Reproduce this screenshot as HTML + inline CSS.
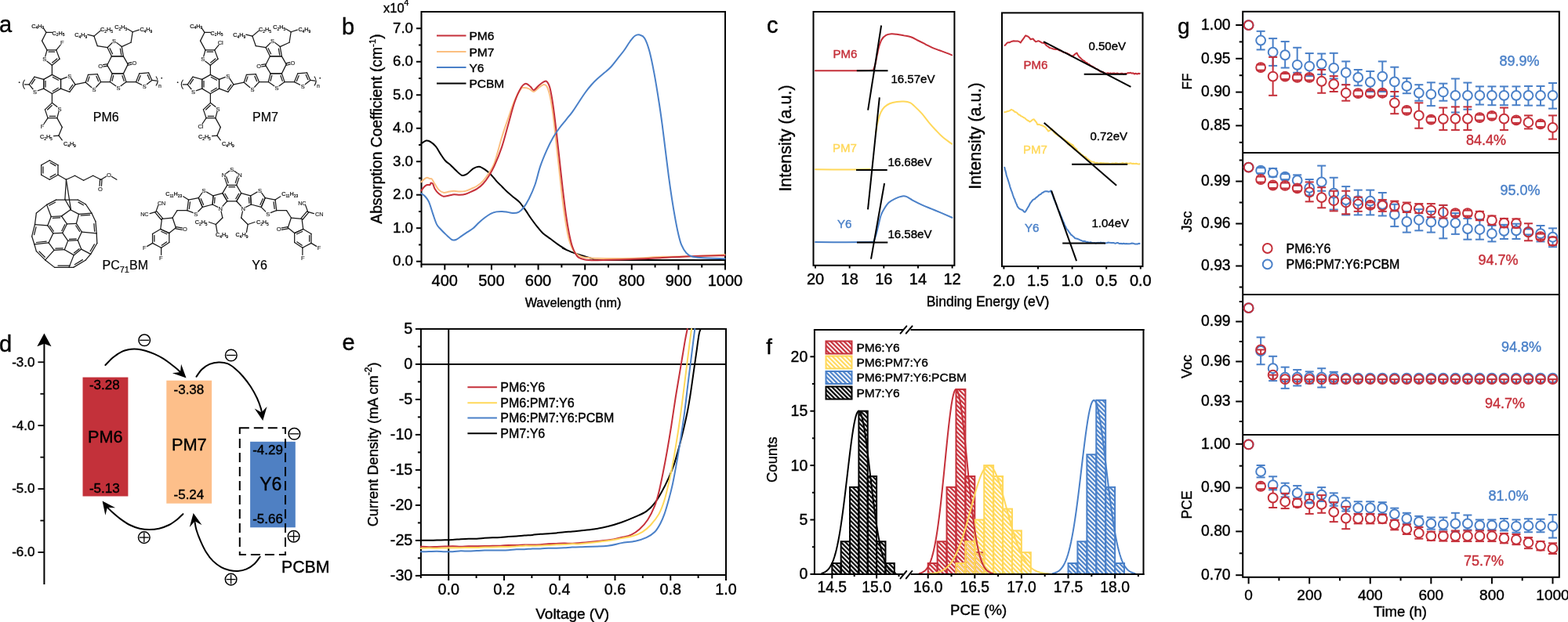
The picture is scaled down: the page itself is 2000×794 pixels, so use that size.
<!DOCTYPE html>
<html><head><meta charset="utf-8"><style>
html,body{margin:0;padding:0;background:#fff;overflow:hidden;}
svg{display:block;}
text{font-family:'Liberation Sans', Arial, sans-serif;}
</style></head><body>
<svg width="2000" height="794" viewBox="0 0 2000 794">
<rect width="2000" height="794" fill="#fff"/>
<text x="-1" y="41" font-size="29" text-anchor="start" fill="#000" stroke="#000" stroke-width="0.4" >a</text>
<text x="436" y="44" font-size="29" text-anchor="start" fill="#000" stroke="#000" stroke-width="0.4" >b</text>
<text x="978" y="42" font-size="29" text-anchor="start" fill="#000" stroke="#000" stroke-width="0.4" >c</text>
<text x="-1" y="449" font-size="29" text-anchor="start" fill="#000" stroke="#000" stroke-width="0.4" >d</text>
<text x="436.5" y="447.3" font-size="29" text-anchor="start" fill="#000" stroke="#000" stroke-width="0.4" >e</text>
<text x="977.3" y="451.7" font-size="27.5" text-anchor="start" fill="#000" stroke="#000" stroke-width="0.4" >f</text>
<text x="1502" y="42.6" font-size="28" text-anchor="start" fill="#000" stroke="#000" stroke-width="0.4" >g</text>
<rect x="537.5" y="15" width="387.5" height="322.5" stroke="#000" stroke-width="2" fill="none" />
<line x1="531" y1="333.7" x2="537.5" y2="333.7" stroke="#000" stroke-width="2" />
<text x="527" y="339.1" font-size="18.7" text-anchor="end" fill="#000" stroke="#000" stroke-width="0.4" >0.0</text>
<line x1="534" y1="312.45" x2="537.5" y2="312.45" stroke="#000" stroke-width="2" />
<line x1="531" y1="291.21" x2="537.5" y2="291.21" stroke="#000" stroke-width="2" />
<text x="527" y="296.61" font-size="18.7" text-anchor="end" fill="#000" stroke="#000" stroke-width="0.4" >1.0</text>
<line x1="534" y1="269.96" x2="537.5" y2="269.96" stroke="#000" stroke-width="2" />
<line x1="531" y1="248.72" x2="537.5" y2="248.72" stroke="#000" stroke-width="2" />
<text x="527" y="254.12" font-size="18.7" text-anchor="end" fill="#000" stroke="#000" stroke-width="0.4" >2.0</text>
<line x1="534" y1="227.47" x2="537.5" y2="227.47" stroke="#000" stroke-width="2" />
<line x1="531" y1="206.23" x2="537.5" y2="206.23" stroke="#000" stroke-width="2" />
<text x="527" y="211.63" font-size="18.7" text-anchor="end" fill="#000" stroke="#000" stroke-width="0.4" >3.0</text>
<line x1="534" y1="184.98" x2="537.5" y2="184.98" stroke="#000" stroke-width="2" />
<line x1="531" y1="163.74" x2="537.5" y2="163.74" stroke="#000" stroke-width="2" />
<text x="527" y="169.14" font-size="18.7" text-anchor="end" fill="#000" stroke="#000" stroke-width="0.4" >4.0</text>
<line x1="534" y1="142.49" x2="537.5" y2="142.49" stroke="#000" stroke-width="2" />
<line x1="531" y1="121.25" x2="537.5" y2="121.25" stroke="#000" stroke-width="2" />
<text x="527" y="126.65" font-size="18.7" text-anchor="end" fill="#000" stroke="#000" stroke-width="0.4" >5.0</text>
<line x1="534" y1="100" x2="537.5" y2="100" stroke="#000" stroke-width="2" />
<line x1="531" y1="78.76" x2="537.5" y2="78.76" stroke="#000" stroke-width="2" />
<text x="527" y="84.16" font-size="18.7" text-anchor="end" fill="#000" stroke="#000" stroke-width="0.4" >6.0</text>
<line x1="534" y1="57.51" x2="537.5" y2="57.51" stroke="#000" stroke-width="2" />
<line x1="531" y1="36.27" x2="537.5" y2="36.27" stroke="#000" stroke-width="2" />
<text x="527" y="41.67" font-size="18.7" text-anchor="end" fill="#000" stroke="#000" stroke-width="0.4" >7.0</text>
<line x1="537.5" y1="337.5" x2="537.5" y2="341.5" stroke="#000" stroke-width="2" />
<line x1="567.31" y1="337.5" x2="567.31" y2="344.5" stroke="#000" stroke-width="2" />
<text x="567.31" y="364.6" font-size="20" text-anchor="middle" fill="#000" stroke="#000" stroke-width="0.4" >400</text>
<line x1="597.12" y1="337.5" x2="597.12" y2="341.5" stroke="#000" stroke-width="2" />
<line x1="626.92" y1="337.5" x2="626.92" y2="344.5" stroke="#000" stroke-width="2" />
<text x="626.92" y="364.6" font-size="20" text-anchor="middle" fill="#000" stroke="#000" stroke-width="0.4" >500</text>
<line x1="656.73" y1="337.5" x2="656.73" y2="341.5" stroke="#000" stroke-width="2" />
<line x1="686.54" y1="337.5" x2="686.54" y2="344.5" stroke="#000" stroke-width="2" />
<text x="686.54" y="364.6" font-size="20" text-anchor="middle" fill="#000" stroke="#000" stroke-width="0.4" >600</text>
<line x1="716.35" y1="337.5" x2="716.35" y2="341.5" stroke="#000" stroke-width="2" />
<line x1="746.15" y1="337.5" x2="746.15" y2="344.5" stroke="#000" stroke-width="2" />
<text x="746.15" y="364.6" font-size="20" text-anchor="middle" fill="#000" stroke="#000" stroke-width="0.4" >700</text>
<line x1="775.96" y1="337.5" x2="775.96" y2="341.5" stroke="#000" stroke-width="2" />
<line x1="805.77" y1="337.5" x2="805.77" y2="344.5" stroke="#000" stroke-width="2" />
<text x="805.77" y="364.6" font-size="20" text-anchor="middle" fill="#000" stroke="#000" stroke-width="0.4" >800</text>
<line x1="835.58" y1="337.5" x2="835.58" y2="341.5" stroke="#000" stroke-width="2" />
<line x1="865.38" y1="337.5" x2="865.38" y2="344.5" stroke="#000" stroke-width="2" />
<text x="865.38" y="364.6" font-size="20" text-anchor="middle" fill="#000" stroke="#000" stroke-width="0.4" >900</text>
<line x1="895.19" y1="337.5" x2="895.19" y2="341.5" stroke="#000" stroke-width="2" />
<line x1="925" y1="337.5" x2="925" y2="344.5" stroke="#000" stroke-width="2" />
<text x="925" y="364.6" font-size="20" text-anchor="middle" fill="#000" stroke="#000" stroke-width="0.4" >1000</text>
<text x="731" y="392" font-size="16.2" text-anchor="middle" fill="#000" stroke="#000" stroke-width="0.4" >Wavelength (nm)</text>
<text x="486.5" y="164.5" font-size="19.3" text-anchor="middle" stroke="#000" stroke-width="0.4" transform="rotate(-90 486.5 164.5)">Absorption Coefficient (cm<tspan font-size="11.5" dy="-7.5">-1</tspan><tspan dy="7.5">)</tspan></text>
<text x="489" y="15.6" font-size="16.5" text-anchor="start" fill="#000" stroke="#000" stroke-width="0.4" >x10<tspan font-size="10.5" dy="-9">4</tspan></text>
<line x1="557" y1="45.6" x2="594.5" y2="45.6" stroke="#C5303A" stroke-width="2" />
<text x="598.5" y="51.2" font-size="15.5" text-anchor="start" fill="#000" stroke="#000" stroke-width="0.4" >PM6</text>
<line x1="557" y1="66.1" x2="594.5" y2="66.1" stroke="#FBBF80" stroke-width="2" />
<text x="598.5" y="71.7" font-size="15.5" text-anchor="start" fill="#000" stroke="#000" stroke-width="0.4" >PM7</text>
<line x1="557" y1="86.1" x2="594.5" y2="86.1" stroke="#4A80C8" stroke-width="2" />
<text x="598.5" y="91.7" font-size="15.5" text-anchor="start" fill="#000" stroke="#000" stroke-width="0.4" >Y6</text>
<line x1="557" y1="106.5" x2="594.5" y2="106.5" stroke="#000" stroke-width="2" />
<text x="598.5" y="112.1" font-size="15.5" text-anchor="start" fill="#000" stroke="#000" stroke-width="0.4" >PCBM</text>
<path d="M537.37,183.17 C538.39,182.56 541.67,179.89 543.51,179.48 C545.36,179.07 546.38,179.48 548.43,180.71 C550.48,181.94 553.55,184.19 555.8,186.86 C558.05,189.52 559.89,193.61 561.94,196.68 C563.99,199.75 566.04,203.03 568.08,205.28 C570.13,207.53 571.97,208.15 574.23,210.2 C576.48,212.24 579.14,215.32 581.6,217.57 C584.05,219.82 586.72,222.89 588.97,223.71 C591.22,224.53 592.65,223.91 595.11,222.48 C597.57,221.05 601.05,216.75 603.71,215.11 C606.37,213.47 608.62,212.45 611.08,212.65 C613.54,212.86 616,214.7 618.45,216.34 C620.91,217.98 623.37,220.02 625.82,222.48 C628.28,224.94 630.74,228.42 633.19,231.08 C635.65,233.74 638.11,236 640.57,238.45 C643.02,240.91 645.48,243.57 647.94,245.82 C650.39,248.08 652.85,249.92 655.31,251.97 C657.76,254.01 660.22,255.45 662.68,258.11 C665.14,260.77 667.59,264.46 670.05,267.94 C672.51,271.42 674.96,275.51 677.42,278.99 C679.88,282.47 682.33,285.75 684.79,288.82 C687.25,291.89 689.3,294.76 692.16,297.42 C695.03,300.08 698.71,302.33 701.99,304.79 C705.27,307.25 708.54,309.91 711.82,312.16 C715.09,314.41 720.65,317.54 721.65,318.3 C722.64,319.07 716.37,316.14 717.77,316.77 C719.17,317.4 725.96,320.52 730.05,322.09 C734.15,323.66 738.24,324.88 742.33,326.18 C746.43,327.48 750.52,328.91 754.61,329.86 C758.71,330.82 751.88,331.57 766.89,331.91 C781.9,332.25 818.4,331.91 844.67,331.91 C870.93,331.91 911.18,331.91 924.49,331.91" stroke="#000" stroke-width="2" fill="none" stroke-linejoin="round" stroke-linecap="round"/>
<path d="M537.37,232.31 C537.99,231.7 539.83,229.57 541.06,228.62 C542.29,227.68 543.51,226.74 544.74,226.66 C545.97,226.58 547.4,227.81 548.43,228.13 C549.45,228.46 549.86,227.52 550.88,228.62 C551.91,229.73 553.14,232.51 554.57,234.77 C556,237.02 557.64,240.29 559.48,242.14 C561.33,243.98 563.37,245.41 565.63,245.82 C567.88,246.23 570.75,244.92 573,244.59 C575.25,244.27 576.89,243.86 579.14,243.86 C581.39,243.86 584.05,244.59 586.51,244.59 C588.97,244.59 591.43,244.47 593.88,243.86 C596.34,243.24 598.8,242.01 601.25,240.91 C603.71,239.8 606.17,238.86 608.62,237.22 C611.08,235.59 613.54,233.74 616,231.08 C618.45,228.42 620.91,225.14 623.37,221.25 C625.82,217.36 627.96,215.36 630.74,207.74 C633.51,200.12 637.09,185.01 640,175.55 C642.91,166.09 645.46,158.83 648.19,150.99 C650.92,143.14 653.64,134.75 656.37,128.47 C659.1,122.2 662.51,116.06 664.56,113.33 C666.61,110.6 666.95,112.1 668.65,112.1 C670.36,112.1 672.75,112.51 674.79,113.33 C676.84,114.15 678.89,117.22 680.93,117.01 C682.98,116.81 685.03,113.6 687.07,112.1 C689.12,110.6 691.51,108.35 693.21,108.01 C694.92,107.67 695.94,107.67 697.31,110.05 C698.67,112.44 700.04,116.19 701.4,122.33 C702.76,128.47 704.13,136.66 705.49,146.89 C706.86,157.13 708.22,171.45 709.59,183.73 C710.95,196.01 712.32,208.29 713.68,220.57 C715.04,232.85 716.41,246.5 717.77,257.41 C719.14,268.33 720.5,277.88 721.87,286.07 C723.23,294.25 724.25,300.73 725.96,306.53 C727.67,312.33 729.71,317.45 732.1,320.86 C734.49,324.27 736.53,325.57 740.29,327 C744.04,328.43 744.04,328.98 754.61,329.46 C765.19,329.93 788.72,330.14 803.73,329.86 C818.74,329.59 831.02,328.3 844.67,327.82 C858.31,327.34 872.3,327.48 885.6,327 C898.9,326.52 918.01,325.29 924.49,324.95" stroke="#FBBF80" stroke-width="2" fill="none" stroke-linejoin="round" stroke-linecap="round"/>
<path d="M537.37,243.37 C537.99,242.55 539.83,239.68 541.06,238.45 C542.29,237.22 543.51,236.4 544.74,236 C545.97,235.59 547.61,236.4 548.43,236 C549.25,235.59 549.04,233.74 549.66,233.54 C550.27,233.33 551.29,233.54 552.11,234.77 C552.93,236 553.34,238.86 554.57,240.91 C555.8,242.96 557.64,245.41 559.48,247.05 C561.33,248.69 563.37,250.33 565.63,250.74 C567.88,251.15 570.75,249.92 573,249.51 C575.25,249.1 576.89,248.4 579.14,248.28 C581.39,248.16 584.05,248.85 586.51,248.77 C588.97,248.69 591.43,248.48 593.88,247.79 C596.34,247.09 598.8,245.74 601.25,244.59 C603.71,243.45 606.17,242.55 608.62,240.91 C611.08,239.27 613.54,237.43 616,234.77 C618.45,232.1 620.91,228.83 623.37,224.94 C625.82,221.05 627.96,217.61 630.74,211.43 C633.51,205.24 637.09,196.54 640,187.83 C642.91,179.12 645.46,168.72 648.19,159.17 C650.92,149.62 653.64,138.37 656.37,130.52 C659.1,122.67 662.17,116.06 664.56,112.1 C666.95,108.14 668.65,106.98 670.7,106.78 C672.75,106.57 675.13,109.51 676.84,110.87 C678.55,112.24 679.23,115.24 680.93,114.97 C682.64,114.69 685.03,110.94 687.07,109.23 C689.12,107.53 691.51,105.62 693.21,104.73 C694.92,103.84 695.94,102.69 697.31,103.91 C698.67,105.14 700.04,106.98 701.4,112.1 C702.76,117.22 704.13,125.4 705.49,134.61 C706.86,143.82 708.22,155.76 709.59,167.36 C710.95,178.96 712.32,191.92 713.68,204.2 C715.04,216.48 716.41,229.44 717.77,241.04 C719.14,252.64 720.5,264.24 721.87,273.79 C723.23,283.34 724.6,291.52 725.96,298.35 C727.32,305.17 728.35,309.94 730.05,314.72 C731.76,319.5 733.81,324.27 736.19,327 C738.58,329.73 740.63,330.21 744.38,331.09 C748.13,331.98 748.81,332.32 758.71,332.32 C768.6,332.32 789.41,331.64 803.73,331.09 C818.06,330.55 831.02,329.73 844.67,329.05 C858.31,328.36 872.3,327.48 885.6,327 C898.9,326.52 918.01,326.32 924.49,326.18" stroke="#C5303A" stroke-width="2" fill="none" stroke-linejoin="round" stroke-linecap="round"/>
<path d="M537.37,247.05 C538.19,247.67 540.65,248.89 542.29,250.74 C543.92,252.58 545.56,254.42 547.2,258.11 C548.84,261.79 550.48,268.14 552.11,272.85 C553.75,277.56 555.39,283.09 557.03,286.36 C558.67,289.64 559.89,290.25 561.94,292.51 C563.99,294.76 566.86,297.62 569.31,299.88 C571.77,302.13 574.64,305 576.68,306.02 C578.73,307.04 579.55,306.84 581.6,306.02 C583.64,305.2 586.51,302.74 588.97,301.11 C591.43,299.47 593.88,297.83 596.34,296.19 C598.8,294.55 601.25,293.33 603.71,291.28 C606.17,289.23 608.62,286.16 611.08,283.91 C613.54,281.65 616,279.61 618.45,277.76 C620.91,275.92 623.37,274.08 625.82,272.85 C628.28,271.62 630.74,270.88 633.19,270.39 C635.65,269.9 638.11,269.82 640.57,269.9 C643.02,269.98 645.48,270.52 647.94,270.88 C650.39,271.25 653.05,272.11 655.31,272.11 C657.56,272.11 659.4,271.99 661.45,270.88 C663.5,269.78 665.34,268.43 667.59,265.48 C669.84,262.53 672.51,258.11 674.96,253.19 C677.42,248.28 679.97,242.8 682.33,236 C684.69,229.19 686.62,219.73 689.12,212.39 C691.62,205.04 694.58,198.06 697.31,191.92 C700.04,185.78 702.76,180.32 705.49,175.55 C708.22,170.77 710.95,167.02 713.68,163.27 C716.41,159.51 719.14,156.44 721.87,153.03 C724.6,149.62 727.32,146.55 730.05,142.8 C732.78,139.05 735.51,134.61 738.24,130.52 C740.97,126.43 743.7,121.99 746.43,118.24 C749.16,114.49 751.88,111.08 754.61,108.01 C757.34,104.94 760.07,102.34 762.8,99.82 C765.53,97.3 768.26,95.25 770.99,92.86 C773.72,90.47 776.44,88.43 779.17,85.49 C781.9,82.56 784.63,78.67 787.36,75.26 C790.09,71.85 792.82,68.78 795.55,65.03 C798.28,61.27 801.35,55.95 803.73,52.75 C806.12,49.54 807.83,47.15 809.87,45.79 C811.92,44.42 813.97,44.08 816.01,44.56 C818.06,45.04 820.11,45.24 822.15,48.65 C824.2,52.06 826.25,57.52 828.29,65.03 C830.34,72.53 832.39,82.76 834.43,93.68 C836.48,104.6 838.87,119.6 840.57,130.52 C842.28,141.44 843.3,148.94 844.67,159.17 C846.03,169.41 847.4,181 848.76,191.92 C850.12,202.84 851.49,214.43 852.85,224.67 C854.22,234.9 855.58,244.45 856.95,253.32 C858.31,262.19 859.68,270.38 861.04,277.88 C862.4,285.38 863.77,292.55 865.13,298.35 C866.5,304.15 867.52,308.58 869.23,312.67 C870.93,316.77 873.32,320.52 875.37,322.91 C877.41,325.29 878.44,325.98 881.51,327 C884.58,328.02 886.62,328.5 893.79,329.05 C900.95,329.59 919.37,330.07 924.49,330.27" stroke="#4A80C8" stroke-width="2" fill="none" stroke-linejoin="round" stroke-linecap="round"/>
<rect x="1037.5" y="15" width="179.9" height="323.8" stroke="#000" stroke-width="2" fill="none" />
<rect x="1278" y="16.4" width="179.5" height="323.6" stroke="#000" stroke-width="2" fill="none" />
<line x1="1040" y1="338.8" x2="1040" y2="342.5" stroke="#000" stroke-width="2" />
<text x="1040" y="363.3" font-size="20" text-anchor="middle" fill="#000" stroke="#000" stroke-width="0.4" >20</text>
<line x1="1083.65" y1="338.8" x2="1083.65" y2="342.5" stroke="#000" stroke-width="2" />
<text x="1083.65" y="363.3" font-size="20" text-anchor="middle" fill="#000" stroke="#000" stroke-width="0.4" >18</text>
<line x1="1127.3" y1="338.8" x2="1127.3" y2="342.5" stroke="#000" stroke-width="2" />
<text x="1127.3" y="363.3" font-size="20" text-anchor="middle" fill="#000" stroke="#000" stroke-width="0.4" >16</text>
<line x1="1170.95" y1="338.8" x2="1170.95" y2="342.5" stroke="#000" stroke-width="2" />
<text x="1170.95" y="363.3" font-size="20" text-anchor="middle" fill="#000" stroke="#000" stroke-width="0.4" >14</text>
<line x1="1214.6" y1="338.8" x2="1214.6" y2="342.5" stroke="#000" stroke-width="2" />
<text x="1214.6" y="363.3" font-size="20" text-anchor="middle" fill="#000" stroke="#000" stroke-width="0.4" >12</text>
<line x1="1280.4" y1="340" x2="1280.4" y2="343.5" stroke="#000" stroke-width="2" />
<text x="1280.4" y="364.6" font-size="20" text-anchor="middle" fill="#000" stroke="#000" stroke-width="0.4" >2.0</text>
<line x1="1324" y1="340" x2="1324" y2="343.5" stroke="#000" stroke-width="2" />
<text x="1324" y="364.6" font-size="20" text-anchor="middle" fill="#000" stroke="#000" stroke-width="0.4" >1.5</text>
<line x1="1367.6" y1="340" x2="1367.6" y2="343.5" stroke="#000" stroke-width="2" />
<text x="1367.6" y="364.6" font-size="20" text-anchor="middle" fill="#000" stroke="#000" stroke-width="0.4" >1.0</text>
<line x1="1411.2" y1="340" x2="1411.2" y2="343.5" stroke="#000" stroke-width="2" />
<text x="1411.2" y="364.6" font-size="20" text-anchor="middle" fill="#000" stroke="#000" stroke-width="0.4" >0.5</text>
<line x1="1454.8" y1="340" x2="1454.8" y2="343.5" stroke="#000" stroke-width="2" />
<text x="1454.8" y="364.6" font-size="20" text-anchor="middle" fill="#000" stroke="#000" stroke-width="0.4" >0.0</text>
<text x="1260" y="391" font-size="17.5" text-anchor="middle" fill="#000" stroke="#000" stroke-width="0.4" >Binding Energy (eV)</text>
<text x="1008.9" y="176.5" font-size="21.5" text-anchor="middle" fill="#000" stroke="#000" stroke-width="0.4" transform="rotate(-90 1008.9 176.5)" >Intensity (a.u.)</text>
<text x="1251" y="173.5" font-size="21.5" text-anchor="middle" fill="#000" stroke="#000" stroke-width="0.4" transform="rotate(-90 1251 173.5)" >Intensity (a.u.)</text>
<path d="M1039.99,90.28 C1046.71,90.28 1068.33,90.35 1080.34,90.28 C1092.36,90.2 1106.41,90.2 1112.08,89.83 C1117.75,89.45 1113.59,89.45 1114.35,88.01 C1115.1,86.58 1115.86,84.23 1116.61,81.21 C1117.37,78.19 1118.13,73.46 1118.88,69.88 C1119.64,66.29 1120.2,62.89 1121.15,59.67 C1122.09,56.46 1123.04,53.06 1124.55,50.61 C1126.06,48.15 1128.14,46.15 1130.22,44.94 C1132.29,43.73 1134.75,43.54 1137.02,43.35 C1139.28,43.16 1141.17,43.46 1143.82,43.8 C1146.46,44.14 1149.86,44.82 1152.89,45.39 C1155.91,45.96 1158.93,46.15 1161.96,47.2 C1164.98,48.26 1168,50.23 1171.02,51.74 C1174.05,53.25 1177.07,54.76 1180.09,56.27 C1183.11,57.78 1186.14,59.48 1189.16,60.81 C1192.18,62.13 1195.21,63.07 1198.23,64.21 C1201.25,65.34 1204.65,66.59 1207.3,67.61 C1209.94,68.63 1212.96,69.88 1214.1,70.33" stroke="#C5303A" stroke-width="2" fill="none" stroke-linejoin="round" stroke-linecap="round"/>
<path d="M1040.04,216.28 C1045.92,216.31 1063.72,216.51 1075.31,216.48 C1086.89,216.44 1103.86,216.14 1109.57,216.07" stroke="#FFD85A" stroke-width="2" fill="none" stroke-linejoin="round" stroke-linecap="round"/>
<path d="M1117.07,169.63 C1117.18,168.87 1117.26,167.74 1117.75,165.09 C1118.24,162.45 1119.07,157.35 1120.01,153.76 C1120.96,150.17 1122.09,146.39 1123.42,143.55 C1124.74,140.72 1126.06,138.64 1127.95,136.75 C1129.84,134.86 1132.11,133.35 1134.75,132.22 C1137.4,131.09 1140.8,130.41 1143.82,129.95 C1146.84,129.5 1150.05,129.31 1152.89,129.5 C1155.72,129.69 1158.55,130.07 1160.82,131.09 C1163.09,132.11 1164.03,133.35 1166.49,135.62 C1168.95,137.89 1172.53,141.29 1175.56,144.69 C1178.58,148.09 1181.6,152.43 1184.63,156.02 C1187.65,159.61 1190.67,163.01 1193.69,166.23 C1196.72,169.44 1199.36,172.38 1202.76,175.29 C1206.16,178.2 1212.21,182.28 1214.1,183.68" stroke="#FFD85A" stroke-width="2" fill="none" stroke-linejoin="round" stroke-linecap="round"/>
<path d="M1040.04,308.98 C1045.92,309.01 1063.38,309.22 1075.31,309.18 C1087.23,309.15 1105,309.15 1111.58,308.78 C1118.17,308.41 1113.8,308.61 1114.81,306.96 C1115.81,305.32 1116.65,302.26 1117.63,298.9 C1118.6,295.54 1119.64,290.84 1120.65,286.81 C1121.66,282.78 1122.5,278.08 1123.67,274.72 C1124.85,271.36 1126.03,269.35 1127.7,266.66 C1129.38,263.97 1131.4,260.78 1133.75,258.6 C1136.1,256.41 1138.96,254.9 1141.81,253.56 C1144.67,252.22 1148.53,250.97 1150.88,250.54 C1153.23,250.1 1153.74,250.1 1155.92,250.94 C1158.1,251.78 1160.62,253.79 1163.98,255.57 C1167.34,257.35 1172.04,259.77 1176.07,261.62 C1180.1,263.47 1184.13,264.98 1188.16,266.66 C1192.19,268.34 1195.89,269.85 1200.26,271.7 C1204.62,273.54 1212.01,276.74 1214.36,277.74" stroke="#4A80C8" stroke-width="2" fill="none" stroke-linejoin="round" stroke-linecap="round"/>
<line x1="1124.1" y1="32.5" x2="1107.1" y2="140.6" stroke="#000" stroke-width="2" />
<line x1="1092.8" y1="90.3" x2="1132.5" y2="90.3" stroke="#000" stroke-width="2" />
<line x1="1121.8" y1="124.3" x2="1107" y2="267.3" stroke="#000" stroke-width="2" />
<line x1="1092" y1="216.9" x2="1131.7" y2="216.9" stroke="#000" stroke-width="2" />
<line x1="1128.1" y1="233.8" x2="1111" y2="330.7" stroke="#000" stroke-width="2" />
<line x1="1093" y1="309.6" x2="1132.3" y2="309.6" stroke="#000" stroke-width="2" />
<text x="1062.5" y="73.6" font-size="15" text-anchor="start" fill="#C5303A" stroke="#C5303A" stroke-width="0.4" >PM6</text>
<text x="1062" y="193.6" font-size="15" text-anchor="start" fill="#FFD85A" stroke="#FFD85A" stroke-width="0.4" >PM7</text>
<text x="1068" y="290.8" font-size="15" text-anchor="start" fill="#4A80C8" stroke="#4A80C8" stroke-width="0.4" >Y6</text>
<text x="1136.5" y="106.2" font-size="15" text-anchor="start" fill="#000" stroke="#000" stroke-width="0.4" >16.57eV</text>
<text x="1132.5" y="212.3" font-size="15" text-anchor="start" fill="#000" stroke="#000" stroke-width="0.4" >16.68eV</text>
<text x="1132.5" y="304" font-size="15" text-anchor="start" fill="#000" stroke="#000" stroke-width="0.4" >16.58eV</text>
<polyline points="1281,58.34 1282.57,57.26 1284.14,55.21 1285.71,54.17 1287.49,54.28 1289.28,53.46 1291.06,52.67 1292.93,52.27 1294.81,52.6 1296.68,52.6 1298.55,52.57 1300.16,53.18 1301.77,54.55 1302.84,52.72 1303.91,51.3 1304.98,49.82 1306.05,48.48 1307.12,46.75 1308.19,45.36 1309.8,46.02 1311.4,46.62 1313.01,48.22 1314.61,50.3 1316.22,49.82 1317.83,49.57 1319.43,51.84 1321.04,53.15 1322.64,52.87 1324.25,52.19 1326.39,53.03 1328.53,54.43 1330.67,54.76 1332.82,55.71 1334.24,57.67 1335.67,58.74 1337.1,59.63 1338.7,60.95 1340.31,61.38 1341.92,61.84 1343.52,62.57 1345.13,62.68 1346.73,62.97 1348.34,62.76 1349.95,63.72 1351.55,64.5 1353.16,64.42 1354.76,65.88 1356.37,66.64 1357.98,66.9 1359.58,67.51 1361.19,68 1362.79,69.01 1364.22,69.62 1365.65,71.05 1367.08,71.6 1368.68,71.11 1370.29,70.05 1371.9,68.5 1373.5,67.55 1374.57,69.72 1375.64,71.29 1376.71,72.81 1378.32,74.13 1379.93,75.85 1381.53,77.33 1383.14,77.81 1384.74,79.7 1386.35,80.07 1387.78,81.67 1389.2,81.9 1390.63,83.5 1392.06,84.12 1393.49,84.79 1394.91,85.69 1396.34,86.73 1397.77,87.56 1399.2,88.14 1400.62,88.92 1402.05,90.15 1403.48,91.51 1405.09,91.7 1406.69,91.63 1408.3,92.99 1409.9,93.42 1411.51,93.78 1413.12,93.15 1414.72,93.92 1416.33,93.33 1418.04,93.98 1419.75,93.56 1421.47,93.51 1423.18,94.22 1424.89,93.38 1426.61,93.92 1428.32,94.37 1430.03,93.79 1431.75,93.84 1433.46,94.66 1435.17,93.94 1436.88,94.05 1438.6,93.08 1440.31,93.23 1442.02,92.81 1443.63,93.63 1445.24,93.25 1446.84,94.47 1448.45,93.72 1450.45,94.49 1452.44,93.71 1454.44,94.24" stroke="#C5303A" stroke-width="2" fill="none" stroke-linejoin="round" />
<polyline points="1280.35,143.2 1282.49,143 1284.64,142.28 1286.42,141.82 1288.2,141.13 1289.99,139.8 1292.13,140.81 1294.27,142.79 1295.88,143.23 1297.48,144.27 1299.09,146.18 1300.7,146.67 1302.3,148.14 1303.91,148.82 1305.51,150.07 1307.12,150.6 1308.73,152.2 1310.33,153.53 1311.94,154.22 1313.54,155.53 1315.33,154.39 1317.11,152.65 1318.9,152.34 1319.97,153.76 1321.04,155.05 1322.11,156.36 1323.18,158.88 1324.96,158.81 1326.75,159.43 1328.53,159.97 1330.67,160.86 1332.82,162.15 1333.89,162.91 1334.96,164.7 1336.03,165.65 1337.1,167.52 1339.24,166.39 1341.38,164.46 1342.45,165.84 1343.52,167.27 1344.59,169.43 1345.66,170.19 1347.09,171.47 1348.52,172.18 1349.95,173.48 1352.09,174.41 1354.23,175.45 1355.84,176.77 1357.44,177.84 1359.05,179.27 1360.65,180.09 1362.26,181.44 1363.87,182.43 1365.47,183.65 1367.08,184.36 1368.36,185.09 1369.65,187.14 1370.93,188.54 1372.22,189.76 1373.5,190.68 1372.02,189.89 1370.54,188.39 1369.06,188.12 1367.58,186.89 1366.1,185.63 1364.62,184.44 1363.14,184.36 1361.66,183.56 1363,183.58 1364.35,185.37 1365.69,185.95 1366.95,186.67 1368.21,187.83 1369.47,189.36 1370.73,190.49 1371.99,190.58 1373.25,192.22 1374.51,192.6 1375.77,194.35 1377.11,194.93 1378.45,196.54 1379.8,197.66 1381.14,198.14 1382.48,199.69 1383.83,199.94 1385.34,200.95 1386.85,202.78 1388.36,203.42 1389.87,204.86 1391.38,205.75 1392.9,206.62 1394.41,206.78 1395.92,207.31 1397.53,208.3 1399.14,207.77 1400.76,208.56 1402.37,208.57 1403.98,208.08 1405.71,208.23 1407.44,208.35 1409.16,208.55 1410.89,208.55 1412.62,208.57 1414.34,208.69 1416.07,209.1 1417.8,208.63 1419.53,208.54 1421.25,208.86 1422.98,208.33 1424.71,208.4 1426.44,209.14 1428.16,208.64 1429.89,208.67 1431.62,208.08 1433.35,208.52 1435.07,208.71 1436.8,208.09 1438.53,208.74 1440.26,208.76 1442.02,208.21 1443.78,208.91 1445.55,208.81 1447.31,209.12 1449.07,208.83 1450.84,209.3 1452.6,209.41 1454.36,209.22" stroke="#FFD85A" stroke-width="2" fill="none" stroke-linejoin="round" />
<polyline points="1281.05,212.96 1281.48,214.4 1281.91,216.31 1282.34,217.62 1282.77,219.11 1283.21,221.06 1283.64,223.21 1284.07,224.67 1284.57,226.31 1285.08,227.39 1285.58,229.42 1286.08,230.81 1286.59,232.37 1287.09,233.98 1287.67,235.83 1288.24,238.34 1288.82,239.96 1289.4,241.66 1289.97,243.38 1290.55,244.44 1291.12,246.3 1291.73,248.26 1292.33,249.99 1292.94,251.73 1293.54,253.37 1294.15,254.11 1294.82,256.36 1295.49,258.11 1296.16,259.61 1296.83,260.93 1297.5,262.93 1298.18,264.19 1299.86,266.13 1301.53,267.06 1303.21,267.72 1304.56,268.45 1305.9,270.13 1307.25,270.77 1308.25,269.6 1309.26,268.05 1310.27,266.16 1311.28,264.55 1312.08,263.34 1312.89,261.75 1313.69,260.04 1314.5,258.79 1315.31,257.93 1316.82,255.83 1318.33,254.57 1319.84,253.95 1321.35,252.31 1322.86,251.33 1324.38,250 1325.89,248.6 1327.4,248.06 1328.91,246.32 1330.42,245.7 1331.93,244.62 1333.44,244.23 1335.46,244.24 1337.47,244.73 1338.99,244.46 1340.5,243.29 1341.07,245.13 1341.65,247.09 1342.23,247.79 1342.8,249.33 1343.38,251.1 1343.95,253.27 1344.53,254.69 1345.16,255.79 1345.79,257.4 1346.42,258.75 1347.05,260.57 1347.68,261.62 1348.31,263.85 1348.94,265.58 1349.57,267.16 1350.2,268.43 1350.83,270.19 1351.46,270.66 1352.09,272.47 1352.72,274.73 1353.35,276.03 1353.98,277.14 1354.6,279.24 1355.28,280.56 1355.95,282.46 1356.62,283.56 1357.29,285.13 1357.96,287.09 1358.64,288.43 1359.64,290.31 1360.65,292.56 1361.66,293.48 1362.67,294.74 1363.67,296.39 1364.88,297.73 1366.09,299.62 1367.3,300.36 1368.51,301.49 1369.72,302.49 1371.33,304.27 1372.94,304.46 1374.56,305.03 1376.17,305.67 1377.78,306.48 1379.39,307 1381.01,307.97 1382.62,307.79 1384.23,308.07 1385.84,308.97 1387.52,308.87 1389.2,309.86 1390.88,309.07 1392.56,309.68 1394.24,310.12 1395.92,309.89 1397.53,310.52 1399.14,309.96 1400.76,309.7 1402.37,309.89 1403.98,309.48 1405.59,309.9 1407.2,309.71 1408.82,310.42 1410.43,310.35 1412.04,309.99 1413.8,309.55 1415.57,309.87 1417.33,309.93 1419.1,309.97 1420.86,310.07 1422.62,310.85 1424.39,310.12 1426.15,310.1 1427.91,311.11 1429.68,310.77 1431.44,311.28 1433.2,310.69 1434.97,311.29 1436.73,311.06 1438.49,311.27 1440.26,311.26 1442.02,310.99 1443.78,310.55 1445.55,310.68 1447.31,311.41 1449.07,311.44 1450.84,311.46 1452.6,310.82 1454.36,311" stroke="#4A80C8" stroke-width="2" fill="none" stroke-linejoin="round" />
<line x1="1331.1" y1="53.1" x2="1442.4" y2="110.9" stroke="#000" stroke-width="2" />
<line x1="1382.7" y1="94.7" x2="1437.1" y2="94.7" stroke="#000" stroke-width="2" />
<line x1="1331.7" y1="156.8" x2="1424.1" y2="236.8" stroke="#000" stroke-width="2" />
<line x1="1367.1" y1="209.8" x2="1438.2" y2="209.8" stroke="#000" stroke-width="2" />
<line x1="1341.1" y1="243.5" x2="1373.1" y2="333.2" stroke="#000" stroke-width="2" />
<line x1="1355.2" y1="310.6" x2="1410" y2="310.6" stroke="#000" stroke-width="2" />
<text x="1305.5" y="88.2" font-size="15" text-anchor="start" fill="#C5303A" stroke="#C5303A" stroke-width="0.4" >PM6</text>
<text x="1305" y="196" font-size="15" text-anchor="start" fill="#FFD85A" stroke="#FFD85A" stroke-width="0.4" >PM7</text>
<text x="1307" y="295.9" font-size="15" text-anchor="start" fill="#4A80C8" stroke="#4A80C8" stroke-width="0.4" >Y6</text>
<text x="1388.5" y="63.6" font-size="15" text-anchor="start" fill="#000" stroke="#000" stroke-width="0.4" >0.50eV</text>
<text x="1390.5" y="179.3" font-size="15" text-anchor="start" fill="#000" stroke="#000" stroke-width="0.4" >0.72eV</text>
<text x="1392.5" y="289.8" font-size="15" text-anchor="start" fill="#000" stroke="#000" stroke-width="0.4" >1.04eV</text>
<line x1="56.4" y1="436" x2="56.4" y2="746" stroke="#000" stroke-width="2" />
<path d="M56.4,425.4 L47.3,442.3 L56.4,438.8 L65.5,442.3 Z" fill="#000"/>
<line x1="48.4" y1="462.3" x2="56.4" y2="462.3" stroke="#000" stroke-width="1.8" />
<text x="44.5" y="467.6" font-size="17" text-anchor="end" fill="#000" stroke="#000" stroke-width="0.4" >-3.0</text>
<line x1="51.4" y1="502.75" x2="56.4" y2="502.75" stroke="#000" stroke-width="1.8" />
<line x1="48.4" y1="543.2" x2="56.4" y2="543.2" stroke="#000" stroke-width="1.8" />
<text x="44.5" y="548.5" font-size="17" text-anchor="end" fill="#000" stroke="#000" stroke-width="0.4" >-4.0</text>
<line x1="51.4" y1="583.65" x2="56.4" y2="583.65" stroke="#000" stroke-width="1.8" />
<line x1="48.4" y1="624.1" x2="56.4" y2="624.1" stroke="#000" stroke-width="1.8" />
<text x="44.5" y="629.4" font-size="17" text-anchor="end" fill="#000" stroke="#000" stroke-width="0.4" >-5.0</text>
<line x1="51.4" y1="664.55" x2="56.4" y2="664.55" stroke="#000" stroke-width="1.8" />
<line x1="48.4" y1="705" x2="56.4" y2="705" stroke="#000" stroke-width="1.8" />
<text x="44.5" y="710.3" font-size="17" text-anchor="end" fill="#000" stroke="#000" stroke-width="0.4" >-6.0</text>
<text x="44" y="743.5" font-size="14" text-anchor="start" fill="#000" stroke="#000" stroke-width="0.4" ></text>
<rect x="105.5" y="481.6" width="57.9" height="151.9" stroke="none" stroke-width="0" fill="#C3313A" />
<rect x="212.3" y="485.7" width="57.8" height="157" stroke="none" stroke-width="0" fill="#FDBF8A" />
<rect x="319.1" y="563.8" width="57.7" height="109.5" stroke="none" stroke-width="0" fill="#4F80C3" />
<rect x="305.8" y="546.3" width="58.2" height="161.7" stroke="#000" stroke-width="2" fill="none" stroke-dasharray="12,6"/>
<text x="133.3" y="497.1" font-size="17" text-anchor="middle" fill="#000" stroke="#000" stroke-width="0.4" >-3.28</text>
<text x="133.3" y="628.5" font-size="17" text-anchor="middle" fill="#000" stroke="#000" stroke-width="0.4" >-5.13</text>
<text x="240.9" y="502.6" font-size="17" text-anchor="middle" fill="#000" stroke="#000" stroke-width="0.4" >-3.38</text>
<text x="240.9" y="637.1" font-size="17" text-anchor="middle" fill="#000" stroke="#000" stroke-width="0.4" >-5.24</text>
<text x="341.5" y="579.6" font-size="17" text-anchor="middle" fill="#000" stroke="#000" stroke-width="0.4" >-4.29</text>
<text x="341.5" y="668.3" font-size="17" text-anchor="middle" fill="#000" stroke="#000" stroke-width="0.4" >-5.66</text>
<text x="134.2" y="565" font-size="21.6" text-anchor="middle" fill="#000" stroke="#000" stroke-width="0.4" >PM6</text>
<text x="241.3" y="574.6" font-size="21.8" text-anchor="middle" fill="#000" stroke="#000" stroke-width="0.4" >PM7</text>
<text x="345.2" y="625.9" font-size="23" text-anchor="middle" fill="#000" stroke="#000" stroke-width="0.4" >Y6</text>
<text x="359" y="730.7" font-size="21.3" text-anchor="start" fill="#000" stroke="#000" stroke-width="0.4" >PCBM</text>
<path d="M134.4,466.07 C136.1,464.38 140.95,458.84 144.55,455.92 C148.16,453 152.19,450.25 156.01,448.56 C159.83,446.87 164.2,446.24 167.47,445.77 C170.74,445.31 172.65,445.45 175.66,445.77 C178.66,446.1 181.93,446.73 185.48,447.74 C189.02,448.75 193.12,450.14 196.94,451.83 C200.76,453.52 204.85,455.7 208.39,457.89 C211.94,460.07 215.21,462.66 218.22,464.93 C221.22,467.19 223.94,469.29 226.4,471.47 C228.86,473.66 232.28,477.36 232.95,478.02 C233.62,478.68 230.83,475.86 230.41,475.42" stroke="#000" stroke-width="2" fill="none" stroke-linejoin="round" stroke-linecap="round"/>
<path d="M237.53,482.44 L219.81,476.21 L230.02,475.04 L231.04,464.81 Z" fill="#000"/>
<path d="M250.46,480.8 C251.64,479.25 254.69,474.12 257.5,471.47 C260.31,468.83 263.78,466.43 267.32,464.93 C270.87,463.43 274.96,462.61 278.78,462.47 C282.6,462.33 286.69,462.74 290.24,464.11 C293.79,465.47 296.79,467.93 300.06,470.66 C303.34,473.38 306.61,476.66 309.88,480.48 C313.16,484.3 316.7,488.93 319.71,493.57 C322.71,498.21 325.71,503.67 327.89,508.3 C330.07,512.94 331.71,517.85 332.8,521.4 C333.89,524.95 334.29,528.64 334.44,529.59 C334.59,530.53 333.82,527.49 333.7,527.07" stroke="#000" stroke-width="2" fill="none" stroke-linejoin="round" stroke-linecap="round"/>
<path d="M335.26,536.95 L324.7,521.41 L333.61,526.54 L340.51,518.91 Z" fill="#000"/>
<path d="M233.4,656.16 C232.14,657.33 228.85,660.86 225.82,663.21 C222.79,665.56 219.06,668.35 215.24,670.26 C211.42,672.18 207.01,673.7 202.89,674.67 C198.78,675.64 194.66,676.08 190.55,676.08 C186.43,676.08 182.32,675.64 178.2,674.67 C174.09,673.7 169.97,672.32 165.86,670.26 C161.74,668.21 157.33,665.12 153.51,662.33 C149.69,659.54 145.87,656.16 142.93,653.51 C139.99,650.86 137.58,648.28 135.87,646.46 C134.17,644.63 132.58,642.42 132.7,642.57 C132.82,642.73 135.93,646.6 136.58,647.4" stroke="#000" stroke-width="2" fill="none" stroke-linejoin="round" stroke-linecap="round"/>
<path d="M130.58,639.4 L147.18,648.2 L136.91,647.83 L134.38,657.8 Z" fill="#000"/>
<path d="M331.64,710.83 C330.46,712.3 327.52,717 324.59,719.65 C321.65,722.29 317.53,725.14 314,726.7 C310.48,728.26 306.95,728.79 303.42,728.99 C299.89,729.2 296.37,728.76 292.84,727.94 C289.31,727.11 285.78,726.03 282.26,724.06 C278.73,722.09 274.91,719.35 271.68,716.12 C268.44,712.89 265.5,708.92 262.86,704.66 C260.21,700.39 257.86,695.25 255.8,690.55 C253.74,685.84 251.75,680.55 250.51,676.44 C249.28,672.32 248.75,667.8 248.4,665.86 C248.04,663.91 248.4,664.94 248.41,664.76" stroke="#000" stroke-width="2" fill="none" stroke-linejoin="round" stroke-linecap="round"/>
<path d="M246.63,654.92 L257.52,670.23 L248.5,665.29 L241.78,673.07 Z" fill="#000"/>
<circle cx="184.2" cy="434.3" r="7.3" stroke="#000" stroke-width="1.5" fill="none"/>
<line x1="178.2" y1="434.3" x2="190.2" y2="434.3" stroke="#000" stroke-width="1.3" />
<circle cx="294.8" cy="453.5" r="7.3" stroke="#000" stroke-width="1.5" fill="none"/>
<line x1="288.8" y1="453.5" x2="300.8" y2="453.5" stroke="#000" stroke-width="1.3" />
<circle cx="375.4" cy="553.8" r="7.3" stroke="#000" stroke-width="1.5" fill="none"/>
<line x1="369.4" y1="553.8" x2="381.4" y2="553.8" stroke="#000" stroke-width="1.3" />
<circle cx="183.8" cy="686.1" r="7.3" stroke="#000" stroke-width="1.5" fill="none"/>
<line x1="177.8" y1="686.1" x2="189.8" y2="686.1" stroke="#000" stroke-width="1.3" />
<line x1="183.8" y1="680.1" x2="183.8" y2="692.1" stroke="#000" stroke-width="1.3" />
<circle cx="294.6" cy="739.6" r="7.3" stroke="#000" stroke-width="1.5" fill="none"/>
<line x1="288.6" y1="739.6" x2="300.6" y2="739.6" stroke="#000" stroke-width="1.3" />
<line x1="294.6" y1="733.6" x2="294.6" y2="745.6" stroke="#000" stroke-width="1.3" />
<circle cx="374.6" cy="684.7" r="7.3" stroke="#000" stroke-width="1.5" fill="none"/>
<line x1="368.6" y1="684.7" x2="380.6" y2="684.7" stroke="#000" stroke-width="1.3" />
<line x1="374.6" y1="678.7" x2="374.6" y2="690.7" stroke="#000" stroke-width="1.3" />
<rect x="536.9" y="419.9" width="389.1" height="314.1" stroke="#000" stroke-width="2" fill="none" />
<line x1="536.9" y1="464.9" x2="926" y2="464.9" stroke="#000" stroke-width="2" />
<line x1="572.2" y1="419.9" x2="572.2" y2="734" stroke="#000" stroke-width="2" />
<line x1="529.9" y1="734.9" x2="536.9" y2="734.9" stroke="#000" stroke-width="2" />
<text x="526.3" y="741.1" font-size="19.7" text-anchor="end" fill="#000" stroke="#000" stroke-width="0.4" >-30</text>
<line x1="532.9" y1="712.4" x2="536.9" y2="712.4" stroke="#000" stroke-width="2" />
<line x1="529.9" y1="689.9" x2="536.9" y2="689.9" stroke="#000" stroke-width="2" />
<text x="526.3" y="696.1" font-size="19.7" text-anchor="end" fill="#000" stroke="#000" stroke-width="0.4" >-25</text>
<line x1="532.9" y1="667.4" x2="536.9" y2="667.4" stroke="#000" stroke-width="2" />
<line x1="529.9" y1="644.9" x2="536.9" y2="644.9" stroke="#000" stroke-width="2" />
<text x="526.3" y="651.1" font-size="19.7" text-anchor="end" fill="#000" stroke="#000" stroke-width="0.4" >-20</text>
<line x1="532.9" y1="622.4" x2="536.9" y2="622.4" stroke="#000" stroke-width="2" />
<line x1="529.9" y1="599.9" x2="536.9" y2="599.9" stroke="#000" stroke-width="2" />
<text x="526.3" y="606.1" font-size="19.7" text-anchor="end" fill="#000" stroke="#000" stroke-width="0.4" >-15</text>
<line x1="532.9" y1="577.4" x2="536.9" y2="577.4" stroke="#000" stroke-width="2" />
<line x1="529.9" y1="554.9" x2="536.9" y2="554.9" stroke="#000" stroke-width="2" />
<text x="526.3" y="561.1" font-size="19.7" text-anchor="end" fill="#000" stroke="#000" stroke-width="0.4" >-10</text>
<line x1="532.9" y1="532.4" x2="536.9" y2="532.4" stroke="#000" stroke-width="2" />
<line x1="529.9" y1="509.9" x2="536.9" y2="509.9" stroke="#000" stroke-width="2" />
<text x="526.3" y="516.1" font-size="19.7" text-anchor="end" fill="#000" stroke="#000" stroke-width="0.4" >-5</text>
<line x1="532.9" y1="487.4" x2="536.9" y2="487.4" stroke="#000" stroke-width="2" />
<line x1="529.9" y1="464.9" x2="536.9" y2="464.9" stroke="#000" stroke-width="2" />
<text x="526.3" y="471.1" font-size="19.7" text-anchor="end" fill="#000" stroke="#000" stroke-width="0.4" >0</text>
<line x1="532.9" y1="442.4" x2="536.9" y2="442.4" stroke="#000" stroke-width="2" />
<line x1="529.9" y1="419.9" x2="536.9" y2="419.9" stroke="#000" stroke-width="2" />
<text x="526.3" y="426.1" font-size="19.7" text-anchor="end" fill="#000" stroke="#000" stroke-width="0.4" >5</text>
<line x1="536.82" y1="734" x2="536.82" y2="738" stroke="#000" stroke-width="2" />
<line x1="572.2" y1="734" x2="572.2" y2="741" stroke="#000" stroke-width="2" />
<text x="572.2" y="759.4" font-size="19.7" text-anchor="middle" fill="#000" stroke="#000" stroke-width="0.4" >0.0</text>
<line x1="607.58" y1="734" x2="607.58" y2="738" stroke="#000" stroke-width="2" />
<line x1="642.96" y1="734" x2="642.96" y2="741" stroke="#000" stroke-width="2" />
<text x="642.96" y="759.4" font-size="19.7" text-anchor="middle" fill="#000" stroke="#000" stroke-width="0.4" >0.2</text>
<line x1="678.34" y1="734" x2="678.34" y2="738" stroke="#000" stroke-width="2" />
<line x1="713.72" y1="734" x2="713.72" y2="741" stroke="#000" stroke-width="2" />
<text x="713.72" y="759.4" font-size="19.7" text-anchor="middle" fill="#000" stroke="#000" stroke-width="0.4" >0.4</text>
<line x1="749.1" y1="734" x2="749.1" y2="738" stroke="#000" stroke-width="2" />
<line x1="784.48" y1="734" x2="784.48" y2="741" stroke="#000" stroke-width="2" />
<text x="784.48" y="759.4" font-size="19.7" text-anchor="middle" fill="#000" stroke="#000" stroke-width="0.4" >0.6</text>
<line x1="819.86" y1="734" x2="819.86" y2="738" stroke="#000" stroke-width="2" />
<line x1="855.24" y1="734" x2="855.24" y2="741" stroke="#000" stroke-width="2" />
<text x="855.24" y="759.4" font-size="19.7" text-anchor="middle" fill="#000" stroke="#000" stroke-width="0.4" >0.8</text>
<line x1="890.62" y1="734" x2="890.62" y2="738" stroke="#000" stroke-width="2" />
<line x1="926" y1="734" x2="926" y2="741" stroke="#000" stroke-width="2" />
<text x="926" y="759.4" font-size="19.7" text-anchor="middle" fill="#000" stroke="#000" stroke-width="0.4" >1.0</text>
<text x="683.2" y="789.7" font-size="19" text-anchor="start" fill="#000" stroke="#000" stroke-width="0.4" >Voltage (V)</text>
<text x="482" y="567.4" font-size="18.2" text-anchor="middle" stroke="#000" stroke-width="0.4" transform="rotate(-90 482 567.4)">Current Density (mA cm<tspan font-size="12" dy="-8">-2</tspan><tspan dy="8">)</tspan></text>
<line x1="596.4" y1="494.2" x2="633.9" y2="494.2" stroke="#C5303A" stroke-width="2" />
<text x="638.3" y="499.9" font-size="16" text-anchor="start" fill="#000" stroke="#000" stroke-width="0.4" >PM6:Y6</text>
<line x1="596.4" y1="514.3" x2="633.9" y2="514.3" stroke="#FFD85A" stroke-width="2" />
<text x="638.3" y="520" font-size="16" text-anchor="start" fill="#000" stroke="#000" stroke-width="0.4" >PM6:PM7:Y6</text>
<line x1="596.4" y1="533.5" x2="633.9" y2="533.5" stroke="#4A80C8" stroke-width="2" />
<text x="638.3" y="539.2" font-size="16" text-anchor="start" fill="#000" stroke="#000" stroke-width="0.4" >PM6:PM7:Y6:PCBM</text>
<line x1="596.4" y1="553.3" x2="633.9" y2="553.3" stroke="#000" stroke-width="2" />
<text x="638.3" y="559" font-size="16" text-anchor="start" fill="#000" stroke="#000" stroke-width="0.4" >PM7:Y6</text>
<path d="M536.9,689.72 C538.59,689.73 543.67,689.86 547.05,689.83 C550.44,689.79 553.83,689.57 557.21,689.49 C560.6,689.42 563.98,689.44 567.37,689.37 C570.75,689.29 574.13,689.22 577.52,689.03 C580.9,688.84 584.29,688.44 587.67,688.22 C591.06,688.01 594.44,687.8 597.83,687.72 C601.21,687.65 604.6,687.94 607.99,687.79 C611.37,687.64 614.75,687.09 618.14,686.82 C621.52,686.56 624.91,686.32 628.29,686.2 C631.68,686.08 635.07,686.28 638.45,686.09 C641.84,685.9 645.22,685.29 648.61,685.04 C651.99,684.78 655.38,684.82 658.76,684.57 C662.14,684.32 665.53,683.84 668.91,683.56 C672.3,683.28 675.68,683.19 679.07,682.88 C682.45,682.57 685.84,681.99 689.23,681.7 C692.61,681.42 696,681.39 699.38,681.18 C702.76,680.97 706.15,680.76 709.53,680.44 C712.92,680.12 716.31,679.6 719.69,679.27 C723.08,678.94 726.46,678.77 729.85,678.46 C733.23,678.15 735.37,677.91 740,677.42 C744.63,676.93 751.75,676.41 757.62,675.51 C763.49,674.6 769.37,673.45 775.24,671.98 C781.12,670.51 786.99,668.75 792.86,666.7 C798.74,664.64 805.2,662 810.48,659.65 C815.77,657.3 820.47,655.54 824.58,652.6 C828.69,649.66 831.92,646.14 835.15,642.03 C838.38,637.91 841.03,633.22 843.96,627.93 C846.9,622.64 850.13,616.18 852.78,610.31 C855.42,604.43 857.47,599.74 859.82,592.69 C862.17,585.64 864.82,575.65 866.87,568.02 C868.93,560.38 870.4,554.51 872.16,546.87 C873.92,539.24 875.98,529.84 877.44,522.2 C878.91,514.57 879.79,508.69 880.97,501.06 C882.14,493.42 883.32,484.61 884.49,476.39 C885.67,468.16 886.84,459.94 888.02,451.72 C889.19,443.49 890.6,432.33 891.54,427.05 C892.48,421.76 893.3,421.17 893.66,420" stroke="#000" stroke-width="2" fill="none" stroke-linejoin="round" stroke-linecap="round"/>
<path d="M536.9,697.69 C538.59,697.77 543.67,698.1 547.05,698.14 C550.44,698.18 553.83,698.03 557.21,697.94 C560.6,697.85 563.98,697.73 567.37,697.62 C570.75,697.52 574.13,697.28 577.52,697.29 C580.9,697.31 584.29,697.72 587.67,697.72 C591.06,697.71 594.44,697.34 597.83,697.26 C601.21,697.18 604.6,697.25 607.99,697.23 C611.37,697.21 614.75,697.2 618.14,697.12 C621.52,697.05 624.91,696.85 628.29,696.77 C631.68,696.69 635.07,696.79 638.45,696.66 C641.84,696.54 645.22,696.13 648.61,696.02 C651.99,695.92 655.38,696.12 658.76,696.02 C662.14,695.93 665.53,695.56 668.91,695.48 C672.3,695.39 675.68,695.56 679.07,695.51 C682.45,695.45 685.84,695.35 689.23,695.14 C692.61,694.93 696,694.46 699.38,694.25 C702.76,694.05 706.15,694.03 709.53,693.93 C712.92,693.82 716.31,693.65 719.69,693.62 C723.08,693.59 726.46,693.87 729.85,693.77 C733.23,693.66 732.43,693.7 740,693.01 C747.57,692.31 766.43,690.76 775.24,689.6 C784.05,688.45 787.87,687.25 792.86,686.08 C797.86,684.9 801.38,684.32 805.2,682.56 C809.02,680.79 812.25,678.74 815.77,675.51 C819.3,672.28 823.11,668.16 826.34,663.17 C829.57,658.18 832.8,651.42 835.15,645.55 C837.5,639.68 838.68,634.98 840.44,627.93 C842.2,620.88 843.96,612.07 845.73,603.26 C847.49,594.45 849.25,585.05 851.01,575.07 C852.78,565.08 854.54,554.51 856.3,543.35 C858.06,532.19 859.82,519.27 861.59,508.11 C863.35,496.95 865.4,485.2 866.87,476.39 C868.34,467.58 869.22,462.29 870.4,455.24 C871.57,448.19 872.86,439.97 873.92,434.1 C874.98,428.22 876.27,422.35 876.74,420" stroke="#C5303A" stroke-width="2" fill="none" stroke-linejoin="round" stroke-linecap="round"/>
<path d="M536.9,699.89 C538.59,699.84 543.67,699.65 547.05,699.61 C550.44,699.57 553.83,699.69 557.21,699.66 C560.6,699.63 563.98,699.51 567.37,699.44 C570.75,699.37 574.13,699.29 577.52,699.25 C580.9,699.21 584.29,699.26 587.67,699.22 C591.06,699.18 594.44,699.05 597.83,699.01 C601.21,698.97 604.6,699.06 607.99,698.99 C611.37,698.92 614.75,698.66 618.14,698.58 C621.52,698.49 624.91,698.55 628.29,698.47 C631.68,698.39 635.07,698.22 638.45,698.12 C641.84,698.02 645.22,698.03 648.61,697.9 C651.99,697.77 655.38,697.55 658.76,697.34 C662.14,697.13 665.53,696.73 668.91,696.63 C672.3,696.53 675.68,696.78 679.07,696.75 C682.45,696.71 685.84,696.56 689.23,696.43 C692.61,696.31 696,696.17 699.38,695.99 C702.76,695.81 706.15,695.5 709.53,695.34 C712.92,695.17 716.31,695.2 719.69,695.01 C723.08,694.82 726.46,694.35 729.85,694.21 C733.23,694.07 732.43,694.83 740,694.18 C747.57,693.53 766.43,691.48 775.24,690.31 C784.05,689.13 787.58,688.14 792.86,687.14 C798.15,686.14 802.56,685.67 806.96,684.32 C811.37,682.97 815.48,681.38 819.3,679.03 C823.11,676.68 826.34,674.04 829.87,670.22 C833.39,666.4 837.5,661.41 840.44,656.12 C843.38,650.84 845.43,644.96 847.49,638.5 C849.54,632.04 851.01,624.99 852.78,617.36 C854.54,609.72 856.3,602.09 858.06,592.69 C859.82,583.29 861.76,570.95 863.35,560.97 C864.93,550.98 866.11,543.35 867.58,532.78 C869.05,522.2 870.81,508.11 872.16,497.53 C873.51,486.96 874.51,478.74 875.68,469.34 C876.86,459.94 878.15,449.37 879.21,441.15 C880.26,432.92 881.56,423.52 882.03,420" stroke="#FFD85A" stroke-width="2" fill="none" stroke-linejoin="round" stroke-linecap="round"/>
<path d="M536.9,704.35 C538.59,704.31 543.67,704.18 547.05,704.1 C550.44,704.01 553.83,703.81 557.21,703.84 C560.6,703.86 563.98,704.19 567.37,704.25 C570.75,704.3 574.13,704.32 577.52,704.16 C580.9,704.01 584.29,703.42 587.67,703.33 C591.06,703.23 594.44,703.64 597.83,703.59 C601.21,703.55 604.6,703.23 607.99,703.06 C611.37,702.9 614.75,702.71 618.14,702.6 C621.52,702.49 624.91,702.43 628.29,702.4 C631.68,702.37 635.07,702.45 638.45,702.41 C641.84,702.37 645.22,702.34 648.61,702.14 C651.99,701.94 655.38,701.35 658.76,701.2 C662.14,701.05 665.53,701.35 668.91,701.22 C672.3,701.09 675.68,700.54 679.07,700.42 C682.45,700.3 685.84,700.58 689.23,700.48 C692.61,700.37 696,699.9 699.38,699.77 C702.76,699.65 706.15,699.79 709.53,699.71 C712.92,699.63 716.31,699.52 719.69,699.31 C723.08,699.11 726.46,698.66 729.85,698.5 C733.23,698.34 732.43,698.66 740,698.35 C747.57,698.04 766.43,697.52 775.24,696.65 C784.05,695.78 786.99,694.13 792.86,693.13 C798.74,692.13 805.2,691.84 810.48,690.66 C815.77,689.49 820.47,688.02 824.58,686.08 C828.69,684.14 832.22,681.97 835.15,679.03 C838.09,676.09 840.15,672.28 842.2,668.46 C844.26,664.64 845.73,661.12 847.49,656.12 C849.25,651.13 851.01,644.96 852.78,638.5 C854.54,632.04 856.3,625.58 858.06,617.36 C859.82,609.13 861.59,599.15 863.35,589.16 C865.11,579.18 866.99,568.02 868.63,557.44 C870.28,546.87 871.75,536.89 873.22,525.73 C874.68,514.57 876.15,501.06 877.44,490.48 C878.74,479.91 879.79,471.69 880.97,462.29 C882.14,452.89 883.61,441.15 884.49,434.1 C885.37,427.05 885.96,422.35 886.26,420" stroke="#4A80C8" stroke-width="2" fill="none" stroke-linejoin="round" stroke-linecap="round"/>
<defs>
<pattern id="hK" patternUnits="userSpaceOnUse" width="4" height="4" patternTransform="rotate(-45)"><rect x="0" y="0" width="2.2" height="4" fill="#000"/></pattern>
<pattern id="hR" patternUnits="userSpaceOnUse" width="4" height="4" patternTransform="rotate(-45)"><rect x="0" y="0" width="2.2" height="4" fill="#C5303A"/></pattern>
<pattern id="hY" patternUnits="userSpaceOnUse" width="4" height="4" patternTransform="rotate(-45)"><rect x="0" y="0" width="2.2" height="4" fill="#FFD85A"/></pattern>
<pattern id="hB" patternUnits="userSpaceOnUse" width="4" height="4" patternTransform="rotate(-45)"><rect x="0" y="0" width="2.2" height="4" fill="#4A80C8"/></pattern>
</defs>
<rect x="1061.3" y="719.02" width="11.36" height="13.88" fill="url(#hK)" stroke="#000" stroke-width="2"/>
<rect x="1072.66" y="691.26" width="11.36" height="41.64" fill="url(#hK)" stroke="#000" stroke-width="2"/>
<rect x="1084.02" y="621.86" width="11.36" height="111.04" fill="url(#hK)" stroke="#000" stroke-width="2"/>
<rect x="1095.38" y="524.7" width="11.36" height="208.2" fill="url(#hK)" stroke="#000" stroke-width="2"/>
<rect x="1106.74" y="607.98" width="11.36" height="124.92" fill="url(#hK)" stroke="#000" stroke-width="2"/>
<rect x="1118.1" y="691.26" width="11.36" height="41.64" fill="url(#hK)" stroke="#000" stroke-width="2"/>
<rect x="1129.46" y="719.02" width="11.36" height="13.88" fill="url(#hK)" stroke="#000" stroke-width="2"/>
<rect x="1183.7" y="719.02" width="11.92" height="13.88" fill="url(#hR)" stroke="#C5303A" stroke-width="2"/>
<rect x="1195.62" y="691.26" width="11.92" height="41.64" fill="url(#hR)" stroke="#C5303A" stroke-width="2"/>
<rect x="1207.54" y="621.86" width="11.92" height="111.04" fill="url(#hR)" stroke="#C5303A" stroke-width="2"/>
<rect x="1219.46" y="496.94" width="11.92" height="235.96" fill="url(#hR)" stroke="#C5303A" stroke-width="2"/>
<rect x="1231.38" y="607.98" width="11.92" height="124.92" fill="url(#hR)" stroke="#C5303A" stroke-width="2"/>
<rect x="1243.3" y="705.14" width="11.92" height="27.76" fill="url(#hR)" stroke="#C5303A" stroke-width="2"/>
<rect x="1219.46" y="719.02" width="11.92" height="13.88" fill="url(#hY)" stroke="#FFD85A" stroke-width="2"/>
<rect x="1231.38" y="691.26" width="11.92" height="41.64" fill="url(#hY)" stroke="#FFD85A" stroke-width="2"/>
<rect x="1243.3" y="663.5" width="11.92" height="69.4" fill="url(#hY)" stroke="#FFD85A" stroke-width="2"/>
<rect x="1255.22" y="594.1" width="11.92" height="138.8" fill="url(#hY)" stroke="#FFD85A" stroke-width="2"/>
<rect x="1267.14" y="607.98" width="11.92" height="124.92" fill="url(#hY)" stroke="#FFD85A" stroke-width="2"/>
<rect x="1279.06" y="649.62" width="11.92" height="83.28" fill="url(#hY)" stroke="#FFD85A" stroke-width="2"/>
<rect x="1290.98" y="677.38" width="11.92" height="55.52" fill="url(#hY)" stroke="#FFD85A" stroke-width="2"/>
<rect x="1302.9" y="705.14" width="11.92" height="27.76" fill="url(#hY)" stroke="#FFD85A" stroke-width="2"/>
<rect x="1362.5" y="719.02" width="11.92" height="13.88" fill="url(#hB)" stroke="#4A80C8" stroke-width="2"/>
<rect x="1374.42" y="691.26" width="11.92" height="41.64" fill="url(#hB)" stroke="#4A80C8" stroke-width="2"/>
<rect x="1386.34" y="580.22" width="11.92" height="152.68" fill="url(#hB)" stroke="#4A80C8" stroke-width="2"/>
<rect x="1398.26" y="510.82" width="11.92" height="222.08" fill="url(#hB)" stroke="#4A80C8" stroke-width="2"/>
<rect x="1410.18" y="621.86" width="11.92" height="111.04" fill="url(#hB)" stroke="#4A80C8" stroke-width="2"/>
<rect x="1422.1" y="719.02" width="11.92" height="13.88" fill="url(#hB)" stroke="#4A80C8" stroke-width="2"/>
<polyline points="1047.67,731.86 1048.86,731.55 1050.05,731.16 1051.25,730.67 1052.44,730.06 1053.63,729.3 1054.82,728.38 1056.02,727.25 1057.21,725.9 1058.4,724.27 1059.6,722.34 1060.79,720.06 1061.98,717.39 1063.17,714.29 1064.37,710.72 1065.56,706.64 1066.75,702.01 1067.95,696.81 1069.14,691 1070.33,684.59 1071.52,677.56 1072.72,669.93 1073.91,661.72 1075.1,652.97 1076.3,643.74 1077.49,634.09 1078.68,624.13 1079.87,613.95 1081.07,603.68 1082.26,593.45 1083.45,583.41 1084.64,573.7 1085.84,564.47 1087.03,555.89 1088.22,548.11 1089.42,541.25 1090.61,535.45 1091.8,530.82 1092.99,527.44 1094.19,525.39 1095.38,524.7 1096.57,525.39 1097.77,527.44 1098.96,530.82 1100.15,535.45 1101.34,541.25 1102.54,548.11 1103.73,555.89 1104.92,564.47 1106.12,573.7 1107.31,583.41 1108.5,593.45 1109.69,603.68 1110.89,613.95 1112.08,624.13 1113.27,634.09 1114.46,643.74 1115.66,652.97 1116.85,661.72 1118.04,669.93 1119.24,677.56 1120.43,684.59 1121.62,691 1122.81,696.81 1124.01,702.01 1125.2,706.64 1126.39,710.72 1127.59,714.29 1128.78,717.39 1129.97,720.06 1131.16,722.34 1132.36,724.27 1133.55,725.9 1134.74,727.25 1135.94,728.38 1137.13,729.3 1138.32,730.06 1139.51,730.67 1140.71,731.16 1141.9,731.55 1143.09,731.86" stroke="#000" stroke-width="2" fill="none" stroke-linejoin="round" />
<polyline points="1171.78,732.15 1172.97,731.9 1174.16,731.58 1175.36,731.17 1176.55,730.65 1177.74,730 1178.93,729.18 1180.12,728.17 1181.32,726.93 1182.51,725.42 1183.7,723.58 1184.89,721.38 1186.08,718.77 1187.28,715.68 1188.47,712.07 1189.66,707.89 1190.85,703.08 1192.04,697.59 1193.24,691.4 1194.43,684.47 1195.62,676.79 1196.81,668.36 1198,659.19 1199.2,649.31 1200.39,638.8 1201.58,627.72 1202.77,616.17 1203.96,604.29 1205.16,592.21 1206.35,580.1 1207.54,568.13 1208.73,556.49 1209.92,545.39 1211.12,535.01 1212.31,525.55 1213.5,517.2 1214.69,510.11 1215.88,504.44 1217.08,500.31 1218.27,497.79 1219.46,496.94 1220.65,497.79 1221.84,500.31 1223.04,504.44 1224.23,510.11 1225.42,517.2 1226.61,525.55 1227.8,535.01 1229,545.39 1230.19,556.49 1231.38,568.13 1232.57,580.1 1233.76,592.21 1234.96,604.29 1236.15,616.17 1237.34,627.72 1238.53,638.8 1239.72,649.31 1240.92,659.19 1242.11,668.36 1243.3,676.79 1244.49,684.47 1245.68,691.4 1246.88,697.59 1248.07,703.08 1249.26,707.89 1250.45,712.07 1251.64,715.68 1252.84,718.77 1254.03,721.38 1255.22,723.58 1256.41,725.42 1257.6,726.93 1258.8,728.17 1259.99,729.18 1261.18,730 1262.37,730.65 1263.56,731.17 1264.76,731.58 1265.95,731.9 1267.14,732.15" stroke="#C5303A" stroke-width="2" fill="none" stroke-linejoin="round" />
<polyline points="1183.7,732.5 1185.64,732.37 1187.57,732.19 1189.51,731.97 1191.45,731.69 1193.39,731.33 1195.32,730.88 1197.26,730.31 1199.2,729.62 1201.13,728.77 1203.07,727.74 1205.01,726.49 1206.94,725.01 1208.88,723.25 1210.82,721.19 1212.75,718.79 1214.69,716.02 1216.63,712.85 1218.57,709.26 1220.5,705.24 1222.44,700.76 1224.38,695.83 1226.31,690.46 1228.25,684.67 1230.19,678.48 1232.12,671.95 1234.06,665.13 1236,658.09 1237.94,650.93 1239.87,643.73 1241.81,636.62 1243.75,629.69 1245.68,623.07 1247.62,616.87 1249.56,611.22 1251.5,606.23 1253.43,601.99 1255.37,598.59 1257.31,596.12 1259.24,594.61 1261.18,594.1 1263.12,594.61 1265.05,596.12 1266.99,598.59 1268.93,601.99 1270.87,606.23 1272.8,611.22 1274.74,616.87 1276.68,623.07 1278.61,629.69 1280.55,636.62 1282.49,643.73 1284.42,650.93 1286.36,658.09 1288.3,665.13 1290.24,671.95 1292.17,678.48 1294.11,684.67 1296.05,690.46 1297.98,695.83 1299.92,700.76 1301.86,705.24 1303.79,709.26 1305.73,712.85 1307.67,716.02 1309.61,718.79 1311.54,721.19 1313.48,723.25 1315.42,725.01 1317.35,726.49 1319.29,727.74 1321.23,728.77 1323.16,729.62 1325.1,730.31 1327.04,730.88 1328.98,731.33 1330.91,731.69 1332.85,731.97 1334.79,732.19 1336.72,732.37 1338.66,732.5" stroke="#FFD85A" stroke-width="2" fill="none" stroke-linejoin="round" />
<polyline points="1342.24,732.08 1343.56,731.81 1344.89,731.48 1346.21,731.05 1347.54,730.52 1348.87,729.84 1350.19,729.01 1351.52,727.98 1352.84,726.72 1354.17,725.2 1355.5,723.37 1356.82,721.18 1358.15,718.6 1359.48,715.57 1360.8,712.03 1362.13,707.96 1363.45,703.29 1364.78,698 1366.11,692.05 1367.43,685.42 1368.76,678.1 1370.08,670.09 1371.41,661.41 1372.74,652.1 1374.06,642.21 1375.39,631.82 1376.71,621.03 1378.04,609.95 1379.37,598.71 1380.69,587.46 1382.02,576.38 1383.35,565.62 1384.67,555.37 1386,545.8 1387.32,537.1 1388.65,529.42 1389.98,522.91 1391.3,517.7 1392.63,513.91 1393.95,511.6 1395.28,510.82 1396.61,511.6 1397.93,513.91 1399.26,517.7 1400.58,522.91 1401.91,529.42 1403.24,537.1 1404.56,545.8 1405.89,555.37 1407.21,565.62 1408.54,576.38 1409.87,587.46 1411.19,598.71 1412.52,609.95 1413.85,621.03 1415.17,631.82 1416.5,642.21 1417.82,652.1 1419.15,661.41 1420.48,670.09 1421.8,678.1 1423.13,685.42 1424.45,692.05 1425.78,698 1427.11,703.29 1428.43,707.96 1429.76,712.03 1431.08,715.57 1432.41,718.6 1433.74,721.18 1435.06,723.37 1436.39,725.2 1437.72,726.72 1439.04,727.98 1440.37,729.01 1441.69,729.84 1443.02,730.52 1444.35,731.05 1445.67,731.48 1447,731.81 1448.32,732.08" stroke="#4A80C8" stroke-width="2" fill="none" stroke-linejoin="round" />
<line x1="1038.9" y1="420.9" x2="1038.9" y2="732.9" stroke="#000" stroke-width="2" />
<line x1="1458.5" y1="419.9" x2="1458.5" y2="733.9" stroke="#000" stroke-width="2" />
<line x1="1037.9" y1="420.9" x2="1152" y2="420.9" stroke="#000" stroke-width="2" />
<line x1="1161.5" y1="420.9" x2="1459.5" y2="420.9" stroke="#000" stroke-width="2" />
<line x1="1037.9" y1="732.9" x2="1152" y2="732.9" stroke="#000" stroke-width="2" />
<line x1="1161.5" y1="732.9" x2="1459.5" y2="732.9" stroke="#000" stroke-width="2" />
<line x1="1148.5" y1="425.6" x2="1156.3" y2="416.3" stroke="#000" stroke-width="2" stroke-linecap="round"/>
<line x1="1155.7" y1="425.6" x2="1163.5" y2="416.3" stroke="#000" stroke-width="2" stroke-linecap="round"/>
<line x1="1148.5" y1="738.4" x2="1156.2" y2="729" stroke="#000" stroke-width="2" stroke-linecap="round"/>
<line x1="1155.8" y1="738.4" x2="1163.3" y2="729" stroke="#000" stroke-width="2" stroke-linecap="round"/>
<line x1="1033.4" y1="732.9" x2="1038.9" y2="732.9" stroke="#000" stroke-width="2" />
<text x="1030.3" y="739.4" font-size="19.5" text-anchor="end" fill="#000" stroke="#000" stroke-width="0.4" >0</text>
<line x1="1033.4" y1="663.5" x2="1038.9" y2="663.5" stroke="#000" stroke-width="2" />
<text x="1030.3" y="670" font-size="19.5" text-anchor="end" fill="#000" stroke="#000" stroke-width="0.4" >5</text>
<line x1="1033.4" y1="594.1" x2="1038.9" y2="594.1" stroke="#000" stroke-width="2" />
<text x="1030.3" y="600.6" font-size="19.5" text-anchor="end" fill="#000" stroke="#000" stroke-width="0.4" >10</text>
<line x1="1033.4" y1="524.7" x2="1038.9" y2="524.7" stroke="#000" stroke-width="2" />
<text x="1030.3" y="531.2" font-size="19.5" text-anchor="end" fill="#000" stroke="#000" stroke-width="0.4" >15</text>
<line x1="1033.4" y1="455.3" x2="1038.9" y2="455.3" stroke="#000" stroke-width="2" />
<text x="1030.3" y="461.8" font-size="19.5" text-anchor="end" fill="#000" stroke="#000" stroke-width="0.4" >20</text>
<line x1="1035.9" y1="698.2" x2="1038.9" y2="698.2" stroke="#000" stroke-width="2" />
<line x1="1035.9" y1="628.8" x2="1038.9" y2="628.8" stroke="#000" stroke-width="2" />
<line x1="1035.9" y1="559.4" x2="1038.9" y2="559.4" stroke="#000" stroke-width="2" />
<line x1="1035.9" y1="490" x2="1038.9" y2="490" stroke="#000" stroke-width="2" />
<line x1="1061.3" y1="732.9" x2="1061.3" y2="738.4" stroke="#000" stroke-width="2" />
<text x="1061.3" y="755.8" font-size="19.3" text-anchor="middle" fill="#000" stroke="#000" stroke-width="0.4" >14.5</text>
<line x1="1089.7" y1="732.9" x2="1089.7" y2="736.1" stroke="#000" stroke-width="2" />
<line x1="1118.1" y1="732.9" x2="1118.1" y2="738.4" stroke="#000" stroke-width="2" />
<text x="1118.1" y="755.8" font-size="19.3" text-anchor="middle" fill="#000" stroke="#000" stroke-width="0.4" >15.0</text>
<line x1="1146.5" y1="732.9" x2="1146.5" y2="736.1" stroke="#000" stroke-width="2" />
<line x1="1183.7" y1="732.9" x2="1183.7" y2="738.4" stroke="#000" stroke-width="2" />
<text x="1183.7" y="755.8" font-size="19.3" text-anchor="middle" fill="#000" stroke="#000" stroke-width="0.4" >16.0</text>
<line x1="1213.5" y1="732.9" x2="1213.5" y2="736.1" stroke="#000" stroke-width="2" />
<line x1="1243.3" y1="732.9" x2="1243.3" y2="738.4" stroke="#000" stroke-width="2" />
<text x="1243.3" y="755.8" font-size="19.3" text-anchor="middle" fill="#000" stroke="#000" stroke-width="0.4" >16.5</text>
<line x1="1273.1" y1="732.9" x2="1273.1" y2="736.1" stroke="#000" stroke-width="2" />
<line x1="1302.9" y1="732.9" x2="1302.9" y2="738.4" stroke="#000" stroke-width="2" />
<text x="1302.9" y="755.8" font-size="19.3" text-anchor="middle" fill="#000" stroke="#000" stroke-width="0.4" >17.0</text>
<line x1="1332.7" y1="732.9" x2="1332.7" y2="736.1" stroke="#000" stroke-width="2" />
<line x1="1362.5" y1="732.9" x2="1362.5" y2="738.4" stroke="#000" stroke-width="2" />
<text x="1362.5" y="755.8" font-size="19.3" text-anchor="middle" fill="#000" stroke="#000" stroke-width="0.4" >17.5</text>
<line x1="1392.3" y1="732.9" x2="1392.3" y2="736.1" stroke="#000" stroke-width="2" />
<line x1="1422.1" y1="732.9" x2="1422.1" y2="738.4" stroke="#000" stroke-width="2" />
<text x="1422.1" y="755.8" font-size="19.3" text-anchor="middle" fill="#000" stroke="#000" stroke-width="0.4" >18.0</text>
<line x1="1451.9" y1="732.9" x2="1451.9" y2="736.1" stroke="#000" stroke-width="2" />
<text x="1248.1" y="784.7" font-size="18.5" text-anchor="middle" fill="#000" stroke="#000" stroke-width="0.4" >PCE (%)</text>
<text x="991.5" y="586.7" font-size="18.5" text-anchor="middle" fill="#000" stroke="#000" stroke-width="0.4" transform="rotate(-90 991.5 586.7)" >Counts</text>
<rect x="1053.5" y="435.5" width="33" height="16" fill="url(#hR)" stroke="#C5303A" stroke-width="2"/>
<text x="1092.5" y="448.7" font-size="15.5" text-anchor="start" fill="#000" stroke="#000" stroke-width="0.4" >PM6:Y6</text>
<rect x="1053.5" y="454.5" width="33" height="16" fill="url(#hY)" stroke="#FFD85A" stroke-width="2"/>
<text x="1092.5" y="467.7" font-size="15.5" text-anchor="start" fill="#000" stroke="#000" stroke-width="0.4" >PM6:PM7:Y6</text>
<rect x="1053.5" y="474" width="33" height="16" fill="url(#hB)" stroke="#4A80C8" stroke-width="2"/>
<text x="1092.5" y="487.2" font-size="15.5" text-anchor="start" fill="#000" stroke="#000" stroke-width="0.4" >PM6:PM7:Y6:PCBM</text>
<rect x="1053.5" y="493.5" width="33" height="16" fill="url(#hK)" stroke="#000" stroke-width="2"/>
<text x="1092.5" y="506.7" font-size="15.5" text-anchor="start" fill="#000" stroke="#000" stroke-width="0.4" >PM7:Y6</text>
<rect x="1585.2" y="14.8" width="403.6" height="722" fill="none" stroke="#000" stroke-width="2"/>
<line x1="1585.2" y1="195" x2="1988.8" y2="195" stroke="#000" stroke-width="2" />
<line x1="1585.2" y1="376" x2="1988.8" y2="376" stroke="#000" stroke-width="2" />
<line x1="1585.2" y1="555" x2="1988.8" y2="555" stroke="#000" stroke-width="2" />
<line x1="1576.2" y1="32" x2="1585.2" y2="32" stroke="#000" stroke-width="2" />
<text x="1569.6" y="37.8" font-size="19.3" text-anchor="end" fill="#000" stroke="#000" stroke-width="0.4" >1.00</text>
<line x1="1580.7" y1="53.4" x2="1585.2" y2="53.4" stroke="#000" stroke-width="2" />
<line x1="1576.2" y1="74.8" x2="1585.2" y2="74.8" stroke="#000" stroke-width="2" />
<text x="1569.6" y="80.6" font-size="19.3" text-anchor="end" fill="#000" stroke="#000" stroke-width="0.4" >0.95</text>
<line x1="1580.7" y1="96.2" x2="1585.2" y2="96.2" stroke="#000" stroke-width="2" />
<line x1="1576.2" y1="117.6" x2="1585.2" y2="117.6" stroke="#000" stroke-width="2" />
<text x="1569.6" y="123.4" font-size="19.3" text-anchor="end" fill="#000" stroke="#000" stroke-width="0.4" >0.90</text>
<line x1="1580.7" y1="139" x2="1585.2" y2="139" stroke="#000" stroke-width="2" />
<line x1="1576.2" y1="160.4" x2="1585.2" y2="160.4" stroke="#000" stroke-width="2" />
<text x="1569.6" y="166.2" font-size="19.3" text-anchor="end" fill="#000" stroke="#000" stroke-width="0.4" >0.85</text>
<line x1="1580.7" y1="181.8" x2="1585.2" y2="181.8" stroke="#000" stroke-width="2" />
<line x1="1580.7" y1="204.5" x2="1585.2" y2="204.5" stroke="#000" stroke-width="2" />
<line x1="1576.2" y1="231.5" x2="1585.2" y2="231.5" stroke="#000" stroke-width="2" />
<text x="1569.6" y="237.3" font-size="19.3" text-anchor="end" fill="#000" stroke="#000" stroke-width="0.4" >0.99</text>
<line x1="1580.7" y1="258.5" x2="1585.2" y2="258.5" stroke="#000" stroke-width="2" />
<line x1="1576.2" y1="285.5" x2="1585.2" y2="285.5" stroke="#000" stroke-width="2" />
<text x="1569.6" y="291.3" font-size="19.3" text-anchor="end" fill="#000" stroke="#000" stroke-width="0.4" >0.96</text>
<line x1="1580.7" y1="312.5" x2="1585.2" y2="312.5" stroke="#000" stroke-width="2" />
<line x1="1576.2" y1="339.5" x2="1585.2" y2="339.5" stroke="#000" stroke-width="2" />
<text x="1569.6" y="345.3" font-size="19.3" text-anchor="end" fill="#000" stroke="#000" stroke-width="0.4" >0.93</text>
<line x1="1580.7" y1="366.5" x2="1585.2" y2="366.5" stroke="#000" stroke-width="2" />
<line x1="1580.7" y1="385" x2="1585.2" y2="385" stroke="#000" stroke-width="2" />
<line x1="1576.2" y1="410.5" x2="1585.2" y2="410.5" stroke="#000" stroke-width="2" />
<text x="1569.6" y="416.3" font-size="19.3" text-anchor="end" fill="#000" stroke="#000" stroke-width="0.4" >0.99</text>
<line x1="1580.7" y1="436" x2="1585.2" y2="436" stroke="#000" stroke-width="2" />
<line x1="1576.2" y1="461.5" x2="1585.2" y2="461.5" stroke="#000" stroke-width="2" />
<text x="1569.6" y="467.3" font-size="19.3" text-anchor="end" fill="#000" stroke="#000" stroke-width="0.4" >0.96</text>
<line x1="1580.7" y1="487" x2="1585.2" y2="487" stroke="#000" stroke-width="2" />
<line x1="1576.2" y1="512.5" x2="1585.2" y2="512.5" stroke="#000" stroke-width="2" />
<text x="1569.6" y="518.3" font-size="19.3" text-anchor="end" fill="#000" stroke="#000" stroke-width="0.4" >0.93</text>
<line x1="1580.7" y1="538" x2="1585.2" y2="538" stroke="#000" stroke-width="2" />
<line x1="1576.2" y1="566.8" x2="1585.2" y2="566.8" stroke="#000" stroke-width="2" />
<text x="1569.6" y="572.6" font-size="19.3" text-anchor="end" fill="#000" stroke="#000" stroke-width="0.4" >1.00</text>
<line x1="1580.7" y1="594.7" x2="1585.2" y2="594.7" stroke="#000" stroke-width="2" />
<line x1="1576.2" y1="622.6" x2="1585.2" y2="622.6" stroke="#000" stroke-width="2" />
<text x="1569.6" y="628.4" font-size="19.3" text-anchor="end" fill="#000" stroke="#000" stroke-width="0.4" >0.90</text>
<line x1="1580.7" y1="650.5" x2="1585.2" y2="650.5" stroke="#000" stroke-width="2" />
<line x1="1576.2" y1="678.4" x2="1585.2" y2="678.4" stroke="#000" stroke-width="2" />
<text x="1569.6" y="684.2" font-size="19.3" text-anchor="end" fill="#000" stroke="#000" stroke-width="0.4" >0.80</text>
<line x1="1580.7" y1="706.3" x2="1585.2" y2="706.3" stroke="#000" stroke-width="2" />
<line x1="1576.2" y1="734.2" x2="1585.2" y2="734.2" stroke="#000" stroke-width="2" />
<text x="1569.6" y="740" font-size="19.3" text-anchor="end" fill="#000" stroke="#000" stroke-width="0.4" >0.70</text>
<line x1="1592.6" y1="736.8" x2="1592.6" y2="745.3" stroke="#000" stroke-width="2" />
<text x="1592.6" y="766.1" font-size="19" text-anchor="middle" fill="#000" stroke="#000" stroke-width="0.4" >0</text>
<line x1="1631.39" y1="736.8" x2="1631.39" y2="741.3" stroke="#000" stroke-width="2" />
<line x1="1670.18" y1="736.8" x2="1670.18" y2="745.3" stroke="#000" stroke-width="2" />
<text x="1670.18" y="766.1" font-size="19" text-anchor="middle" fill="#000" stroke="#000" stroke-width="0.4" >200</text>
<line x1="1708.97" y1="736.8" x2="1708.97" y2="741.3" stroke="#000" stroke-width="2" />
<line x1="1747.76" y1="736.8" x2="1747.76" y2="745.3" stroke="#000" stroke-width="2" />
<text x="1747.76" y="766.1" font-size="19" text-anchor="middle" fill="#000" stroke="#000" stroke-width="0.4" >400</text>
<line x1="1786.55" y1="736.8" x2="1786.55" y2="741.3" stroke="#000" stroke-width="2" />
<line x1="1825.34" y1="736.8" x2="1825.34" y2="745.3" stroke="#000" stroke-width="2" />
<text x="1825.34" y="766.1" font-size="19" text-anchor="middle" fill="#000" stroke="#000" stroke-width="0.4" >600</text>
<line x1="1864.13" y1="736.8" x2="1864.13" y2="741.3" stroke="#000" stroke-width="2" />
<line x1="1902.92" y1="736.8" x2="1902.92" y2="745.3" stroke="#000" stroke-width="2" />
<text x="1902.92" y="766.1" font-size="19" text-anchor="middle" fill="#000" stroke="#000" stroke-width="0.4" >800</text>
<line x1="1941.71" y1="736.8" x2="1941.71" y2="741.3" stroke="#000" stroke-width="2" />
<line x1="1980.5" y1="736.8" x2="1980.5" y2="745.3" stroke="#000" stroke-width="2" />
<text x="1980.5" y="766.1" font-size="19" text-anchor="middle" fill="#000" stroke="#000" stroke-width="0.4" >1000</text>
<text x="1785.9" y="786.7" font-size="18.5" text-anchor="middle" fill="#000" stroke="#000" stroke-width="0.4" >Time (h)</text>
<text x="1519.8" y="104" font-size="17" text-anchor="middle" fill="#000" stroke="#000" stroke-width="0.4" transform="rotate(-90 1519.8 104)" >FF</text>
<text x="1519.8" y="283" font-size="18" text-anchor="middle" fill="#000" stroke="#000" stroke-width="0.4" transform="rotate(-90 1519.8 283)" >Jsc</text>
<text x="1519.8" y="468.1" font-size="18" text-anchor="middle" fill="#000" stroke="#000" stroke-width="0.4" transform="rotate(-90 1519.8 468.1)" >Voc</text>
<text x="1519.8" y="644.4" font-size="17.5" text-anchor="middle" fill="#000" stroke="#000" stroke-width="0.4" transform="rotate(-90 1519.8 644.4)" >PCE</text>
<circle cx="1592.6" cy="32.12" r="5.9" fill="none" stroke="#4A80C8" stroke-width="2"/>
<line x1="1608.12" y1="45.62" x2="1608.12" y2="39.84" stroke="#4A80C8" stroke-width="2" />
<line x1="1608.12" y1="57.42" x2="1608.12" y2="63.42" stroke="#4A80C8" stroke-width="2" />
<line x1="1602.62" y1="39.84" x2="1613.62" y2="39.84" stroke="#4A80C8" stroke-width="2" />
<line x1="1602.62" y1="63.42" x2="1613.62" y2="63.42" stroke="#4A80C8" stroke-width="2" />
<circle cx="1608.12" cy="51.52" r="5.9" fill="none" stroke="#4A80C8" stroke-width="2"/>
<line x1="1623.63" y1="60.83" x2="1623.63" y2="49.09" stroke="#4A80C8" stroke-width="2" />
<line x1="1623.63" y1="72.63" x2="1623.63" y2="83.92" stroke="#4A80C8" stroke-width="2" />
<line x1="1618.13" y1="49.09" x2="1629.13" y2="49.09" stroke="#4A80C8" stroke-width="2" />
<line x1="1618.13" y1="83.92" x2="1629.13" y2="83.92" stroke="#4A80C8" stroke-width="2" />
<circle cx="1623.63" cy="66.73" r="5.9" fill="none" stroke="#4A80C8" stroke-width="2"/>
<line x1="1639.15" y1="64.35" x2="1639.15" y2="53.06" stroke="#4A80C8" stroke-width="2" />
<line x1="1639.15" y1="76.15" x2="1639.15" y2="86.56" stroke="#4A80C8" stroke-width="2" />
<line x1="1633.65" y1="53.06" x2="1644.65" y2="53.06" stroke="#4A80C8" stroke-width="2" />
<line x1="1633.65" y1="86.56" x2="1644.65" y2="86.56" stroke="#4A80C8" stroke-width="2" />
<circle cx="1639.15" cy="70.25" r="5.9" fill="none" stroke="#4A80C8" stroke-width="2"/>
<line x1="1654.66" y1="76.92" x2="1654.66" y2="60.78" stroke="#4A80C8" stroke-width="2" />
<line x1="1654.66" y1="88.72" x2="1654.66" y2="92.74" stroke="#4A80C8" stroke-width="2" />
<line x1="1649.16" y1="60.78" x2="1660.16" y2="60.78" stroke="#4A80C8" stroke-width="2" />
<line x1="1649.16" y1="92.74" x2="1660.16" y2="92.74" stroke="#4A80C8" stroke-width="2" />
<circle cx="1654.66" cy="82.82" r="5.9" fill="none" stroke="#4A80C8" stroke-width="2"/>
<line x1="1670.18" y1="78.68" x2="1670.18" y2="68.05" stroke="#4A80C8" stroke-width="2" />
<line x1="1670.18" y1="90.48" x2="1670.18" y2="97.14" stroke="#4A80C8" stroke-width="2" />
<line x1="1664.68" y1="68.05" x2="1675.68" y2="68.05" stroke="#4A80C8" stroke-width="2" />
<line x1="1664.68" y1="97.14" x2="1675.68" y2="97.14" stroke="#4A80C8" stroke-width="2" />
<circle cx="1670.18" cy="84.58" r="5.9" fill="none" stroke="#4A80C8" stroke-width="2"/>
<line x1="1685.7" y1="75.81" x2="1685.7" y2="68.49" stroke="#4A80C8" stroke-width="2" />
<line x1="1685.7" y1="87.61" x2="1685.7" y2="94.94" stroke="#4A80C8" stroke-width="2" />
<line x1="1680.2" y1="68.49" x2="1691.2" y2="68.49" stroke="#4A80C8" stroke-width="2" />
<line x1="1680.2" y1="94.94" x2="1691.2" y2="94.94" stroke="#4A80C8" stroke-width="2" />
<circle cx="1685.7" cy="81.71" r="5.9" fill="none" stroke="#4A80C8" stroke-width="2"/>
<line x1="1701.21" y1="80.88" x2="1701.21" y2="67.83" stroke="#4A80C8" stroke-width="2" />
<line x1="1701.21" y1="92.68" x2="1701.21" y2="100.45" stroke="#4A80C8" stroke-width="2" />
<line x1="1695.71" y1="67.83" x2="1706.71" y2="67.83" stroke="#4A80C8" stroke-width="2" />
<line x1="1695.71" y1="100.45" x2="1706.71" y2="100.45" stroke="#4A80C8" stroke-width="2" />
<circle cx="1701.21" cy="86.78" r="5.9" fill="none" stroke="#4A80C8" stroke-width="2"/>
<line x1="1716.73" y1="86.84" x2="1716.73" y2="78.41" stroke="#4A80C8" stroke-width="2" />
<line x1="1716.73" y1="98.64" x2="1716.73" y2="108.16" stroke="#4A80C8" stroke-width="2" />
<line x1="1711.23" y1="78.41" x2="1722.23" y2="78.41" stroke="#4A80C8" stroke-width="2" />
<line x1="1711.23" y1="108.16" x2="1722.23" y2="108.16" stroke="#4A80C8" stroke-width="2" />
<circle cx="1716.73" cy="92.74" r="5.9" fill="none" stroke="#4A80C8" stroke-width="2"/>
<line x1="1732.24" y1="93.01" x2="1732.24" y2="88.99" stroke="#4A80C8" stroke-width="2" />
<line x1="1732.24" y1="104.81" x2="1732.24" y2="109.27" stroke="#4A80C8" stroke-width="2" />
<line x1="1726.74" y1="88.99" x2="1737.74" y2="88.99" stroke="#4A80C8" stroke-width="2" />
<line x1="1726.74" y1="109.27" x2="1737.74" y2="109.27" stroke="#4A80C8" stroke-width="2" />
<circle cx="1732.24" cy="98.91" r="5.9" fill="none" stroke="#4A80C8" stroke-width="2"/>
<line x1="1747.76" y1="98.96" x2="1747.76" y2="90.97" stroke="#4A80C8" stroke-width="2" />
<line x1="1747.76" y1="110.76" x2="1747.76" y2="116.98" stroke="#4A80C8" stroke-width="2" />
<line x1="1742.26" y1="90.97" x2="1753.26" y2="90.97" stroke="#4A80C8" stroke-width="2" />
<line x1="1742.26" y1="116.98" x2="1753.26" y2="116.98" stroke="#4A80C8" stroke-width="2" />
<circle cx="1747.76" cy="104.86" r="5.9" fill="none" stroke="#4A80C8" stroke-width="2"/>
<line x1="1763.28" y1="91.68" x2="1763.28" y2="78.41" stroke="#4A80C8" stroke-width="2" />
<line x1="1763.28" y1="103.48" x2="1763.28" y2="116.98" stroke="#4A80C8" stroke-width="2" />
<line x1="1757.78" y1="78.41" x2="1768.78" y2="78.41" stroke="#4A80C8" stroke-width="2" />
<line x1="1757.78" y1="116.98" x2="1768.78" y2="116.98" stroke="#4A80C8" stroke-width="2" />
<circle cx="1763.28" cy="97.58" r="5.9" fill="none" stroke="#4A80C8" stroke-width="2"/>
<line x1="1778.79" y1="98.52" x2="1778.79" y2="85.68" stroke="#4A80C8" stroke-width="2" />
<line x1="1778.79" y1="110.32" x2="1778.79" y2="122.93" stroke="#4A80C8" stroke-width="2" />
<line x1="1773.29" y1="85.68" x2="1784.29" y2="85.68" stroke="#4A80C8" stroke-width="2" />
<line x1="1773.29" y1="122.93" x2="1784.29" y2="122.93" stroke="#4A80C8" stroke-width="2" />
<circle cx="1778.79" cy="104.42" r="5.9" fill="none" stroke="#4A80C8" stroke-width="2"/>
<line x1="1794.31" y1="104.05" x2="1794.31" y2="99.81" stroke="#4A80C8" stroke-width="2" />
<line x1="1794.31" y1="115.85" x2="1794.31" y2="119.21" stroke="#4A80C8" stroke-width="2" />
<line x1="1788.81" y1="99.81" x2="1799.81" y2="99.81" stroke="#4A80C8" stroke-width="2" />
<line x1="1788.81" y1="119.21" x2="1799.81" y2="119.21" stroke="#4A80C8" stroke-width="2" />
<circle cx="1794.31" cy="109.95" r="5.9" fill="none" stroke="#4A80C8" stroke-width="2"/>
<line x1="1809.82" y1="112.64" x2="1809.82" y2="108.18" stroke="#4A80C8" stroke-width="2" />
<line x1="1809.82" y1="124.44" x2="1809.82" y2="128.69" stroke="#4A80C8" stroke-width="2" />
<line x1="1804.32" y1="108.18" x2="1815.32" y2="108.18" stroke="#4A80C8" stroke-width="2" />
<line x1="1804.32" y1="128.69" x2="1815.32" y2="128.69" stroke="#4A80C8" stroke-width="2" />
<circle cx="1809.82" cy="118.54" r="5.9" fill="none" stroke="#4A80C8" stroke-width="2"/>
<line x1="1825.34" y1="114.41" x2="1825.34" y2="105.32" stroke="#4A80C8" stroke-width="2" />
<line x1="1825.34" y1="126.21" x2="1825.34" y2="135.08" stroke="#4A80C8" stroke-width="2" />
<line x1="1819.84" y1="105.32" x2="1830.84" y2="105.32" stroke="#4A80C8" stroke-width="2" />
<line x1="1819.84" y1="135.08" x2="1830.84" y2="135.08" stroke="#4A80C8" stroke-width="2" />
<circle cx="1825.34" cy="120.31" r="5.9" fill="none" stroke="#4A80C8" stroke-width="2"/>
<line x1="1840.86" y1="111.54" x2="1840.86" y2="106.64" stroke="#4A80C8" stroke-width="2" />
<line x1="1840.86" y1="123.34" x2="1840.86" y2="128.69" stroke="#4A80C8" stroke-width="2" />
<line x1="1835.36" y1="106.64" x2="1846.36" y2="106.64" stroke="#4A80C8" stroke-width="2" />
<line x1="1835.36" y1="128.69" x2="1846.36" y2="128.69" stroke="#4A80C8" stroke-width="2" />
<circle cx="1840.86" cy="117.44" r="5.9" fill="none" stroke="#4A80C8" stroke-width="2"/>
<line x1="1856.37" y1="115.95" x2="1856.37" y2="100.47" stroke="#4A80C8" stroke-width="2" />
<line x1="1856.37" y1="127.75" x2="1856.37" y2="143.46" stroke="#4A80C8" stroke-width="2" />
<line x1="1850.87" y1="100.47" x2="1861.87" y2="100.47" stroke="#4A80C8" stroke-width="2" />
<line x1="1850.87" y1="143.46" x2="1861.87" y2="143.46" stroke="#4A80C8" stroke-width="2" />
<circle cx="1856.37" cy="121.85" r="5.9" fill="none" stroke="#4A80C8" stroke-width="2"/>
<line x1="1871.89" y1="115.95" x2="1871.89" y2="105.54" stroke="#4A80C8" stroke-width="2" />
<line x1="1871.89" y1="127.75" x2="1871.89" y2="139.71" stroke="#4A80C8" stroke-width="2" />
<line x1="1866.39" y1="105.54" x2="1877.39" y2="105.54" stroke="#4A80C8" stroke-width="2" />
<line x1="1866.39" y1="139.71" x2="1877.39" y2="139.71" stroke="#4A80C8" stroke-width="2" />
<circle cx="1871.89" cy="121.85" r="5.9" fill="none" stroke="#4A80C8" stroke-width="2"/>
<line x1="1887.4" y1="115.95" x2="1887.4" y2="110.39" stroke="#4A80C8" stroke-width="2" />
<line x1="1887.4" y1="127.75" x2="1887.4" y2="133.54" stroke="#4A80C8" stroke-width="2" />
<line x1="1881.9" y1="110.39" x2="1892.9" y2="110.39" stroke="#4A80C8" stroke-width="2" />
<line x1="1881.9" y1="133.54" x2="1892.9" y2="133.54" stroke="#4A80C8" stroke-width="2" />
<circle cx="1887.4" cy="121.85" r="5.9" fill="none" stroke="#4A80C8" stroke-width="2"/>
<line x1="1902.92" y1="115.95" x2="1902.92" y2="110.39" stroke="#4A80C8" stroke-width="2" />
<line x1="1902.92" y1="127.75" x2="1902.92" y2="134.2" stroke="#4A80C8" stroke-width="2" />
<line x1="1897.42" y1="110.39" x2="1908.42" y2="110.39" stroke="#4A80C8" stroke-width="2" />
<line x1="1897.42" y1="134.2" x2="1908.42" y2="134.2" stroke="#4A80C8" stroke-width="2" />
<circle cx="1902.92" cy="121.85" r="5.9" fill="none" stroke="#4A80C8" stroke-width="2"/>
<line x1="1918.44" y1="115.95" x2="1918.44" y2="110.39" stroke="#4A80C8" stroke-width="2" />
<line x1="1918.44" y1="127.75" x2="1918.44" y2="134.2" stroke="#4A80C8" stroke-width="2" />
<line x1="1912.94" y1="110.39" x2="1923.94" y2="110.39" stroke="#4A80C8" stroke-width="2" />
<line x1="1912.94" y1="134.2" x2="1923.94" y2="134.2" stroke="#4A80C8" stroke-width="2" />
<circle cx="1918.44" cy="121.85" r="5.9" fill="none" stroke="#4A80C8" stroke-width="2"/>
<line x1="1933.95" y1="115.95" x2="1933.95" y2="110.39" stroke="#4A80C8" stroke-width="2" />
<line x1="1933.95" y1="127.75" x2="1933.95" y2="134.2" stroke="#4A80C8" stroke-width="2" />
<line x1="1928.45" y1="110.39" x2="1939.45" y2="110.39" stroke="#4A80C8" stroke-width="2" />
<line x1="1928.45" y1="134.2" x2="1939.45" y2="134.2" stroke="#4A80C8" stroke-width="2" />
<circle cx="1933.95" cy="121.85" r="5.9" fill="none" stroke="#4A80C8" stroke-width="2"/>
<line x1="1949.47" y1="115.95" x2="1949.47" y2="109.95" stroke="#4A80C8" stroke-width="2" />
<line x1="1949.47" y1="127.75" x2="1949.47" y2="134.64" stroke="#4A80C8" stroke-width="2" />
<line x1="1943.97" y1="109.95" x2="1954.97" y2="109.95" stroke="#4A80C8" stroke-width="2" />
<line x1="1943.97" y1="134.64" x2="1954.97" y2="134.64" stroke="#4A80C8" stroke-width="2" />
<circle cx="1949.47" cy="121.85" r="5.9" fill="none" stroke="#4A80C8" stroke-width="2"/>
<line x1="1964.98" y1="115.95" x2="1964.98" y2="109.95" stroke="#4A80C8" stroke-width="2" />
<line x1="1964.98" y1="127.75" x2="1964.98" y2="134.64" stroke="#4A80C8" stroke-width="2" />
<line x1="1959.48" y1="109.95" x2="1970.48" y2="109.95" stroke="#4A80C8" stroke-width="2" />
<line x1="1959.48" y1="134.64" x2="1970.48" y2="134.64" stroke="#4A80C8" stroke-width="2" />
<circle cx="1964.98" cy="121.85" r="5.9" fill="none" stroke="#4A80C8" stroke-width="2"/>
<line x1="1980.5" y1="115.95" x2="1980.5" y2="105.98" stroke="#4A80C8" stroke-width="2" />
<line x1="1980.5" y1="127.75" x2="1980.5" y2="138.61" stroke="#4A80C8" stroke-width="2" />
<line x1="1975" y1="105.98" x2="1986" y2="105.98" stroke="#4A80C8" stroke-width="2" />
<line x1="1975" y1="138.61" x2="1986" y2="138.61" stroke="#4A80C8" stroke-width="2" />
<circle cx="1980.5" cy="121.85" r="5.9" fill="none" stroke="#4A80C8" stroke-width="2"/>
<circle cx="1592.6" cy="32.12" r="5.9" fill="none" stroke="#C5303A" stroke-width="2"/>
<line x1="1608.12" y1="80.22" x2="1608.12" y2="82.62" stroke="#C5303A" stroke-width="2" />
<line x1="1608.12" y1="92.02" x2="1608.12" y2="89.62" stroke="#C5303A" stroke-width="2" />
<line x1="1602.62" y1="82.62" x2="1613.62" y2="82.62" stroke="#C5303A" stroke-width="2" />
<line x1="1602.62" y1="89.62" x2="1613.62" y2="89.62" stroke="#C5303A" stroke-width="2" />
<circle cx="1608.12" cy="86.12" r="5.9" fill="none" stroke="#C5303A" stroke-width="2"/>
<line x1="1623.63" y1="91.68" x2="1623.63" y2="72.9" stroke="#C5303A" stroke-width="2" />
<line x1="1623.63" y1="103.48" x2="1623.63" y2="121.83" stroke="#C5303A" stroke-width="2" />
<line x1="1618.13" y1="72.9" x2="1629.13" y2="72.9" stroke="#C5303A" stroke-width="2" />
<line x1="1618.13" y1="121.83" x2="1629.13" y2="121.83" stroke="#C5303A" stroke-width="2" />
<circle cx="1623.63" cy="97.58" r="5.9" fill="none" stroke="#C5303A" stroke-width="2"/>
<line x1="1639.15" y1="91.68" x2="1639.15" y2="94.08" stroke="#C5303A" stroke-width="2" />
<line x1="1639.15" y1="103.48" x2="1639.15" y2="101.08" stroke="#C5303A" stroke-width="2" />
<line x1="1633.65" y1="94.08" x2="1644.65" y2="94.08" stroke="#C5303A" stroke-width="2" />
<line x1="1633.65" y1="101.08" x2="1644.65" y2="101.08" stroke="#C5303A" stroke-width="2" />
<circle cx="1639.15" cy="97.58" r="5.9" fill="none" stroke="#C5303A" stroke-width="2"/>
<line x1="1654.66" y1="93.01" x2="1654.66" y2="95.41" stroke="#C5303A" stroke-width="2" />
<line x1="1654.66" y1="104.81" x2="1654.66" y2="102.41" stroke="#C5303A" stroke-width="2" />
<line x1="1649.16" y1="95.41" x2="1660.16" y2="95.41" stroke="#C5303A" stroke-width="2" />
<line x1="1649.16" y1="102.41" x2="1660.16" y2="102.41" stroke="#C5303A" stroke-width="2" />
<circle cx="1654.66" cy="98.91" r="5.9" fill="none" stroke="#C5303A" stroke-width="2"/>
<line x1="1670.18" y1="93.01" x2="1670.18" y2="95.41" stroke="#C5303A" stroke-width="2" />
<line x1="1670.18" y1="104.81" x2="1670.18" y2="102.41" stroke="#C5303A" stroke-width="2" />
<line x1="1664.68" y1="95.41" x2="1675.68" y2="95.41" stroke="#C5303A" stroke-width="2" />
<line x1="1664.68" y1="102.41" x2="1675.68" y2="102.41" stroke="#C5303A" stroke-width="2" />
<circle cx="1670.18" cy="98.91" r="5.9" fill="none" stroke="#C5303A" stroke-width="2"/>
<line x1="1685.7" y1="97.86" x2="1685.7" y2="88.99" stroke="#C5303A" stroke-width="2" />
<line x1="1685.7" y1="109.66" x2="1685.7" y2="118.74" stroke="#C5303A" stroke-width="2" />
<line x1="1680.2" y1="88.99" x2="1691.2" y2="88.99" stroke="#C5303A" stroke-width="2" />
<line x1="1680.2" y1="118.74" x2="1691.2" y2="118.74" stroke="#C5303A" stroke-width="2" />
<circle cx="1685.7" cy="103.76" r="5.9" fill="none" stroke="#C5303A" stroke-width="2"/>
<line x1="1701.21" y1="101.6" x2="1701.21" y2="97.14" stroke="#C5303A" stroke-width="2" />
<line x1="1701.21" y1="113.4" x2="1701.21" y2="116.98" stroke="#C5303A" stroke-width="2" />
<line x1="1695.71" y1="97.14" x2="1706.71" y2="97.14" stroke="#C5303A" stroke-width="2" />
<line x1="1695.71" y1="116.98" x2="1706.71" y2="116.98" stroke="#C5303A" stroke-width="2" />
<circle cx="1701.21" cy="107.5" r="5.9" fill="none" stroke="#C5303A" stroke-width="2"/>
<line x1="1716.73" y1="112.84" x2="1716.73" y2="108.16" stroke="#C5303A" stroke-width="2" />
<line x1="1716.73" y1="124.64" x2="1716.73" y2="128.66" stroke="#C5303A" stroke-width="2" />
<line x1="1711.23" y1="108.16" x2="1722.23" y2="108.16" stroke="#C5303A" stroke-width="2" />
<line x1="1711.23" y1="128.66" x2="1722.23" y2="128.66" stroke="#C5303A" stroke-width="2" />
<circle cx="1716.73" cy="118.74" r="5.9" fill="none" stroke="#C5303A" stroke-width="2"/>
<line x1="1732.24" y1="113.28" x2="1732.24" y2="115.68" stroke="#C5303A" stroke-width="2" />
<line x1="1732.24" y1="125.08" x2="1732.24" y2="122.68" stroke="#C5303A" stroke-width="2" />
<line x1="1726.74" y1="115.68" x2="1737.74" y2="115.68" stroke="#C5303A" stroke-width="2" />
<line x1="1726.74" y1="122.68" x2="1737.74" y2="122.68" stroke="#C5303A" stroke-width="2" />
<circle cx="1732.24" cy="119.18" r="5.9" fill="none" stroke="#C5303A" stroke-width="2"/>
<line x1="1747.76" y1="113.28" x2="1747.76" y2="115.68" stroke="#C5303A" stroke-width="2" />
<line x1="1747.76" y1="125.08" x2="1747.76" y2="122.68" stroke="#C5303A" stroke-width="2" />
<line x1="1742.26" y1="115.68" x2="1753.26" y2="115.68" stroke="#C5303A" stroke-width="2" />
<line x1="1742.26" y1="122.68" x2="1753.26" y2="122.68" stroke="#C5303A" stroke-width="2" />
<circle cx="1747.76" cy="119.18" r="5.9" fill="none" stroke="#C5303A" stroke-width="2"/>
<line x1="1763.28" y1="112.84" x2="1763.28" y2="115.24" stroke="#C5303A" stroke-width="2" />
<line x1="1763.28" y1="124.64" x2="1763.28" y2="122.24" stroke="#C5303A" stroke-width="2" />
<line x1="1757.78" y1="115.24" x2="1768.78" y2="115.24" stroke="#C5303A" stroke-width="2" />
<line x1="1757.78" y1="122.24" x2="1768.78" y2="122.24" stroke="#C5303A" stroke-width="2" />
<circle cx="1763.28" cy="118.74" r="5.9" fill="none" stroke="#C5303A" stroke-width="2"/>
<line x1="1778.79" y1="125.41" x2="1778.79" y2="116.98" stroke="#C5303A" stroke-width="2" />
<line x1="1778.79" y1="137.21" x2="1778.79" y2="145.19" stroke="#C5303A" stroke-width="2" />
<line x1="1773.29" y1="116.98" x2="1784.29" y2="116.98" stroke="#C5303A" stroke-width="2" />
<line x1="1773.29" y1="145.19" x2="1784.29" y2="145.19" stroke="#C5303A" stroke-width="2" />
<circle cx="1778.79" cy="131.31" r="5.9" fill="none" stroke="#C5303A" stroke-width="2"/>
<line x1="1794.31" y1="134.91" x2="1794.31" y2="137.31" stroke="#C5303A" stroke-width="2" />
<line x1="1794.31" y1="146.71" x2="1794.31" y2="144.31" stroke="#C5303A" stroke-width="2" />
<line x1="1788.81" y1="137.31" x2="1799.81" y2="137.31" stroke="#C5303A" stroke-width="2" />
<line x1="1788.81" y1="144.31" x2="1799.81" y2="144.31" stroke="#C5303A" stroke-width="2" />
<circle cx="1794.31" cy="140.81" r="5.9" fill="none" stroke="#C5303A" stroke-width="2"/>
<line x1="1809.82" y1="141.53" x2="1809.82" y2="131.33" stroke="#C5303A" stroke-width="2" />
<line x1="1809.82" y1="153.33" x2="1809.82" y2="163.74" stroke="#C5303A" stroke-width="2" />
<line x1="1804.32" y1="131.33" x2="1815.32" y2="131.33" stroke="#C5303A" stroke-width="2" />
<line x1="1804.32" y1="163.74" x2="1815.32" y2="163.74" stroke="#C5303A" stroke-width="2" />
<circle cx="1809.82" cy="147.43" r="5.9" fill="none" stroke="#C5303A" stroke-width="2"/>
<line x1="1825.34" y1="146.82" x2="1825.34" y2="149.22" stroke="#C5303A" stroke-width="2" />
<line x1="1825.34" y1="158.62" x2="1825.34" y2="156.22" stroke="#C5303A" stroke-width="2" />
<line x1="1819.84" y1="149.22" x2="1830.84" y2="149.22" stroke="#C5303A" stroke-width="2" />
<line x1="1819.84" y1="156.22" x2="1830.84" y2="156.22" stroke="#C5303A" stroke-width="2" />
<circle cx="1825.34" cy="152.72" r="5.9" fill="none" stroke="#C5303A" stroke-width="2"/>
<line x1="1840.86" y1="145.93" x2="1840.86" y2="137.5" stroke="#C5303A" stroke-width="2" />
<line x1="1840.86" y1="157.73" x2="1840.86" y2="165.94" stroke="#C5303A" stroke-width="2" />
<line x1="1835.36" y1="137.5" x2="1846.36" y2="137.5" stroke="#C5303A" stroke-width="2" />
<line x1="1835.36" y1="165.94" x2="1846.36" y2="165.94" stroke="#C5303A" stroke-width="2" />
<circle cx="1840.86" cy="151.83" r="5.9" fill="none" stroke="#C5303A" stroke-width="2"/>
<line x1="1856.37" y1="145.71" x2="1856.37" y2="136.4" stroke="#C5303A" stroke-width="2" />
<line x1="1856.37" y1="157.51" x2="1856.37" y2="165.94" stroke="#C5303A" stroke-width="2" />
<line x1="1850.87" y1="136.4" x2="1861.87" y2="136.4" stroke="#C5303A" stroke-width="2" />
<line x1="1850.87" y1="165.94" x2="1861.87" y2="165.94" stroke="#C5303A" stroke-width="2" />
<circle cx="1856.37" cy="151.61" r="5.9" fill="none" stroke="#C5303A" stroke-width="2"/>
<line x1="1871.89" y1="145.71" x2="1871.89" y2="136.4" stroke="#C5303A" stroke-width="2" />
<line x1="1871.89" y1="157.51" x2="1871.89" y2="165.94" stroke="#C5303A" stroke-width="2" />
<line x1="1866.39" y1="136.4" x2="1877.39" y2="136.4" stroke="#C5303A" stroke-width="2" />
<line x1="1866.39" y1="165.94" x2="1877.39" y2="165.94" stroke="#C5303A" stroke-width="2" />
<circle cx="1871.89" cy="151.61" r="5.9" fill="none" stroke="#C5303A" stroke-width="2"/>
<line x1="1887.4" y1="144.17" x2="1887.4" y2="146.57" stroke="#C5303A" stroke-width="2" />
<line x1="1887.4" y1="155.97" x2="1887.4" y2="153.57" stroke="#C5303A" stroke-width="2" />
<line x1="1881.9" y1="146.57" x2="1892.9" y2="146.57" stroke="#C5303A" stroke-width="2" />
<line x1="1881.9" y1="153.57" x2="1892.9" y2="153.57" stroke="#C5303A" stroke-width="2" />
<circle cx="1887.4" cy="150.07" r="5.9" fill="none" stroke="#C5303A" stroke-width="2"/>
<line x1="1902.92" y1="141.97" x2="1902.92" y2="144.37" stroke="#C5303A" stroke-width="2" />
<line x1="1902.92" y1="153.77" x2="1902.92" y2="151.37" stroke="#C5303A" stroke-width="2" />
<line x1="1897.42" y1="144.37" x2="1908.42" y2="144.37" stroke="#C5303A" stroke-width="2" />
<line x1="1897.42" y1="151.37" x2="1908.42" y2="151.37" stroke="#C5303A" stroke-width="2" />
<circle cx="1902.92" cy="147.87" r="5.9" fill="none" stroke="#C5303A" stroke-width="2"/>
<line x1="1918.44" y1="145.71" x2="1918.44" y2="137.5" stroke="#C5303A" stroke-width="2" />
<line x1="1918.44" y1="157.51" x2="1918.44" y2="165.94" stroke="#C5303A" stroke-width="2" />
<line x1="1912.94" y1="137.5" x2="1923.94" y2="137.5" stroke="#C5303A" stroke-width="2" />
<line x1="1912.94" y1="165.94" x2="1923.94" y2="165.94" stroke="#C5303A" stroke-width="2" />
<circle cx="1918.44" cy="151.61" r="5.9" fill="none" stroke="#C5303A" stroke-width="2"/>
<line x1="1933.95" y1="147.48" x2="1933.95" y2="149.88" stroke="#C5303A" stroke-width="2" />
<line x1="1933.95" y1="159.28" x2="1933.95" y2="156.88" stroke="#C5303A" stroke-width="2" />
<line x1="1928.45" y1="149.88" x2="1939.45" y2="149.88" stroke="#C5303A" stroke-width="2" />
<line x1="1928.45" y1="156.88" x2="1939.45" y2="156.88" stroke="#C5303A" stroke-width="2" />
<circle cx="1933.95" cy="153.38" r="5.9" fill="none" stroke="#C5303A" stroke-width="2"/>
<line x1="1949.47" y1="150.34" x2="1949.47" y2="147.43" stroke="#C5303A" stroke-width="2" />
<line x1="1949.47" y1="162.14" x2="1949.47" y2="164.4" stroke="#C5303A" stroke-width="2" />
<line x1="1943.97" y1="147.43" x2="1954.97" y2="147.43" stroke="#C5303A" stroke-width="2" />
<line x1="1943.97" y1="164.4" x2="1954.97" y2="164.4" stroke="#C5303A" stroke-width="2" />
<circle cx="1949.47" cy="156.24" r="5.9" fill="none" stroke="#C5303A" stroke-width="2"/>
<line x1="1964.98" y1="152.55" x2="1964.98" y2="154.95" stroke="#C5303A" stroke-width="2" />
<line x1="1964.98" y1="164.35" x2="1964.98" y2="161.95" stroke="#C5303A" stroke-width="2" />
<line x1="1959.48" y1="154.95" x2="1970.48" y2="154.95" stroke="#C5303A" stroke-width="2" />
<line x1="1959.48" y1="161.95" x2="1970.48" y2="161.95" stroke="#C5303A" stroke-width="2" />
<circle cx="1964.98" cy="158.45" r="5.9" fill="none" stroke="#C5303A" stroke-width="2"/>
<line x1="1980.5" y1="156.96" x2="1980.5" y2="147.43" stroke="#C5303A" stroke-width="2" />
<line x1="1980.5" y1="168.76" x2="1980.5" y2="177.63" stroke="#C5303A" stroke-width="2" />
<line x1="1975" y1="147.43" x2="1986" y2="147.43" stroke="#C5303A" stroke-width="2" />
<line x1="1975" y1="177.63" x2="1986" y2="177.63" stroke="#C5303A" stroke-width="2" />
<circle cx="1980.5" cy="162.86" r="5.9" fill="none" stroke="#C5303A" stroke-width="2"/>
<circle cx="1592.6" cy="213.59" r="5.9" fill="none" stroke="#4A80C8" stroke-width="2"/>
<line x1="1608.12" y1="211.78" x2="1608.12" y2="214.18" stroke="#4A80C8" stroke-width="2" />
<line x1="1608.12" y1="223.58" x2="1608.12" y2="221.18" stroke="#4A80C8" stroke-width="2" />
<line x1="1602.62" y1="214.18" x2="1613.62" y2="214.18" stroke="#4A80C8" stroke-width="2" />
<line x1="1602.62" y1="221.18" x2="1613.62" y2="221.18" stroke="#4A80C8" stroke-width="2" />
<circle cx="1608.12" cy="217.68" r="5.9" fill="none" stroke="#4A80C8" stroke-width="2"/>
<line x1="1623.63" y1="214.72" x2="1623.63" y2="214.95" stroke="#4A80C8" stroke-width="2" />
<line x1="1623.63" y1="226.52" x2="1623.63" y2="225.61" stroke="#4A80C8" stroke-width="2" />
<line x1="1618.13" y1="214.95" x2="1629.13" y2="214.95" stroke="#4A80C8" stroke-width="2" />
<line x1="1618.13" y1="225.61" x2="1629.13" y2="225.61" stroke="#4A80C8" stroke-width="2" />
<circle cx="1623.63" cy="220.62" r="5.9" fill="none" stroke="#4A80C8" stroke-width="2"/>
<line x1="1639.15" y1="219.71" x2="1639.15" y2="222.11" stroke="#4A80C8" stroke-width="2" />
<line x1="1639.15" y1="231.51" x2="1639.15" y2="229.11" stroke="#4A80C8" stroke-width="2" />
<line x1="1633.65" y1="222.11" x2="1644.65" y2="222.11" stroke="#4A80C8" stroke-width="2" />
<line x1="1633.65" y1="229.11" x2="1644.65" y2="229.11" stroke="#4A80C8" stroke-width="2" />
<circle cx="1639.15" cy="225.61" r="5.9" fill="none" stroke="#4A80C8" stroke-width="2"/>
<line x1="1654.66" y1="224.25" x2="1654.66" y2="223.34" stroke="#4A80C8" stroke-width="2" />
<line x1="1654.66" y1="236.05" x2="1654.66" y2="236.95" stroke="#4A80C8" stroke-width="2" />
<line x1="1649.16" y1="223.34" x2="1660.16" y2="223.34" stroke="#4A80C8" stroke-width="2" />
<line x1="1649.16" y1="236.95" x2="1660.16" y2="236.95" stroke="#4A80C8" stroke-width="2" />
<circle cx="1654.66" cy="230.15" r="5.9" fill="none" stroke="#4A80C8" stroke-width="2"/>
<line x1="1670.18" y1="234" x2="1670.18" y2="229.01" stroke="#4A80C8" stroke-width="2" />
<line x1="1670.18" y1="245.8" x2="1670.18" y2="249.42" stroke="#4A80C8" stroke-width="2" />
<line x1="1664.68" y1="229.01" x2="1675.68" y2="229.01" stroke="#4A80C8" stroke-width="2" />
<line x1="1664.68" y1="249.42" x2="1675.68" y2="249.42" stroke="#4A80C8" stroke-width="2" />
<circle cx="1670.18" cy="239.9" r="5.9" fill="none" stroke="#4A80C8" stroke-width="2"/>
<line x1="1685.7" y1="226.51" x2="1685.7" y2="211.55" stroke="#4A80C8" stroke-width="2" />
<line x1="1685.7" y1="238.31" x2="1685.7" y2="243.75" stroke="#4A80C8" stroke-width="2" />
<line x1="1680.2" y1="211.55" x2="1691.2" y2="211.55" stroke="#4A80C8" stroke-width="2" />
<line x1="1680.2" y1="243.75" x2="1691.2" y2="243.75" stroke="#4A80C8" stroke-width="2" />
<circle cx="1685.7" cy="232.41" r="5.9" fill="none" stroke="#4A80C8" stroke-width="2"/>
<line x1="1701.21" y1="240.8" x2="1701.21" y2="226.75" stroke="#4A80C8" stroke-width="2" />
<line x1="1701.21" y1="252.6" x2="1701.21" y2="267.56" stroke="#4A80C8" stroke-width="2" />
<line x1="1695.71" y1="226.75" x2="1706.71" y2="226.75" stroke="#4A80C8" stroke-width="2" />
<line x1="1695.71" y1="267.56" x2="1706.71" y2="267.56" stroke="#4A80C8" stroke-width="2" />
<circle cx="1701.21" cy="246.7" r="5.9" fill="none" stroke="#4A80C8" stroke-width="2"/>
<line x1="1716.73" y1="249.19" x2="1716.73" y2="238.08" stroke="#4A80C8" stroke-width="2" />
<line x1="1716.73" y1="260.99" x2="1716.73" y2="274.37" stroke="#4A80C8" stroke-width="2" />
<line x1="1711.23" y1="238.08" x2="1722.23" y2="238.08" stroke="#4A80C8" stroke-width="2" />
<line x1="1711.23" y1="274.37" x2="1722.23" y2="274.37" stroke="#4A80C8" stroke-width="2" />
<circle cx="1716.73" cy="255.09" r="5.9" fill="none" stroke="#4A80C8" stroke-width="2"/>
<line x1="1732.24" y1="250.32" x2="1732.24" y2="242.62" stroke="#4A80C8" stroke-width="2" />
<line x1="1732.24" y1="262.12" x2="1732.24" y2="274.37" stroke="#4A80C8" stroke-width="2" />
<line x1="1726.74" y1="242.62" x2="1737.74" y2="242.62" stroke="#4A80C8" stroke-width="2" />
<line x1="1726.74" y1="274.37" x2="1737.74" y2="274.37" stroke="#4A80C8" stroke-width="2" />
<circle cx="1732.24" cy="256.22" r="5.9" fill="none" stroke="#4A80C8" stroke-width="2"/>
<line x1="1747.76" y1="250.78" x2="1747.76" y2="242.62" stroke="#4A80C8" stroke-width="2" />
<line x1="1747.76" y1="262.58" x2="1747.76" y2="274.37" stroke="#4A80C8" stroke-width="2" />
<line x1="1742.26" y1="242.62" x2="1753.26" y2="242.62" stroke="#4A80C8" stroke-width="2" />
<line x1="1742.26" y1="274.37" x2="1753.26" y2="274.37" stroke="#4A80C8" stroke-width="2" />
<circle cx="1747.76" cy="256.68" r="5.9" fill="none" stroke="#4A80C8" stroke-width="2"/>
<line x1="1763.28" y1="254.86" x2="1763.28" y2="246.02" stroke="#4A80C8" stroke-width="2" />
<line x1="1763.28" y1="266.66" x2="1763.28" y2="275.5" stroke="#4A80C8" stroke-width="2" />
<line x1="1757.78" y1="246.02" x2="1768.78" y2="246.02" stroke="#4A80C8" stroke-width="2" />
<line x1="1757.78" y1="275.5" x2="1768.78" y2="275.5" stroke="#4A80C8" stroke-width="2" />
<circle cx="1763.28" cy="260.76" r="5.9" fill="none" stroke="#4A80C8" stroke-width="2"/>
<line x1="1778.79" y1="268.01" x2="1778.79" y2="260.76" stroke="#4A80C8" stroke-width="2" />
<line x1="1778.79" y1="279.81" x2="1778.79" y2="289.1" stroke="#4A80C8" stroke-width="2" />
<line x1="1773.29" y1="260.76" x2="1784.29" y2="260.76" stroke="#4A80C8" stroke-width="2" />
<line x1="1773.29" y1="289.1" x2="1784.29" y2="289.1" stroke="#4A80C8" stroke-width="2" />
<circle cx="1778.79" cy="273.91" r="5.9" fill="none" stroke="#4A80C8" stroke-width="2"/>
<line x1="1794.31" y1="277.1" x2="1794.31" y2="269.85" stroke="#4A80C8" stroke-width="2" />
<line x1="1794.31" y1="288.9" x2="1794.31" y2="296.61" stroke="#4A80C8" stroke-width="2" />
<line x1="1788.81" y1="269.85" x2="1799.81" y2="269.85" stroke="#4A80C8" stroke-width="2" />
<line x1="1788.81" y1="296.61" x2="1799.81" y2="296.61" stroke="#4A80C8" stroke-width="2" />
<circle cx="1794.31" cy="283" r="5.9" fill="none" stroke="#4A80C8" stroke-width="2"/>
<line x1="1809.82" y1="274.83" x2="1809.82" y2="267.13" stroke="#4A80C8" stroke-width="2" />
<line x1="1809.82" y1="286.63" x2="1809.82" y2="294.34" stroke="#4A80C8" stroke-width="2" />
<line x1="1804.32" y1="267.13" x2="1815.32" y2="267.13" stroke="#4A80C8" stroke-width="2" />
<line x1="1804.32" y1="294.34" x2="1815.32" y2="294.34" stroke="#4A80C8" stroke-width="2" />
<circle cx="1809.82" cy="280.73" r="5.9" fill="none" stroke="#4A80C8" stroke-width="2"/>
<line x1="1825.34" y1="277.56" x2="1825.34" y2="269.85" stroke="#4A80C8" stroke-width="2" />
<line x1="1825.34" y1="289.36" x2="1825.34" y2="296.61" stroke="#4A80C8" stroke-width="2" />
<line x1="1819.84" y1="269.85" x2="1830.84" y2="269.85" stroke="#4A80C8" stroke-width="2" />
<line x1="1819.84" y1="296.61" x2="1830.84" y2="296.61" stroke="#4A80C8" stroke-width="2" />
<circle cx="1825.34" cy="283.46" r="5.9" fill="none" stroke="#4A80C8" stroke-width="2"/>
<line x1="1840.86" y1="278.24" x2="1840.86" y2="261.91" stroke="#4A80C8" stroke-width="2" />
<line x1="1840.86" y1="290.04" x2="1840.86" y2="304.32" stroke="#4A80C8" stroke-width="2" />
<line x1="1835.36" y1="261.91" x2="1846.36" y2="261.91" stroke="#4A80C8" stroke-width="2" />
<line x1="1835.36" y1="304.32" x2="1846.36" y2="304.32" stroke="#4A80C8" stroke-width="2" />
<circle cx="1840.86" cy="284.14" r="5.9" fill="none" stroke="#4A80C8" stroke-width="2"/>
<line x1="1856.37" y1="278.69" x2="1856.37" y2="272.11" stroke="#4A80C8" stroke-width="2" />
<line x1="1856.37" y1="290.49" x2="1856.37" y2="298.88" stroke="#4A80C8" stroke-width="2" />
<line x1="1850.87" y1="272.11" x2="1861.87" y2="272.11" stroke="#4A80C8" stroke-width="2" />
<line x1="1850.87" y1="298.88" x2="1861.87" y2="298.88" stroke="#4A80C8" stroke-width="2" />
<circle cx="1856.37" cy="284.59" r="5.9" fill="none" stroke="#4A80C8" stroke-width="2"/>
<line x1="1871.89" y1="286.17" x2="1871.89" y2="278.92" stroke="#4A80C8" stroke-width="2" />
<line x1="1871.89" y1="297.97" x2="1871.89" y2="305.68" stroke="#4A80C8" stroke-width="2" />
<line x1="1866.39" y1="278.92" x2="1877.39" y2="278.92" stroke="#4A80C8" stroke-width="2" />
<line x1="1866.39" y1="305.68" x2="1877.39" y2="305.68" stroke="#4A80C8" stroke-width="2" />
<circle cx="1871.89" cy="292.07" r="5.9" fill="none" stroke="#4A80C8" stroke-width="2"/>
<line x1="1887.4" y1="287.08" x2="1887.4" y2="280.05" stroke="#4A80C8" stroke-width="2" />
<line x1="1887.4" y1="298.88" x2="1887.4" y2="305.68" stroke="#4A80C8" stroke-width="2" />
<line x1="1881.9" y1="280.05" x2="1892.9" y2="280.05" stroke="#4A80C8" stroke-width="2" />
<line x1="1881.9" y1="305.68" x2="1892.9" y2="305.68" stroke="#4A80C8" stroke-width="2" />
<circle cx="1887.4" cy="292.98" r="5.9" fill="none" stroke="#4A80C8" stroke-width="2"/>
<line x1="1902.92" y1="292.3" x2="1902.92" y2="287.99" stroke="#4A80C8" stroke-width="2" />
<line x1="1902.92" y1="304.1" x2="1902.92" y2="308.4" stroke="#4A80C8" stroke-width="2" />
<line x1="1897.42" y1="287.99" x2="1908.42" y2="287.99" stroke="#4A80C8" stroke-width="2" />
<line x1="1897.42" y1="308.4" x2="1908.42" y2="308.4" stroke="#4A80C8" stroke-width="2" />
<circle cx="1902.92" cy="298.2" r="5.9" fill="none" stroke="#4A80C8" stroke-width="2"/>
<line x1="1918.44" y1="288.9" x2="1918.44" y2="286.86" stroke="#4A80C8" stroke-width="2" />
<line x1="1918.44" y1="300.7" x2="1918.44" y2="305" stroke="#4A80C8" stroke-width="2" />
<line x1="1912.94" y1="286.86" x2="1923.94" y2="286.86" stroke="#4A80C8" stroke-width="2" />
<line x1="1912.94" y1="305" x2="1923.94" y2="305" stroke="#4A80C8" stroke-width="2" />
<circle cx="1918.44" cy="294.8" r="5.9" fill="none" stroke="#4A80C8" stroke-width="2"/>
<line x1="1933.95" y1="288.44" x2="1933.95" y2="285.72" stroke="#4A80C8" stroke-width="2" />
<line x1="1933.95" y1="300.24" x2="1933.95" y2="305" stroke="#4A80C8" stroke-width="2" />
<line x1="1928.45" y1="285.72" x2="1939.45" y2="285.72" stroke="#4A80C8" stroke-width="2" />
<line x1="1928.45" y1="305" x2="1939.45" y2="305" stroke="#4A80C8" stroke-width="2" />
<circle cx="1933.95" cy="294.34" r="5.9" fill="none" stroke="#4A80C8" stroke-width="2"/>
<line x1="1949.47" y1="290.03" x2="1949.47" y2="292.43" stroke="#4A80C8" stroke-width="2" />
<line x1="1949.47" y1="301.83" x2="1949.47" y2="299.43" stroke="#4A80C8" stroke-width="2" />
<line x1="1943.97" y1="292.43" x2="1954.97" y2="292.43" stroke="#4A80C8" stroke-width="2" />
<line x1="1943.97" y1="299.43" x2="1954.97" y2="299.43" stroke="#4A80C8" stroke-width="2" />
<circle cx="1949.47" cy="295.93" r="5.9" fill="none" stroke="#4A80C8" stroke-width="2"/>
<line x1="1964.98" y1="292.3" x2="1964.98" y2="287.99" stroke="#4A80C8" stroke-width="2" />
<line x1="1964.98" y1="304.1" x2="1964.98" y2="308.4" stroke="#4A80C8" stroke-width="2" />
<line x1="1959.48" y1="287.99" x2="1970.48" y2="287.99" stroke="#4A80C8" stroke-width="2" />
<line x1="1959.48" y1="308.4" x2="1970.48" y2="308.4" stroke="#4A80C8" stroke-width="2" />
<circle cx="1964.98" cy="298.2" r="5.9" fill="none" stroke="#4A80C8" stroke-width="2"/>
<line x1="1980.5" y1="296.83" x2="1980.5" y2="291.39" stroke="#4A80C8" stroke-width="2" />
<line x1="1980.5" y1="308.63" x2="1980.5" y2="315.21" stroke="#4A80C8" stroke-width="2" />
<line x1="1975" y1="291.39" x2="1986" y2="291.39" stroke="#4A80C8" stroke-width="2" />
<line x1="1975" y1="315.21" x2="1986" y2="315.21" stroke="#4A80C8" stroke-width="2" />
<circle cx="1980.5" cy="302.73" r="5.9" fill="none" stroke="#4A80C8" stroke-width="2"/>
<circle cx="1592.6" cy="213.59" r="5.9" fill="none" stroke="#C5303A" stroke-width="2"/>
<line x1="1608.12" y1="223.11" x2="1608.12" y2="225.51" stroke="#C5303A" stroke-width="2" />
<line x1="1608.12" y1="234.91" x2="1608.12" y2="232.51" stroke="#C5303A" stroke-width="2" />
<line x1="1602.62" y1="225.51" x2="1613.62" y2="225.51" stroke="#C5303A" stroke-width="2" />
<line x1="1602.62" y1="232.51" x2="1613.62" y2="232.51" stroke="#C5303A" stroke-width="2" />
<circle cx="1608.12" cy="229.01" r="5.9" fill="none" stroke="#C5303A" stroke-width="2"/>
<line x1="1623.63" y1="230.6" x2="1623.63" y2="233" stroke="#C5303A" stroke-width="2" />
<line x1="1623.63" y1="242.4" x2="1623.63" y2="240" stroke="#C5303A" stroke-width="2" />
<line x1="1618.13" y1="233" x2="1629.13" y2="233" stroke="#C5303A" stroke-width="2" />
<line x1="1618.13" y1="240" x2="1629.13" y2="240" stroke="#C5303A" stroke-width="2" />
<circle cx="1623.63" cy="236.5" r="5.9" fill="none" stroke="#C5303A" stroke-width="2"/>
<line x1="1639.15" y1="231.05" x2="1639.15" y2="233.45" stroke="#C5303A" stroke-width="2" />
<line x1="1639.15" y1="242.85" x2="1639.15" y2="240.45" stroke="#C5303A" stroke-width="2" />
<line x1="1633.65" y1="233.45" x2="1644.65" y2="233.45" stroke="#C5303A" stroke-width="2" />
<line x1="1633.65" y1="240.45" x2="1644.65" y2="240.45" stroke="#C5303A" stroke-width="2" />
<circle cx="1639.15" cy="236.95" r="5.9" fill="none" stroke="#C5303A" stroke-width="2"/>
<line x1="1654.66" y1="234.45" x2="1654.66" y2="236.85" stroke="#C5303A" stroke-width="2" />
<line x1="1654.66" y1="246.25" x2="1654.66" y2="243.85" stroke="#C5303A" stroke-width="2" />
<line x1="1649.16" y1="236.85" x2="1660.16" y2="236.85" stroke="#C5303A" stroke-width="2" />
<line x1="1649.16" y1="243.85" x2="1660.16" y2="243.85" stroke="#C5303A" stroke-width="2" />
<circle cx="1654.66" cy="240.35" r="5.9" fill="none" stroke="#C5303A" stroke-width="2"/>
<line x1="1670.18" y1="239.44" x2="1670.18" y2="232.41" stroke="#C5303A" stroke-width="2" />
<line x1="1670.18" y1="251.24" x2="1670.18" y2="257.36" stroke="#C5303A" stroke-width="2" />
<line x1="1664.68" y1="232.41" x2="1675.68" y2="232.41" stroke="#C5303A" stroke-width="2" />
<line x1="1664.68" y1="257.36" x2="1675.68" y2="257.36" stroke="#C5303A" stroke-width="2" />
<circle cx="1670.18" cy="245.34" r="5.9" fill="none" stroke="#C5303A" stroke-width="2"/>
<line x1="1685.7" y1="246.24" x2="1685.7" y2="239.22" stroke="#C5303A" stroke-width="2" />
<line x1="1685.7" y1="258.04" x2="1685.7" y2="265.29" stroke="#C5303A" stroke-width="2" />
<line x1="1680.2" y1="239.22" x2="1691.2" y2="239.22" stroke="#C5303A" stroke-width="2" />
<line x1="1680.2" y1="265.29" x2="1691.2" y2="265.29" stroke="#C5303A" stroke-width="2" />
<circle cx="1685.7" cy="252.14" r="5.9" fill="none" stroke="#C5303A" stroke-width="2"/>
<line x1="1701.21" y1="250.32" x2="1701.21" y2="243.75" stroke="#C5303A" stroke-width="2" />
<line x1="1701.21" y1="262.12" x2="1701.21" y2="269.38" stroke="#C5303A" stroke-width="2" />
<line x1="1695.71" y1="243.75" x2="1706.71" y2="243.75" stroke="#C5303A" stroke-width="2" />
<line x1="1695.71" y1="269.38" x2="1706.71" y2="269.38" stroke="#C5303A" stroke-width="2" />
<circle cx="1701.21" cy="256.22" r="5.9" fill="none" stroke="#C5303A" stroke-width="2"/>
<line x1="1716.73" y1="252.59" x2="1716.73" y2="243.75" stroke="#C5303A" stroke-width="2" />
<line x1="1716.73" y1="264.39" x2="1716.73" y2="273.23" stroke="#C5303A" stroke-width="2" />
<line x1="1711.23" y1="243.75" x2="1722.23" y2="243.75" stroke="#C5303A" stroke-width="2" />
<line x1="1711.23" y1="273.23" x2="1722.23" y2="273.23" stroke="#C5303A" stroke-width="2" />
<circle cx="1716.73" cy="258.49" r="5.9" fill="none" stroke="#C5303A" stroke-width="2"/>
<line x1="1732.24" y1="254.86" x2="1732.24" y2="251.69" stroke="#C5303A" stroke-width="2" />
<line x1="1732.24" y1="266.66" x2="1732.24" y2="269.83" stroke="#C5303A" stroke-width="2" />
<line x1="1726.74" y1="251.69" x2="1737.74" y2="251.69" stroke="#C5303A" stroke-width="2" />
<line x1="1726.74" y1="269.83" x2="1737.74" y2="269.83" stroke="#C5303A" stroke-width="2" />
<circle cx="1732.24" cy="260.76" r="5.9" fill="none" stroke="#C5303A" stroke-width="2"/>
<line x1="1747.76" y1="255.99" x2="1747.76" y2="258.39" stroke="#C5303A" stroke-width="2" />
<line x1="1747.76" y1="267.79" x2="1747.76" y2="265.39" stroke="#C5303A" stroke-width="2" />
<line x1="1742.26" y1="258.39" x2="1753.26" y2="258.39" stroke="#C5303A" stroke-width="2" />
<line x1="1742.26" y1="265.39" x2="1753.26" y2="265.39" stroke="#C5303A" stroke-width="2" />
<circle cx="1747.76" cy="261.89" r="5.9" fill="none" stroke="#C5303A" stroke-width="2"/>
<line x1="1763.28" y1="256.45" x2="1763.28" y2="255.09" stroke="#C5303A" stroke-width="2" />
<line x1="1763.28" y1="268.25" x2="1763.28" y2="269.83" stroke="#C5303A" stroke-width="2" />
<line x1="1757.78" y1="255.09" x2="1768.78" y2="255.09" stroke="#C5303A" stroke-width="2" />
<line x1="1757.78" y1="269.83" x2="1768.78" y2="269.83" stroke="#C5303A" stroke-width="2" />
<circle cx="1763.28" cy="262.35" r="5.9" fill="none" stroke="#C5303A" stroke-width="2"/>
<line x1="1778.79" y1="257.13" x2="1778.79" y2="256.68" stroke="#C5303A" stroke-width="2" />
<line x1="1778.79" y1="268.93" x2="1778.79" y2="269.38" stroke="#C5303A" stroke-width="2" />
<line x1="1773.29" y1="256.68" x2="1784.29" y2="256.68" stroke="#C5303A" stroke-width="2" />
<line x1="1773.29" y1="269.38" x2="1784.29" y2="269.38" stroke="#C5303A" stroke-width="2" />
<circle cx="1778.79" cy="263.03" r="5.9" fill="none" stroke="#C5303A" stroke-width="2"/>
<line x1="1794.31" y1="259.41" x2="1794.31" y2="258.51" stroke="#C5303A" stroke-width="2" />
<line x1="1794.31" y1="271.21" x2="1794.31" y2="270.98" stroke="#C5303A" stroke-width="2" />
<line x1="1788.81" y1="258.51" x2="1799.81" y2="258.51" stroke="#C5303A" stroke-width="2" />
<line x1="1788.81" y1="270.98" x2="1799.81" y2="270.98" stroke="#C5303A" stroke-width="2" />
<circle cx="1794.31" cy="265.31" r="5.9" fill="none" stroke="#C5303A" stroke-width="2"/>
<line x1="1809.82" y1="260.54" x2="1809.82" y2="260.09" stroke="#C5303A" stroke-width="2" />
<line x1="1809.82" y1="272.34" x2="1809.82" y2="272.11" stroke="#C5303A" stroke-width="2" />
<line x1="1804.32" y1="260.09" x2="1815.32" y2="260.09" stroke="#C5303A" stroke-width="2" />
<line x1="1804.32" y1="272.11" x2="1815.32" y2="272.11" stroke="#C5303A" stroke-width="2" />
<circle cx="1809.82" cy="266.44" r="5.9" fill="none" stroke="#C5303A" stroke-width="2"/>
<line x1="1825.34" y1="262.81" x2="1825.34" y2="260.09" stroke="#C5303A" stroke-width="2" />
<line x1="1825.34" y1="274.61" x2="1825.34" y2="277.1" stroke="#C5303A" stroke-width="2" />
<line x1="1819.84" y1="260.09" x2="1830.84" y2="260.09" stroke="#C5303A" stroke-width="2" />
<line x1="1819.84" y1="277.1" x2="1830.84" y2="277.1" stroke="#C5303A" stroke-width="2" />
<circle cx="1825.34" cy="268.71" r="5.9" fill="none" stroke="#C5303A" stroke-width="2"/>
<line x1="1840.86" y1="265.08" x2="1840.86" y2="261.91" stroke="#C5303A" stroke-width="2" />
<line x1="1840.86" y1="276.88" x2="1840.86" y2="278.47" stroke="#C5303A" stroke-width="2" />
<line x1="1835.36" y1="261.91" x2="1846.36" y2="261.91" stroke="#C5303A" stroke-width="2" />
<line x1="1835.36" y1="278.47" x2="1846.36" y2="278.47" stroke="#C5303A" stroke-width="2" />
<circle cx="1840.86" cy="270.98" r="5.9" fill="none" stroke="#C5303A" stroke-width="2"/>
<line x1="1856.37" y1="266.21" x2="1856.37" y2="268.61" stroke="#C5303A" stroke-width="2" />
<line x1="1856.37" y1="278.01" x2="1856.37" y2="275.61" stroke="#C5303A" stroke-width="2" />
<line x1="1850.87" y1="268.61" x2="1861.87" y2="268.61" stroke="#C5303A" stroke-width="2" />
<line x1="1850.87" y1="275.61" x2="1861.87" y2="275.61" stroke="#C5303A" stroke-width="2" />
<circle cx="1856.37" cy="272.11" r="5.9" fill="none" stroke="#C5303A" stroke-width="2"/>
<line x1="1871.89" y1="266.21" x2="1871.89" y2="268.61" stroke="#C5303A" stroke-width="2" />
<line x1="1871.89" y1="278.01" x2="1871.89" y2="275.61" stroke="#C5303A" stroke-width="2" />
<line x1="1866.39" y1="268.61" x2="1877.39" y2="268.61" stroke="#C5303A" stroke-width="2" />
<line x1="1866.39" y1="275.61" x2="1877.39" y2="275.61" stroke="#C5303A" stroke-width="2" />
<circle cx="1871.89" cy="272.11" r="5.9" fill="none" stroke="#C5303A" stroke-width="2"/>
<line x1="1887.4" y1="269.62" x2="1887.4" y2="269.85" stroke="#C5303A" stroke-width="2" />
<line x1="1887.4" y1="281.42" x2="1887.4" y2="281.19" stroke="#C5303A" stroke-width="2" />
<line x1="1881.9" y1="269.85" x2="1892.9" y2="269.85" stroke="#C5303A" stroke-width="2" />
<line x1="1881.9" y1="281.19" x2="1892.9" y2="281.19" stroke="#C5303A" stroke-width="2" />
<circle cx="1887.4" cy="275.52" r="5.9" fill="none" stroke="#C5303A" stroke-width="2"/>
<line x1="1902.92" y1="275.29" x2="1902.92" y2="275.52" stroke="#C5303A" stroke-width="2" />
<line x1="1902.92" y1="287.09" x2="1902.92" y2="286.86" stroke="#C5303A" stroke-width="2" />
<line x1="1897.42" y1="275.52" x2="1908.42" y2="275.52" stroke="#C5303A" stroke-width="2" />
<line x1="1897.42" y1="286.86" x2="1908.42" y2="286.86" stroke="#C5303A" stroke-width="2" />
<circle cx="1902.92" cy="281.19" r="5.9" fill="none" stroke="#C5303A" stroke-width="2"/>
<line x1="1918.44" y1="278.69" x2="1918.44" y2="278.92" stroke="#C5303A" stroke-width="2" />
<line x1="1918.44" y1="290.49" x2="1918.44" y2="290.26" stroke="#C5303A" stroke-width="2" />
<line x1="1912.94" y1="278.92" x2="1923.94" y2="278.92" stroke="#C5303A" stroke-width="2" />
<line x1="1912.94" y1="290.26" x2="1923.94" y2="290.26" stroke="#C5303A" stroke-width="2" />
<circle cx="1918.44" cy="284.59" r="5.9" fill="none" stroke="#C5303A" stroke-width="2"/>
<line x1="1933.95" y1="279.37" x2="1933.95" y2="279.37" stroke="#C5303A" stroke-width="2" />
<line x1="1933.95" y1="291.17" x2="1933.95" y2="290.71" stroke="#C5303A" stroke-width="2" />
<line x1="1928.45" y1="279.37" x2="1939.45" y2="279.37" stroke="#C5303A" stroke-width="2" />
<line x1="1928.45" y1="290.71" x2="1939.45" y2="290.71" stroke="#C5303A" stroke-width="2" />
<circle cx="1933.95" cy="285.27" r="5.9" fill="none" stroke="#C5303A" stroke-width="2"/>
<line x1="1949.47" y1="290.48" x2="1949.47" y2="285.27" stroke="#C5303A" stroke-width="2" />
<line x1="1949.47" y1="302.28" x2="1949.47" y2="307.27" stroke="#C5303A" stroke-width="2" />
<line x1="1943.97" y1="285.27" x2="1954.97" y2="285.27" stroke="#C5303A" stroke-width="2" />
<line x1="1943.97" y1="307.27" x2="1954.97" y2="307.27" stroke="#C5303A" stroke-width="2" />
<circle cx="1949.47" cy="296.38" r="5.9" fill="none" stroke="#C5303A" stroke-width="2"/>
<line x1="1964.98" y1="296.15" x2="1964.98" y2="298.55" stroke="#C5303A" stroke-width="2" />
<line x1="1964.98" y1="307.95" x2="1964.98" y2="305.55" stroke="#C5303A" stroke-width="2" />
<line x1="1959.48" y1="298.55" x2="1970.48" y2="298.55" stroke="#C5303A" stroke-width="2" />
<line x1="1959.48" y1="305.55" x2="1970.48" y2="305.55" stroke="#C5303A" stroke-width="2" />
<circle cx="1964.98" cy="302.05" r="5.9" fill="none" stroke="#C5303A" stroke-width="2"/>
<line x1="1980.5" y1="302.05" x2="1980.5" y2="302.73" stroke="#C5303A" stroke-width="2" />
<line x1="1980.5" y1="313.85" x2="1980.5" y2="312.94" stroke="#C5303A" stroke-width="2" />
<line x1="1975" y1="302.73" x2="1986" y2="302.73" stroke="#C5303A" stroke-width="2" />
<line x1="1975" y1="312.94" x2="1986" y2="312.94" stroke="#C5303A" stroke-width="2" />
<circle cx="1980.5" cy="307.95" r="5.9" fill="none" stroke="#C5303A" stroke-width="2"/>
<circle cx="1592.6" cy="393.14" r="5.9" fill="none" stroke="#4A80C8" stroke-width="2"/>
<line x1="1608.12" y1="442.12" x2="1608.12" y2="430.56" stroke="#4A80C8" stroke-width="2" />
<line x1="1608.12" y1="453.92" x2="1608.12" y2="465.25" stroke="#4A80C8" stroke-width="2" />
<line x1="1602.62" y1="430.56" x2="1613.62" y2="430.56" stroke="#4A80C8" stroke-width="2" />
<line x1="1602.62" y1="465.25" x2="1613.62" y2="465.25" stroke="#4A80C8" stroke-width="2" />
<circle cx="1608.12" cy="448.02" r="5.9" fill="none" stroke="#4A80C8" stroke-width="2"/>
<line x1="1623.63" y1="464.34" x2="1623.63" y2="454.82" stroke="#4A80C8" stroke-width="2" />
<line x1="1623.63" y1="476.14" x2="1623.63" y2="486.11" stroke="#4A80C8" stroke-width="2" />
<line x1="1618.13" y1="454.82" x2="1629.13" y2="454.82" stroke="#4A80C8" stroke-width="2" />
<line x1="1618.13" y1="486.11" x2="1629.13" y2="486.11" stroke="#4A80C8" stroke-width="2" />
<circle cx="1623.63" cy="470.24" r="5.9" fill="none" stroke="#4A80C8" stroke-width="2"/>
<line x1="1639.15" y1="475.68" x2="1639.15" y2="468.65" stroke="#4A80C8" stroke-width="2" />
<line x1="1639.15" y1="487.48" x2="1639.15" y2="495.86" stroke="#4A80C8" stroke-width="2" />
<line x1="1633.65" y1="468.65" x2="1644.65" y2="468.65" stroke="#4A80C8" stroke-width="2" />
<line x1="1633.65" y1="495.86" x2="1644.65" y2="495.86" stroke="#4A80C8" stroke-width="2" />
<circle cx="1639.15" cy="481.58" r="5.9" fill="none" stroke="#4A80C8" stroke-width="2"/>
<line x1="1654.66" y1="475.68" x2="1654.66" y2="472.05" stroke="#4A80C8" stroke-width="2" />
<line x1="1654.66" y1="487.48" x2="1654.66" y2="492.46" stroke="#4A80C8" stroke-width="2" />
<line x1="1649.16" y1="472.05" x2="1660.16" y2="472.05" stroke="#4A80C8" stroke-width="2" />
<line x1="1649.16" y1="492.46" x2="1660.16" y2="492.46" stroke="#4A80C8" stroke-width="2" />
<circle cx="1654.66" cy="481.58" r="5.9" fill="none" stroke="#4A80C8" stroke-width="2"/>
<line x1="1670.18" y1="475.68" x2="1670.18" y2="474.32" stroke="#4A80C8" stroke-width="2" />
<line x1="1670.18" y1="487.48" x2="1670.18" y2="489.51" stroke="#4A80C8" stroke-width="2" />
<line x1="1664.68" y1="474.32" x2="1675.68" y2="474.32" stroke="#4A80C8" stroke-width="2" />
<line x1="1664.68" y1="489.51" x2="1675.68" y2="489.51" stroke="#4A80C8" stroke-width="2" />
<circle cx="1670.18" cy="481.58" r="5.9" fill="none" stroke="#4A80C8" stroke-width="2"/>
<line x1="1685.7" y1="475.68" x2="1685.7" y2="470.24" stroke="#4A80C8" stroke-width="2" />
<line x1="1685.7" y1="487.48" x2="1685.7" y2="494.5" stroke="#4A80C8" stroke-width="2" />
<line x1="1680.2" y1="470.24" x2="1691.2" y2="470.24" stroke="#4A80C8" stroke-width="2" />
<line x1="1680.2" y1="494.5" x2="1691.2" y2="494.5" stroke="#4A80C8" stroke-width="2" />
<circle cx="1685.7" cy="481.58" r="5.9" fill="none" stroke="#4A80C8" stroke-width="2"/>
<line x1="1701.21" y1="475.68" x2="1701.21" y2="474.77" stroke="#4A80C8" stroke-width="2" />
<line x1="1701.21" y1="487.48" x2="1701.21" y2="489.51" stroke="#4A80C8" stroke-width="2" />
<line x1="1695.71" y1="474.77" x2="1706.71" y2="474.77" stroke="#4A80C8" stroke-width="2" />
<line x1="1695.71" y1="489.51" x2="1706.71" y2="489.51" stroke="#4A80C8" stroke-width="2" />
<circle cx="1701.21" cy="481.58" r="5.9" fill="none" stroke="#4A80C8" stroke-width="2"/>
<circle cx="1716.73" cy="482.6" r="5.9" fill="none" stroke="#4A80C8" stroke-width="2"/>
<circle cx="1732.24" cy="482.6" r="5.9" fill="none" stroke="#4A80C8" stroke-width="2"/>
<circle cx="1747.76" cy="482.6" r="5.9" fill="none" stroke="#4A80C8" stroke-width="2"/>
<circle cx="1763.28" cy="482.6" r="5.9" fill="none" stroke="#4A80C8" stroke-width="2"/>
<circle cx="1778.79" cy="482.6" r="5.9" fill="none" stroke="#4A80C8" stroke-width="2"/>
<circle cx="1794.31" cy="482.6" r="5.9" fill="none" stroke="#4A80C8" stroke-width="2"/>
<circle cx="1809.82" cy="482.6" r="5.9" fill="none" stroke="#4A80C8" stroke-width="2"/>
<circle cx="1825.34" cy="482.6" r="5.9" fill="none" stroke="#4A80C8" stroke-width="2"/>
<circle cx="1840.86" cy="482.6" r="5.9" fill="none" stroke="#4A80C8" stroke-width="2"/>
<circle cx="1856.37" cy="482.6" r="5.9" fill="none" stroke="#4A80C8" stroke-width="2"/>
<circle cx="1871.89" cy="482.6" r="5.9" fill="none" stroke="#4A80C8" stroke-width="2"/>
<circle cx="1887.4" cy="482.6" r="5.9" fill="none" stroke="#4A80C8" stroke-width="2"/>
<circle cx="1902.92" cy="482.6" r="5.9" fill="none" stroke="#4A80C8" stroke-width="2"/>
<circle cx="1918.44" cy="482.6" r="5.9" fill="none" stroke="#4A80C8" stroke-width="2"/>
<circle cx="1933.95" cy="482.6" r="5.9" fill="none" stroke="#4A80C8" stroke-width="2"/>
<circle cx="1949.47" cy="482.6" r="5.9" fill="none" stroke="#4A80C8" stroke-width="2"/>
<circle cx="1964.98" cy="482.6" r="5.9" fill="none" stroke="#4A80C8" stroke-width="2"/>
<circle cx="1980.5" cy="482.6" r="5.9" fill="none" stroke="#4A80C8" stroke-width="2"/>
<circle cx="1592.6" cy="393.14" r="5.9" fill="none" stroke="#C5303A" stroke-width="2"/>
<line x1="1603.12" y1="446.43" x2="1613.12" y2="446.43" stroke="#C5303A" stroke-width="2" />
<line x1="1608.12" y1="446.43" x2="1608.12" y2="451.93" stroke="#C5303A" stroke-width="2" />
<circle cx="1608.12" cy="446.43" r="5.9" fill="none" stroke="#C5303A" stroke-width="2"/>
<line x1="1618.63" y1="478.63" x2="1628.63" y2="478.63" stroke="#C5303A" stroke-width="2" />
<line x1="1623.63" y1="478.63" x2="1623.63" y2="484.13" stroke="#C5303A" stroke-width="2" />
<circle cx="1623.63" cy="478.63" r="5.9" fill="none" stroke="#C5303A" stroke-width="2"/>
<line x1="1634.15" y1="484.2" x2="1644.15" y2="484.2" stroke="#C5303A" stroke-width="2" />
<line x1="1639.15" y1="484.2" x2="1639.15" y2="489.7" stroke="#C5303A" stroke-width="2" />
<circle cx="1639.15" cy="484.2" r="5.9" fill="none" stroke="#C5303A" stroke-width="2"/>
<line x1="1649.66" y1="484.2" x2="1659.66" y2="484.2" stroke="#C5303A" stroke-width="2" />
<line x1="1654.66" y1="484.2" x2="1654.66" y2="489.7" stroke="#C5303A" stroke-width="2" />
<circle cx="1654.66" cy="484.2" r="5.9" fill="none" stroke="#C5303A" stroke-width="2"/>
<line x1="1665.18" y1="484.2" x2="1675.18" y2="484.2" stroke="#C5303A" stroke-width="2" />
<line x1="1670.18" y1="484.2" x2="1670.18" y2="489.7" stroke="#C5303A" stroke-width="2" />
<circle cx="1670.18" cy="484.2" r="5.9" fill="none" stroke="#C5303A" stroke-width="2"/>
<line x1="1680.7" y1="484.2" x2="1690.7" y2="484.2" stroke="#C5303A" stroke-width="2" />
<line x1="1685.7" y1="484.2" x2="1685.7" y2="489.7" stroke="#C5303A" stroke-width="2" />
<circle cx="1685.7" cy="484.2" r="5.9" fill="none" stroke="#C5303A" stroke-width="2"/>
<line x1="1696.21" y1="484.2" x2="1706.21" y2="484.2" stroke="#C5303A" stroke-width="2" />
<line x1="1701.21" y1="484.2" x2="1701.21" y2="489.7" stroke="#C5303A" stroke-width="2" />
<circle cx="1701.21" cy="484.2" r="5.9" fill="none" stroke="#C5303A" stroke-width="2"/>
<line x1="1711.73" y1="484.2" x2="1721.73" y2="484.2" stroke="#C5303A" stroke-width="2" />
<line x1="1716.73" y1="484.2" x2="1716.73" y2="489.7" stroke="#C5303A" stroke-width="2" />
<circle cx="1716.73" cy="484.2" r="5.9" fill="none" stroke="#C5303A" stroke-width="2"/>
<line x1="1727.24" y1="484.2" x2="1737.24" y2="484.2" stroke="#C5303A" stroke-width="2" />
<line x1="1732.24" y1="484.2" x2="1732.24" y2="489.7" stroke="#C5303A" stroke-width="2" />
<circle cx="1732.24" cy="484.2" r="5.9" fill="none" stroke="#C5303A" stroke-width="2"/>
<line x1="1742.76" y1="484.2" x2="1752.76" y2="484.2" stroke="#C5303A" stroke-width="2" />
<line x1="1747.76" y1="484.2" x2="1747.76" y2="489.7" stroke="#C5303A" stroke-width="2" />
<circle cx="1747.76" cy="484.2" r="5.9" fill="none" stroke="#C5303A" stroke-width="2"/>
<line x1="1758.28" y1="484.2" x2="1768.28" y2="484.2" stroke="#C5303A" stroke-width="2" />
<line x1="1763.28" y1="484.2" x2="1763.28" y2="489.7" stroke="#C5303A" stroke-width="2" />
<circle cx="1763.28" cy="484.2" r="5.9" fill="none" stroke="#C5303A" stroke-width="2"/>
<line x1="1773.79" y1="484.2" x2="1783.79" y2="484.2" stroke="#C5303A" stroke-width="2" />
<line x1="1778.79" y1="484.2" x2="1778.79" y2="489.7" stroke="#C5303A" stroke-width="2" />
<circle cx="1778.79" cy="484.2" r="5.9" fill="none" stroke="#C5303A" stroke-width="2"/>
<line x1="1789.31" y1="484.2" x2="1799.31" y2="484.2" stroke="#C5303A" stroke-width="2" />
<line x1="1794.31" y1="484.2" x2="1794.31" y2="489.7" stroke="#C5303A" stroke-width="2" />
<circle cx="1794.31" cy="484.2" r="5.9" fill="none" stroke="#C5303A" stroke-width="2"/>
<line x1="1804.82" y1="484.2" x2="1814.82" y2="484.2" stroke="#C5303A" stroke-width="2" />
<line x1="1809.82" y1="484.2" x2="1809.82" y2="489.7" stroke="#C5303A" stroke-width="2" />
<circle cx="1809.82" cy="484.2" r="5.9" fill="none" stroke="#C5303A" stroke-width="2"/>
<line x1="1820.34" y1="484.2" x2="1830.34" y2="484.2" stroke="#C5303A" stroke-width="2" />
<line x1="1825.34" y1="484.2" x2="1825.34" y2="489.7" stroke="#C5303A" stroke-width="2" />
<circle cx="1825.34" cy="484.2" r="5.9" fill="none" stroke="#C5303A" stroke-width="2"/>
<line x1="1835.86" y1="484.2" x2="1845.86" y2="484.2" stroke="#C5303A" stroke-width="2" />
<line x1="1840.86" y1="484.2" x2="1840.86" y2="489.7" stroke="#C5303A" stroke-width="2" />
<circle cx="1840.86" cy="484.2" r="5.9" fill="none" stroke="#C5303A" stroke-width="2"/>
<line x1="1851.37" y1="484.2" x2="1861.37" y2="484.2" stroke="#C5303A" stroke-width="2" />
<line x1="1856.37" y1="484.2" x2="1856.37" y2="489.7" stroke="#C5303A" stroke-width="2" />
<circle cx="1856.37" cy="484.2" r="5.9" fill="none" stroke="#C5303A" stroke-width="2"/>
<line x1="1866.89" y1="484.2" x2="1876.89" y2="484.2" stroke="#C5303A" stroke-width="2" />
<line x1="1871.89" y1="484.2" x2="1871.89" y2="489.7" stroke="#C5303A" stroke-width="2" />
<circle cx="1871.89" cy="484.2" r="5.9" fill="none" stroke="#C5303A" stroke-width="2"/>
<line x1="1882.4" y1="484.2" x2="1892.4" y2="484.2" stroke="#C5303A" stroke-width="2" />
<line x1="1887.4" y1="484.2" x2="1887.4" y2="489.7" stroke="#C5303A" stroke-width="2" />
<circle cx="1887.4" cy="484.2" r="5.9" fill="none" stroke="#C5303A" stroke-width="2"/>
<line x1="1897.92" y1="484.2" x2="1907.92" y2="484.2" stroke="#C5303A" stroke-width="2" />
<line x1="1902.92" y1="484.2" x2="1902.92" y2="489.7" stroke="#C5303A" stroke-width="2" />
<circle cx="1902.92" cy="484.2" r="5.9" fill="none" stroke="#C5303A" stroke-width="2"/>
<line x1="1913.44" y1="484.2" x2="1923.44" y2="484.2" stroke="#C5303A" stroke-width="2" />
<line x1="1918.44" y1="484.2" x2="1918.44" y2="489.7" stroke="#C5303A" stroke-width="2" />
<circle cx="1918.44" cy="484.2" r="5.9" fill="none" stroke="#C5303A" stroke-width="2"/>
<line x1="1928.95" y1="484.2" x2="1938.95" y2="484.2" stroke="#C5303A" stroke-width="2" />
<line x1="1933.95" y1="484.2" x2="1933.95" y2="489.7" stroke="#C5303A" stroke-width="2" />
<circle cx="1933.95" cy="484.2" r="5.9" fill="none" stroke="#C5303A" stroke-width="2"/>
<line x1="1944.47" y1="484.2" x2="1954.47" y2="484.2" stroke="#C5303A" stroke-width="2" />
<line x1="1949.47" y1="484.2" x2="1949.47" y2="489.7" stroke="#C5303A" stroke-width="2" />
<circle cx="1949.47" cy="484.2" r="5.9" fill="none" stroke="#C5303A" stroke-width="2"/>
<line x1="1959.98" y1="484.2" x2="1969.98" y2="484.2" stroke="#C5303A" stroke-width="2" />
<line x1="1964.98" y1="484.2" x2="1964.98" y2="489.7" stroke="#C5303A" stroke-width="2" />
<circle cx="1964.98" cy="484.2" r="5.9" fill="none" stroke="#C5303A" stroke-width="2"/>
<line x1="1975.5" y1="484.2" x2="1985.5" y2="484.2" stroke="#C5303A" stroke-width="2" />
<line x1="1980.5" y1="484.2" x2="1980.5" y2="489.7" stroke="#C5303A" stroke-width="2" />
<circle cx="1980.5" cy="484.2" r="5.9" fill="none" stroke="#C5303A" stroke-width="2"/>
<circle cx="1592.6" cy="567.47" r="5.9" fill="none" stroke="#4A80C8" stroke-width="2"/>
<line x1="1608.12" y1="596.04" x2="1608.12" y2="594" stroke="#4A80C8" stroke-width="2" />
<line x1="1608.12" y1="607.84" x2="1608.12" y2="609.42" stroke="#4A80C8" stroke-width="2" />
<line x1="1602.62" y1="594" x2="1613.62" y2="594" stroke="#4A80C8" stroke-width="2" />
<line x1="1602.62" y1="609.42" x2="1613.62" y2="609.42" stroke="#4A80C8" stroke-width="2" />
<circle cx="1608.12" cy="601.94" r="5.9" fill="none" stroke="#4A80C8" stroke-width="2"/>
<line x1="1623.63" y1="613.27" x2="1623.63" y2="608.29" stroke="#4A80C8" stroke-width="2" />
<line x1="1623.63" y1="625.07" x2="1623.63" y2="625.29" stroke="#4A80C8" stroke-width="2" />
<line x1="1618.13" y1="608.29" x2="1629.13" y2="608.29" stroke="#4A80C8" stroke-width="2" />
<line x1="1618.13" y1="625.29" x2="1629.13" y2="625.29" stroke="#4A80C8" stroke-width="2" />
<circle cx="1623.63" cy="619.17" r="5.9" fill="none" stroke="#4A80C8" stroke-width="2"/>
<line x1="1639.15" y1="619.85" x2="1639.15" y2="616.68" stroke="#4A80C8" stroke-width="2" />
<line x1="1639.15" y1="631.65" x2="1639.15" y2="634.37" stroke="#4A80C8" stroke-width="2" />
<line x1="1633.65" y1="616.68" x2="1644.65" y2="616.68" stroke="#4A80C8" stroke-width="2" />
<line x1="1633.65" y1="634.37" x2="1644.65" y2="634.37" stroke="#4A80C8" stroke-width="2" />
<circle cx="1639.15" cy="625.75" r="5.9" fill="none" stroke="#4A80C8" stroke-width="2"/>
<line x1="1654.66" y1="623.48" x2="1654.66" y2="620.08" stroke="#4A80C8" stroke-width="2" />
<line x1="1654.66" y1="635.28" x2="1654.66" y2="636.63" stroke="#4A80C8" stroke-width="2" />
<line x1="1649.16" y1="620.08" x2="1660.16" y2="620.08" stroke="#4A80C8" stroke-width="2" />
<line x1="1649.16" y1="636.63" x2="1660.16" y2="636.63" stroke="#4A80C8" stroke-width="2" />
<circle cx="1654.66" cy="629.38" r="5.9" fill="none" stroke="#4A80C8" stroke-width="2"/>
<line x1="1670.18" y1="629.6" x2="1670.18" y2="628.7" stroke="#4A80C8" stroke-width="2" />
<line x1="1670.18" y1="641.4" x2="1670.18" y2="642.3" stroke="#4A80C8" stroke-width="2" />
<line x1="1664.68" y1="628.7" x2="1675.68" y2="628.7" stroke="#4A80C8" stroke-width="2" />
<line x1="1664.68" y1="642.3" x2="1675.68" y2="642.3" stroke="#4A80C8" stroke-width="2" />
<circle cx="1670.18" cy="635.5" r="5.9" fill="none" stroke="#4A80C8" stroke-width="2"/>
<line x1="1685.7" y1="625.74" x2="1685.7" y2="622.12" stroke="#4A80C8" stroke-width="2" />
<line x1="1685.7" y1="637.54" x2="1685.7" y2="640.03" stroke="#4A80C8" stroke-width="2" />
<line x1="1680.2" y1="622.12" x2="1691.2" y2="622.12" stroke="#4A80C8" stroke-width="2" />
<line x1="1680.2" y1="640.03" x2="1691.2" y2="640.03" stroke="#4A80C8" stroke-width="2" />
<circle cx="1685.7" cy="631.64" r="5.9" fill="none" stroke="#4A80C8" stroke-width="2"/>
<line x1="1701.21" y1="632.32" x2="1701.21" y2="629.38" stroke="#4A80C8" stroke-width="2" />
<line x1="1701.21" y1="644.12" x2="1701.21" y2="645.7" stroke="#4A80C8" stroke-width="2" />
<line x1="1695.71" y1="629.38" x2="1706.71" y2="629.38" stroke="#4A80C8" stroke-width="2" />
<line x1="1695.71" y1="645.7" x2="1706.71" y2="645.7" stroke="#4A80C8" stroke-width="2" />
<circle cx="1701.21" cy="638.22" r="5.9" fill="none" stroke="#4A80C8" stroke-width="2"/>
<line x1="1716.73" y1="639.12" x2="1716.73" y2="635.5" stroke="#4A80C8" stroke-width="2" />
<line x1="1716.73" y1="650.92" x2="1716.73" y2="652.51" stroke="#4A80C8" stroke-width="2" />
<line x1="1711.23" y1="635.5" x2="1722.23" y2="635.5" stroke="#4A80C8" stroke-width="2" />
<line x1="1711.23" y1="652.51" x2="1722.23" y2="652.51" stroke="#4A80C8" stroke-width="2" />
<circle cx="1716.73" cy="645.02" r="5.9" fill="none" stroke="#4A80C8" stroke-width="2"/>
<line x1="1732.24" y1="642.52" x2="1732.24" y2="640.26" stroke="#4A80C8" stroke-width="2" />
<line x1="1732.24" y1="654.32" x2="1732.24" y2="655.91" stroke="#4A80C8" stroke-width="2" />
<line x1="1726.74" y1="640.26" x2="1737.74" y2="640.26" stroke="#4A80C8" stroke-width="2" />
<line x1="1726.74" y1="655.91" x2="1737.74" y2="655.91" stroke="#4A80C8" stroke-width="2" />
<circle cx="1732.24" cy="648.42" r="5.9" fill="none" stroke="#4A80C8" stroke-width="2"/>
<line x1="1747.76" y1="642.52" x2="1747.76" y2="640.26" stroke="#4A80C8" stroke-width="2" />
<line x1="1747.76" y1="654.32" x2="1747.76" y2="655.91" stroke="#4A80C8" stroke-width="2" />
<line x1="1742.26" y1="640.26" x2="1753.26" y2="640.26" stroke="#4A80C8" stroke-width="2" />
<line x1="1742.26" y1="655.91" x2="1753.26" y2="655.91" stroke="#4A80C8" stroke-width="2" />
<circle cx="1747.76" cy="648.42" r="5.9" fill="none" stroke="#4A80C8" stroke-width="2"/>
<line x1="1763.28" y1="642.52" x2="1763.28" y2="641.17" stroke="#4A80C8" stroke-width="2" />
<line x1="1763.28" y1="654.32" x2="1763.28" y2="655.91" stroke="#4A80C8" stroke-width="2" />
<line x1="1757.78" y1="641.17" x2="1768.78" y2="641.17" stroke="#4A80C8" stroke-width="2" />
<line x1="1757.78" y1="655.91" x2="1768.78" y2="655.91" stroke="#4A80C8" stroke-width="2" />
<circle cx="1763.28" cy="648.42" r="5.9" fill="none" stroke="#4A80C8" stroke-width="2"/>
<line x1="1778.79" y1="650.46" x2="1778.79" y2="648.65" stroke="#4A80C8" stroke-width="2" />
<line x1="1778.79" y1="662.26" x2="1778.79" y2="663.84" stroke="#4A80C8" stroke-width="2" />
<line x1="1773.29" y1="648.65" x2="1784.29" y2="648.65" stroke="#4A80C8" stroke-width="2" />
<line x1="1773.29" y1="663.84" x2="1784.29" y2="663.84" stroke="#4A80C8" stroke-width="2" />
<circle cx="1778.79" cy="656.36" r="5.9" fill="none" stroke="#4A80C8" stroke-width="2"/>
<line x1="1794.31" y1="656.15" x2="1794.31" y2="654.8" stroke="#4A80C8" stroke-width="2" />
<line x1="1794.31" y1="667.95" x2="1794.31" y2="668.4" stroke="#4A80C8" stroke-width="2" />
<line x1="1788.81" y1="654.8" x2="1799.81" y2="654.8" stroke="#4A80C8" stroke-width="2" />
<line x1="1788.81" y1="668.4" x2="1799.81" y2="668.4" stroke="#4A80C8" stroke-width="2" />
<circle cx="1794.31" cy="662.05" r="5.9" fill="none" stroke="#4A80C8" stroke-width="2"/>
<line x1="1809.82" y1="660.24" x2="1809.82" y2="658.88" stroke="#4A80C8" stroke-width="2" />
<line x1="1809.82" y1="672.04" x2="1809.82" y2="672.94" stroke="#4A80C8" stroke-width="2" />
<line x1="1804.32" y1="658.88" x2="1815.32" y2="658.88" stroke="#4A80C8" stroke-width="2" />
<line x1="1804.32" y1="672.94" x2="1815.32" y2="672.94" stroke="#4A80C8" stroke-width="2" />
<circle cx="1809.82" cy="666.14" r="5.9" fill="none" stroke="#4A80C8" stroke-width="2"/>
<line x1="1825.34" y1="662.5" x2="1825.34" y2="660.47" stroke="#4A80C8" stroke-width="2" />
<line x1="1825.34" y1="674.3" x2="1825.34" y2="675.66" stroke="#4A80C8" stroke-width="2" />
<line x1="1819.84" y1="660.47" x2="1830.84" y2="660.47" stroke="#4A80C8" stroke-width="2" />
<line x1="1819.84" y1="675.66" x2="1830.84" y2="675.66" stroke="#4A80C8" stroke-width="2" />
<circle cx="1825.34" cy="668.4" r="5.9" fill="none" stroke="#4A80C8" stroke-width="2"/>
<line x1="1840.86" y1="663.64" x2="1840.86" y2="660.47" stroke="#4A80C8" stroke-width="2" />
<line x1="1840.86" y1="675.44" x2="1840.86" y2="676.34" stroke="#4A80C8" stroke-width="2" />
<line x1="1835.36" y1="660.47" x2="1846.36" y2="660.47" stroke="#4A80C8" stroke-width="2" />
<line x1="1835.36" y1="676.34" x2="1846.36" y2="676.34" stroke="#4A80C8" stroke-width="2" />
<circle cx="1840.86" cy="669.54" r="5.9" fill="none" stroke="#4A80C8" stroke-width="2"/>
<line x1="1856.37" y1="662.5" x2="1856.37" y2="654.8" stroke="#4A80C8" stroke-width="2" />
<line x1="1856.37" y1="674.3" x2="1856.37" y2="678.61" stroke="#4A80C8" stroke-width="2" />
<line x1="1850.87" y1="654.8" x2="1861.87" y2="654.8" stroke="#4A80C8" stroke-width="2" />
<line x1="1850.87" y1="678.61" x2="1861.87" y2="678.61" stroke="#4A80C8" stroke-width="2" />
<circle cx="1856.37" cy="668.4" r="5.9" fill="none" stroke="#4A80C8" stroke-width="2"/>
<line x1="1871.89" y1="662.5" x2="1871.89" y2="657.52" stroke="#4A80C8" stroke-width="2" />
<line x1="1871.89" y1="674.3" x2="1871.89" y2="676.34" stroke="#4A80C8" stroke-width="2" />
<line x1="1866.39" y1="657.52" x2="1877.39" y2="657.52" stroke="#4A80C8" stroke-width="2" />
<line x1="1866.39" y1="676.34" x2="1877.39" y2="676.34" stroke="#4A80C8" stroke-width="2" />
<circle cx="1871.89" cy="668.4" r="5.9" fill="none" stroke="#4A80C8" stroke-width="2"/>
<line x1="1887.4" y1="664.77" x2="1887.4" y2="663.41" stroke="#4A80C8" stroke-width="2" />
<line x1="1887.4" y1="676.57" x2="1887.4" y2="676.34" stroke="#4A80C8" stroke-width="2" />
<line x1="1881.9" y1="663.41" x2="1892.9" y2="663.41" stroke="#4A80C8" stroke-width="2" />
<line x1="1881.9" y1="676.34" x2="1892.9" y2="676.34" stroke="#4A80C8" stroke-width="2" />
<circle cx="1887.4" cy="670.67" r="5.9" fill="none" stroke="#4A80C8" stroke-width="2"/>
<line x1="1902.92" y1="664.77" x2="1902.92" y2="663.41" stroke="#4A80C8" stroke-width="2" />
<line x1="1902.92" y1="676.57" x2="1902.92" y2="676.34" stroke="#4A80C8" stroke-width="2" />
<line x1="1897.42" y1="663.41" x2="1908.42" y2="663.41" stroke="#4A80C8" stroke-width="2" />
<line x1="1897.42" y1="676.34" x2="1908.42" y2="676.34" stroke="#4A80C8" stroke-width="2" />
<circle cx="1902.92" cy="670.67" r="5.9" fill="none" stroke="#4A80C8" stroke-width="2"/>
<line x1="1918.44" y1="664.77" x2="1918.44" y2="662.05" stroke="#4A80C8" stroke-width="2" />
<line x1="1918.44" y1="676.57" x2="1918.44" y2="677.48" stroke="#4A80C8" stroke-width="2" />
<line x1="1912.94" y1="662.05" x2="1923.94" y2="662.05" stroke="#4A80C8" stroke-width="2" />
<line x1="1912.94" y1="677.48" x2="1923.94" y2="677.48" stroke="#4A80C8" stroke-width="2" />
<circle cx="1918.44" cy="670.67" r="5.9" fill="none" stroke="#4A80C8" stroke-width="2"/>
<line x1="1933.95" y1="665.91" x2="1933.95" y2="663.41" stroke="#4A80C8" stroke-width="2" />
<line x1="1933.95" y1="677.71" x2="1933.95" y2="679.74" stroke="#4A80C8" stroke-width="2" />
<line x1="1928.45" y1="663.41" x2="1939.45" y2="663.41" stroke="#4A80C8" stroke-width="2" />
<line x1="1928.45" y1="679.74" x2="1939.45" y2="679.74" stroke="#4A80C8" stroke-width="2" />
<circle cx="1933.95" cy="671.81" r="5.9" fill="none" stroke="#4A80C8" stroke-width="2"/>
<line x1="1949.47" y1="665.23" x2="1949.47" y2="662.28" stroke="#4A80C8" stroke-width="2" />
<line x1="1949.47" y1="677.03" x2="1949.47" y2="679.29" stroke="#4A80C8" stroke-width="2" />
<line x1="1943.97" y1="662.28" x2="1954.97" y2="662.28" stroke="#4A80C8" stroke-width="2" />
<line x1="1943.97" y1="679.29" x2="1954.97" y2="679.29" stroke="#4A80C8" stroke-width="2" />
<circle cx="1949.47" cy="671.13" r="5.9" fill="none" stroke="#4A80C8" stroke-width="2"/>
<line x1="1964.98" y1="665.23" x2="1964.98" y2="662.73" stroke="#4A80C8" stroke-width="2" />
<line x1="1964.98" y1="677.03" x2="1964.98" y2="679.29" stroke="#4A80C8" stroke-width="2" />
<line x1="1959.48" y1="662.73" x2="1970.48" y2="662.73" stroke="#4A80C8" stroke-width="2" />
<line x1="1959.48" y1="679.29" x2="1970.48" y2="679.29" stroke="#4A80C8" stroke-width="2" />
<circle cx="1964.98" cy="671.13" r="5.9" fill="none" stroke="#4A80C8" stroke-width="2"/>
<line x1="1980.5" y1="665.91" x2="1980.5" y2="657.06" stroke="#4A80C8" stroke-width="2" />
<line x1="1980.5" y1="677.71" x2="1980.5" y2="686.55" stroke="#4A80C8" stroke-width="2" />
<line x1="1975" y1="657.06" x2="1986" y2="657.06" stroke="#4A80C8" stroke-width="2" />
<line x1="1975" y1="686.55" x2="1986" y2="686.55" stroke="#4A80C8" stroke-width="2" />
<circle cx="1980.5" cy="671.81" r="5.9" fill="none" stroke="#4A80C8" stroke-width="2"/>
<circle cx="1592.6" cy="567.47" r="5.9" fill="none" stroke="#C5303A" stroke-width="2"/>
<line x1="1608.12" y1="614.86" x2="1608.12" y2="617.26" stroke="#C5303A" stroke-width="2" />
<line x1="1608.12" y1="626.66" x2="1608.12" y2="624.26" stroke="#C5303A" stroke-width="2" />
<line x1="1602.62" y1="617.26" x2="1613.62" y2="617.26" stroke="#C5303A" stroke-width="2" />
<line x1="1602.62" y1="624.26" x2="1613.62" y2="624.26" stroke="#C5303A" stroke-width="2" />
<circle cx="1608.12" cy="620.76" r="5.9" fill="none" stroke="#C5303A" stroke-width="2"/>
<line x1="1623.63" y1="629.6" x2="1623.63" y2="623.03" stroke="#C5303A" stroke-width="2" />
<line x1="1623.63" y1="641.4" x2="1623.63" y2="647.97" stroke="#C5303A" stroke-width="2" />
<line x1="1618.13" y1="623.03" x2="1629.13" y2="623.03" stroke="#C5303A" stroke-width="2" />
<line x1="1618.13" y1="647.97" x2="1629.13" y2="647.97" stroke="#C5303A" stroke-width="2" />
<circle cx="1623.63" cy="635.5" r="5.9" fill="none" stroke="#C5303A" stroke-width="2"/>
<line x1="1639.15" y1="634.59" x2="1639.15" y2="629.83" stroke="#C5303A" stroke-width="2" />
<line x1="1639.15" y1="646.39" x2="1639.15" y2="649.1" stroke="#C5303A" stroke-width="2" />
<line x1="1633.65" y1="629.83" x2="1644.65" y2="629.83" stroke="#C5303A" stroke-width="2" />
<line x1="1633.65" y1="649.1" x2="1644.65" y2="649.1" stroke="#C5303A" stroke-width="2" />
<circle cx="1639.15" cy="640.49" r="5.9" fill="none" stroke="#C5303A" stroke-width="2"/>
<line x1="1654.66" y1="636.4" x2="1654.66" y2="636.63" stroke="#C5303A" stroke-width="2" />
<line x1="1654.66" y1="648.2" x2="1654.66" y2="646.84" stroke="#C5303A" stroke-width="2" />
<line x1="1649.16" y1="636.63" x2="1660.16" y2="636.63" stroke="#C5303A" stroke-width="2" />
<line x1="1649.16" y1="646.84" x2="1660.16" y2="646.84" stroke="#C5303A" stroke-width="2" />
<circle cx="1654.66" cy="642.3" r="5.9" fill="none" stroke="#C5303A" stroke-width="2"/>
<line x1="1670.18" y1="637.54" x2="1670.18" y2="630.96" stroke="#C5303A" stroke-width="2" />
<line x1="1670.18" y1="649.34" x2="1670.18" y2="655.91" stroke="#C5303A" stroke-width="2" />
<line x1="1664.68" y1="630.96" x2="1675.68" y2="630.96" stroke="#C5303A" stroke-width="2" />
<line x1="1664.68" y1="655.91" x2="1675.68" y2="655.91" stroke="#C5303A" stroke-width="2" />
<circle cx="1670.18" cy="643.44" r="5.9" fill="none" stroke="#C5303A" stroke-width="2"/>
<line x1="1685.7" y1="637.99" x2="1685.7" y2="632.1" stroke="#C5303A" stroke-width="2" />
<line x1="1685.7" y1="649.79" x2="1685.7" y2="654.77" stroke="#C5303A" stroke-width="2" />
<line x1="1680.2" y1="632.1" x2="1691.2" y2="632.1" stroke="#C5303A" stroke-width="2" />
<line x1="1680.2" y1="654.77" x2="1691.2" y2="654.77" stroke="#C5303A" stroke-width="2" />
<circle cx="1685.7" cy="643.89" r="5.9" fill="none" stroke="#C5303A" stroke-width="2"/>
<line x1="1701.21" y1="647.74" x2="1701.21" y2="641.17" stroke="#C5303A" stroke-width="2" />
<line x1="1701.21" y1="659.54" x2="1701.21" y2="666.11" stroke="#C5303A" stroke-width="2" />
<line x1="1695.71" y1="641.17" x2="1706.71" y2="641.17" stroke="#C5303A" stroke-width="2" />
<line x1="1695.71" y1="666.11" x2="1706.71" y2="666.11" stroke="#C5303A" stroke-width="2" />
<circle cx="1701.21" cy="653.64" r="5.9" fill="none" stroke="#C5303A" stroke-width="2"/>
<line x1="1716.73" y1="655.68" x2="1716.73" y2="646.84" stroke="#C5303A" stroke-width="2" />
<line x1="1716.73" y1="667.48" x2="1716.73" y2="675.18" stroke="#C5303A" stroke-width="2" />
<line x1="1711.23" y1="646.84" x2="1722.23" y2="646.84" stroke="#C5303A" stroke-width="2" />
<line x1="1711.23" y1="675.18" x2="1722.23" y2="675.18" stroke="#C5303A" stroke-width="2" />
<circle cx="1716.73" cy="661.58" r="5.9" fill="none" stroke="#C5303A" stroke-width="2"/>
<line x1="1732.24" y1="656.13" x2="1732.24" y2="655.91" stroke="#C5303A" stroke-width="2" />
<line x1="1732.24" y1="667.93" x2="1732.24" y2="668.38" stroke="#C5303A" stroke-width="2" />
<line x1="1726.74" y1="655.91" x2="1737.74" y2="655.91" stroke="#C5303A" stroke-width="2" />
<line x1="1726.74" y1="668.38" x2="1737.74" y2="668.38" stroke="#C5303A" stroke-width="2" />
<circle cx="1732.24" cy="662.03" r="5.9" fill="none" stroke="#C5303A" stroke-width="2"/>
<line x1="1747.76" y1="656.13" x2="1747.76" y2="655.91" stroke="#C5303A" stroke-width="2" />
<line x1="1747.76" y1="667.93" x2="1747.76" y2="668.38" stroke="#C5303A" stroke-width="2" />
<line x1="1742.26" y1="655.91" x2="1753.26" y2="655.91" stroke="#C5303A" stroke-width="2" />
<line x1="1742.26" y1="668.38" x2="1753.26" y2="668.38" stroke="#C5303A" stroke-width="2" />
<circle cx="1747.76" cy="662.03" r="5.9" fill="none" stroke="#C5303A" stroke-width="2"/>
<line x1="1763.28" y1="656.36" x2="1763.28" y2="657.04" stroke="#C5303A" stroke-width="2" />
<line x1="1763.28" y1="668.16" x2="1763.28" y2="667.7" stroke="#C5303A" stroke-width="2" />
<line x1="1757.78" y1="657.04" x2="1768.78" y2="657.04" stroke="#C5303A" stroke-width="2" />
<line x1="1757.78" y1="667.7" x2="1768.78" y2="667.7" stroke="#C5303A" stroke-width="2" />
<circle cx="1763.28" cy="662.26" r="5.9" fill="none" stroke="#C5303A" stroke-width="2"/>
<line x1="1778.79" y1="663.61" x2="1778.79" y2="663.84" stroke="#C5303A" stroke-width="2" />
<line x1="1778.79" y1="675.41" x2="1778.79" y2="676.32" stroke="#C5303A" stroke-width="2" />
<line x1="1773.29" y1="663.84" x2="1784.29" y2="663.84" stroke="#C5303A" stroke-width="2" />
<line x1="1773.29" y1="676.32" x2="1784.29" y2="676.32" stroke="#C5303A" stroke-width="2" />
<circle cx="1778.79" cy="669.51" r="5.9" fill="none" stroke="#C5303A" stroke-width="2"/>
<line x1="1794.31" y1="669.76" x2="1794.31" y2="669.54" stroke="#C5303A" stroke-width="2" />
<line x1="1794.31" y1="681.56" x2="1794.31" y2="682.01" stroke="#C5303A" stroke-width="2" />
<line x1="1788.81" y1="669.54" x2="1799.81" y2="669.54" stroke="#C5303A" stroke-width="2" />
<line x1="1788.81" y1="682.01" x2="1799.81" y2="682.01" stroke="#C5303A" stroke-width="2" />
<circle cx="1794.31" cy="675.66" r="5.9" fill="none" stroke="#C5303A" stroke-width="2"/>
<line x1="1809.82" y1="674.53" x2="1809.82" y2="672.94" stroke="#C5303A" stroke-width="2" />
<line x1="1809.82" y1="686.33" x2="1809.82" y2="687.68" stroke="#C5303A" stroke-width="2" />
<line x1="1804.32" y1="672.94" x2="1815.32" y2="672.94" stroke="#C5303A" stroke-width="2" />
<line x1="1804.32" y1="687.68" x2="1815.32" y2="687.68" stroke="#C5303A" stroke-width="2" />
<circle cx="1809.82" cy="680.43" r="5.9" fill="none" stroke="#C5303A" stroke-width="2"/>
<line x1="1825.34" y1="678.38" x2="1825.34" y2="678.61" stroke="#C5303A" stroke-width="2" />
<line x1="1825.34" y1="690.18" x2="1825.34" y2="689.95" stroke="#C5303A" stroke-width="2" />
<line x1="1819.84" y1="678.61" x2="1830.84" y2="678.61" stroke="#C5303A" stroke-width="2" />
<line x1="1819.84" y1="689.95" x2="1830.84" y2="689.95" stroke="#C5303A" stroke-width="2" />
<circle cx="1825.34" cy="684.28" r="5.9" fill="none" stroke="#C5303A" stroke-width="2"/>
<line x1="1840.86" y1="678.38" x2="1840.86" y2="678.61" stroke="#C5303A" stroke-width="2" />
<line x1="1840.86" y1="690.18" x2="1840.86" y2="690.63" stroke="#C5303A" stroke-width="2" />
<line x1="1835.36" y1="678.61" x2="1846.36" y2="678.61" stroke="#C5303A" stroke-width="2" />
<line x1="1835.36" y1="690.63" x2="1846.36" y2="690.63" stroke="#C5303A" stroke-width="2" />
<circle cx="1840.86" cy="684.28" r="5.9" fill="none" stroke="#C5303A" stroke-width="2"/>
<line x1="1856.37" y1="678.38" x2="1856.37" y2="677.48" stroke="#C5303A" stroke-width="2" />
<line x1="1856.37" y1="690.18" x2="1856.37" y2="691.09" stroke="#C5303A" stroke-width="2" />
<line x1="1850.87" y1="677.48" x2="1861.87" y2="677.48" stroke="#C5303A" stroke-width="2" />
<line x1="1850.87" y1="691.09" x2="1861.87" y2="691.09" stroke="#C5303A" stroke-width="2" />
<circle cx="1856.37" cy="684.28" r="5.9" fill="none" stroke="#C5303A" stroke-width="2"/>
<line x1="1871.89" y1="678.38" x2="1871.89" y2="677.48" stroke="#C5303A" stroke-width="2" />
<line x1="1871.89" y1="690.18" x2="1871.89" y2="691.09" stroke="#C5303A" stroke-width="2" />
<line x1="1866.39" y1="677.48" x2="1877.39" y2="677.48" stroke="#C5303A" stroke-width="2" />
<line x1="1866.39" y1="691.09" x2="1877.39" y2="691.09" stroke="#C5303A" stroke-width="2" />
<circle cx="1871.89" cy="684.28" r="5.9" fill="none" stroke="#C5303A" stroke-width="2"/>
<line x1="1887.4" y1="678.38" x2="1887.4" y2="677.48" stroke="#C5303A" stroke-width="2" />
<line x1="1887.4" y1="690.18" x2="1887.4" y2="691.09" stroke="#C5303A" stroke-width="2" />
<line x1="1881.9" y1="677.48" x2="1892.9" y2="677.48" stroke="#C5303A" stroke-width="2" />
<line x1="1881.9" y1="691.09" x2="1892.9" y2="691.09" stroke="#C5303A" stroke-width="2" />
<circle cx="1887.4" cy="684.28" r="5.9" fill="none" stroke="#C5303A" stroke-width="2"/>
<line x1="1902.92" y1="678.38" x2="1902.92" y2="677.48" stroke="#C5303A" stroke-width="2" />
<line x1="1902.92" y1="690.18" x2="1902.92" y2="691.09" stroke="#C5303A" stroke-width="2" />
<line x1="1897.42" y1="677.48" x2="1908.42" y2="677.48" stroke="#C5303A" stroke-width="2" />
<line x1="1897.42" y1="691.09" x2="1908.42" y2="691.09" stroke="#C5303A" stroke-width="2" />
<circle cx="1902.92" cy="684.28" r="5.9" fill="none" stroke="#C5303A" stroke-width="2"/>
<line x1="1918.44" y1="681.33" x2="1918.44" y2="680.88" stroke="#C5303A" stroke-width="2" />
<line x1="1918.44" y1="693.13" x2="1918.44" y2="693.35" stroke="#C5303A" stroke-width="2" />
<line x1="1912.94" y1="680.88" x2="1923.94" y2="680.88" stroke="#C5303A" stroke-width="2" />
<line x1="1912.94" y1="693.35" x2="1923.94" y2="693.35" stroke="#C5303A" stroke-width="2" />
<circle cx="1918.44" cy="687.23" r="5.9" fill="none" stroke="#C5303A" stroke-width="2"/>
<line x1="1933.95" y1="682.92" x2="1933.95" y2="682.01" stroke="#C5303A" stroke-width="2" />
<line x1="1933.95" y1="694.72" x2="1933.95" y2="695.17" stroke="#C5303A" stroke-width="2" />
<line x1="1928.45" y1="682.01" x2="1939.45" y2="682.01" stroke="#C5303A" stroke-width="2" />
<line x1="1928.45" y1="695.17" x2="1939.45" y2="695.17" stroke="#C5303A" stroke-width="2" />
<circle cx="1933.95" cy="688.82" r="5.9" fill="none" stroke="#C5303A" stroke-width="2"/>
<line x1="1949.47" y1="686.77" x2="1949.47" y2="686.1" stroke="#C5303A" stroke-width="2" />
<line x1="1949.47" y1="698.57" x2="1949.47" y2="700.16" stroke="#C5303A" stroke-width="2" />
<line x1="1943.97" y1="686.1" x2="1954.97" y2="686.1" stroke="#C5303A" stroke-width="2" />
<line x1="1943.97" y1="700.16" x2="1954.97" y2="700.16" stroke="#C5303A" stroke-width="2" />
<circle cx="1949.47" cy="692.67" r="5.9" fill="none" stroke="#C5303A" stroke-width="2"/>
<line x1="1964.98" y1="690.86" x2="1964.98" y2="691.09" stroke="#C5303A" stroke-width="2" />
<line x1="1964.98" y1="702.66" x2="1964.98" y2="702.43" stroke="#C5303A" stroke-width="2" />
<line x1="1959.48" y1="691.09" x2="1970.48" y2="691.09" stroke="#C5303A" stroke-width="2" />
<line x1="1959.48" y1="702.43" x2="1970.48" y2="702.43" stroke="#C5303A" stroke-width="2" />
<circle cx="1964.98" cy="696.76" r="5.9" fill="none" stroke="#C5303A" stroke-width="2"/>
<line x1="1980.5" y1="694.26" x2="1980.5" y2="693.35" stroke="#C5303A" stroke-width="2" />
<line x1="1980.5" y1="706.06" x2="1980.5" y2="706.96" stroke="#C5303A" stroke-width="2" />
<line x1="1975" y1="693.35" x2="1986" y2="693.35" stroke="#C5303A" stroke-width="2" />
<line x1="1975" y1="706.96" x2="1986" y2="706.96" stroke="#C5303A" stroke-width="2" />
<circle cx="1980.5" cy="700.16" r="5.9" fill="none" stroke="#C5303A" stroke-width="2"/>
<text x="1912.5" y="83.9" font-size="18" text-anchor="start" fill="#4A80C8" stroke="#4A80C8" stroke-width="0.4" >89.9%</text>
<text x="1870" y="184.9" font-size="18" text-anchor="start" fill="#C5303A" stroke="#C5303A" stroke-width="0.4" >84.4%</text>
<text x="1913.5" y="249.4" font-size="18" text-anchor="start" fill="#4A80C8" stroke="#4A80C8" stroke-width="0.4" >95.0%</text>
<text x="1885.5" y="337.9" font-size="18" text-anchor="start" fill="#C5303A" stroke="#C5303A" stroke-width="0.4" >94.7%</text>
<text x="1915" y="449.4" font-size="18" text-anchor="start" fill="#4A80C8" stroke="#4A80C8" stroke-width="0.4" >94.8%</text>
<text x="1894" y="520.8" font-size="18" text-anchor="start" fill="#C5303A" stroke="#C5303A" stroke-width="0.4" >94.7%</text>
<text x="1898.5" y="639.4" font-size="18" text-anchor="start" fill="#4A80C8" stroke="#4A80C8" stroke-width="0.4" >81.0%</text>
<text x="1867" y="721.7" font-size="18" text-anchor="start" fill="#C5303A" stroke="#C5303A" stroke-width="0.4" >75.7%</text>
<circle cx="1616.7" cy="317" r="5.9" fill="none" stroke="#C5303A" stroke-width="2"/>
<circle cx="1616.7" cy="337.4" r="5.9" fill="none" stroke="#4A80C8" stroke-width="2"/>
<text x="1640.5" y="322.5" font-size="16" text-anchor="start" fill="#000" stroke="#000" stroke-width="0.4" >PM6:Y6</text>
<text x="1640.5" y="343" font-size="16" text-anchor="start" fill="#000" stroke="#000" stroke-width="0.4" >PM6:PM7:Y6:PCBM</text>
<line x1="66.39" y1="95.37" x2="77.53" y2="101.37" stroke="#1a1a1a" stroke-width="1.25" stroke-linecap="round"/>
<line x1="77.53" y1="101.37" x2="77.53" y2="113.15" stroke="#1a1a1a" stroke-width="1.25" stroke-linecap="round"/>
<line x1="77.53" y1="113.15" x2="66.39" y2="119.57" stroke="#1a1a1a" stroke-width="1.25" stroke-linecap="round"/>
<line x1="66.39" y1="119.57" x2="55.69" y2="113.15" stroke="#1a1a1a" stroke-width="1.25" stroke-linecap="round"/>
<line x1="55.69" y1="113.15" x2="55.69" y2="101.37" stroke="#1a1a1a" stroke-width="1.25" stroke-linecap="round"/>
<line x1="55.69" y1="101.37" x2="66.39" y2="95.37" stroke="#1a1a1a" stroke-width="1.25" stroke-linecap="round"/>
<line x1="67.31" y1="98.48" x2="74.43" y2="102.32" stroke="#1a1a1a" stroke-width="1.25" stroke-linecap="round"/>
<line x1="74.37" y1="112.31" x2="67.25" y2="116.42" stroke="#1a1a1a" stroke-width="1.25" stroke-linecap="round"/>
<line x1="57.99" y1="111.03" x2="57.99" y2="103.49" stroke="#1a1a1a" stroke-width="1.25" stroke-linecap="round"/>
<line x1="55.69" y1="101.37" x2="43.91" y2="98.16" stroke="#1a1a1a" stroke-width="1.25" stroke-linecap="round"/>
<line x1="43.91" y1="98.16" x2="37.27" y2="107.79" stroke="#1a1a1a" stroke-width="1.25" stroke-linecap="round"/>
<line x1="37.27" y1="107.79" x2="44.55" y2="117" stroke="#1a1a1a" stroke-width="1.25" stroke-linecap="round"/>
<line x1="44.55" y1="117" x2="55.69" y2="113.15" stroke="#1a1a1a" stroke-width="1.25" stroke-linecap="round"/>
<line x1="55.69" y1="113.15" x2="55.69" y2="101.37" stroke="#1a1a1a" stroke-width="1.25" stroke-linecap="round"/>
<line x1="44.61" y1="101.2" x2="40.36" y2="107.36" stroke="#1a1a1a" stroke-width="1.25" stroke-linecap="round"/>
<line x1="77.53" y1="101.37" x2="88.88" y2="97.09" stroke="#1a1a1a" stroke-width="1.25" stroke-linecap="round"/>
<line x1="88.88" y1="97.09" x2="95.94" y2="107.79" stroke="#1a1a1a" stroke-width="1.25" stroke-linecap="round"/>
<line x1="95.94" y1="107.79" x2="88.88" y2="117.43" stroke="#1a1a1a" stroke-width="1.25" stroke-linecap="round"/>
<line x1="88.88" y1="117.43" x2="77.53" y2="113.15" stroke="#1a1a1a" stroke-width="1.25" stroke-linecap="round"/>
<line x1="77.53" y1="113.15" x2="77.53" y2="101.37" stroke="#1a1a1a" stroke-width="1.25" stroke-linecap="round"/>
<line x1="92.82" y1="108.17" x2="88.29" y2="114.34" stroke="#1a1a1a" stroke-width="1.25" stroke-linecap="round"/>
<line x1="66.39" y1="95.37" x2="66.39" y2="83.17" stroke="#1a1a1a" stroke-width="1.25" stroke-linecap="round"/>
<line x1="66.39" y1="83.17" x2="56.76" y2="75.67" stroke="#1a1a1a" stroke-width="1.25" stroke-linecap="round"/>
<line x1="56.76" y1="75.67" x2="59.97" y2="63.9" stroke="#1a1a1a" stroke-width="1.25" stroke-linecap="round"/>
<line x1="59.97" y1="63.9" x2="71.75" y2="63.9" stroke="#1a1a1a" stroke-width="1.25" stroke-linecap="round"/>
<line x1="71.75" y1="63.9" x2="76.03" y2="75.25" stroke="#1a1a1a" stroke-width="1.25" stroke-linecap="round"/>
<line x1="76.03" y1="75.25" x2="66.39" y2="83.17" stroke="#1a1a1a" stroke-width="1.25" stroke-linecap="round"/>
<line x1="62.09" y1="66.2" x2="69.63" y2="66.2" stroke="#1a1a1a" stroke-width="1.25" stroke-linecap="round"/>
<line x1="72.83" y1="74.9" x2="66.67" y2="79.97" stroke="#1a1a1a" stroke-width="1.25" stroke-linecap="round"/>
<line x1="66.39" y1="119.57" x2="66.39" y2="131.35" stroke="#1a1a1a" stroke-width="1.25" stroke-linecap="round"/>
<line x1="66.39" y1="131.35" x2="76.03" y2="138.84" stroke="#1a1a1a" stroke-width="1.25" stroke-linecap="round"/>
<line x1="76.03" y1="138.84" x2="72.82" y2="150.62" stroke="#1a1a1a" stroke-width="1.25" stroke-linecap="round"/>
<line x1="72.82" y1="150.62" x2="61.04" y2="150.62" stroke="#1a1a1a" stroke-width="1.25" stroke-linecap="round"/>
<line x1="61.04" y1="150.62" x2="57.4" y2="139.91" stroke="#1a1a1a" stroke-width="1.25" stroke-linecap="round"/>
<line x1="57.4" y1="139.91" x2="66.39" y2="131.35" stroke="#1a1a1a" stroke-width="1.25" stroke-linecap="round"/>
<line x1="70.7" y1="148.32" x2="63.16" y2="148.32" stroke="#1a1a1a" stroke-width="1.25" stroke-linecap="round"/>
<line x1="60.6" y1="140.04" x2="66.36" y2="134.56" stroke="#1a1a1a" stroke-width="1.25" stroke-linecap="round"/>
<line x1="71.75" y1="63.9" x2="78.81" y2="55.33" stroke="#1a1a1a" stroke-width="1.25" stroke-linecap="round"/>
<line x1="61.04" y1="150.62" x2="54.61" y2="160.26" stroke="#1a1a1a" stroke-width="1.25" stroke-linecap="round"/>
<line x1="59.97" y1="63.9" x2="53.54" y2="52.12" stroke="#1a1a1a" stroke-width="1.25" stroke-linecap="round"/>
<line x1="53.54" y1="52.12" x2="58.9" y2="41.41" stroke="#1a1a1a" stroke-width="1.25" stroke-linecap="round"/>
<line x1="58.9" y1="41.41" x2="55.9" y2="36.7" stroke="#1a1a1a" stroke-width="1.25" stroke-linecap="round"/>
<line x1="58.9" y1="41.41" x2="66.39" y2="41.41" stroke="#1a1a1a" stroke-width="1.25" stroke-linecap="round"/>
<line x1="72.82" y1="150.62" x2="79.24" y2="162.4" stroke="#1a1a1a" stroke-width="1.25" stroke-linecap="round"/>
<line x1="79.24" y1="162.4" x2="74.96" y2="173.1" stroke="#1a1a1a" stroke-width="1.25" stroke-linecap="round"/>
<line x1="74.96" y1="173.1" x2="68.53" y2="173.53" stroke="#1a1a1a" stroke-width="1.25" stroke-linecap="round"/>
<line x1="74.96" y1="173.1" x2="79.24" y2="178.89" stroke="#1a1a1a" stroke-width="1.25" stroke-linecap="round"/>
<line x1="95.94" y1="107.79" x2="109.22" y2="105.22" stroke="#1a1a1a" stroke-width="1.25" stroke-linecap="round"/>
<line x1="109.22" y1="105.22" x2="112.43" y2="95.37" stroke="#1a1a1a" stroke-width="1.25" stroke-linecap="round"/>
<line x1="112.43" y1="95.37" x2="124.21" y2="94.52" stroke="#1a1a1a" stroke-width="1.25" stroke-linecap="round"/>
<line x1="124.21" y1="94.52" x2="128.49" y2="104.58" stroke="#1a1a1a" stroke-width="1.25" stroke-linecap="round"/>
<line x1="128.49" y1="104.58" x2="119.93" y2="114.22" stroke="#1a1a1a" stroke-width="1.25" stroke-linecap="round"/>
<line x1="119.93" y1="114.22" x2="109.22" y2="105.22" stroke="#1a1a1a" stroke-width="1.25" stroke-linecap="round"/>
<line x1="111.98" y1="104.16" x2="114.04" y2="97.86" stroke="#1a1a1a" stroke-width="1.25" stroke-linecap="round"/>
<line x1="122.86" y1="97.23" x2="125.6" y2="103.67" stroke="#1a1a1a" stroke-width="1.25" stroke-linecap="round"/>
<line x1="128.49" y1="104.58" x2="140.27" y2="104.58" stroke="#1a1a1a" stroke-width="1.25" stroke-linecap="round"/>
<line x1="140.27" y1="104.58" x2="143.05" y2="93.88" stroke="#1a1a1a" stroke-width="1.25" stroke-linecap="round"/>
<line x1="143.05" y1="93.88" x2="157.4" y2="93.88" stroke="#1a1a1a" stroke-width="1.25" stroke-linecap="round"/>
<line x1="157.4" y1="93.88" x2="161.04" y2="104.58" stroke="#1a1a1a" stroke-width="1.25" stroke-linecap="round"/>
<line x1="161.04" y1="104.58" x2="150.97" y2="112.08" stroke="#1a1a1a" stroke-width="1.25" stroke-linecap="round"/>
<line x1="150.97" y1="112.08" x2="140.27" y2="104.58" stroke="#1a1a1a" stroke-width="1.25" stroke-linecap="round"/>
<line x1="142.99" y1="103.23" x2="144.78" y2="96.38" stroke="#1a1a1a" stroke-width="1.25" stroke-linecap="round"/>
<line x1="155.88" y1="96.54" x2="158.21" y2="103.4" stroke="#1a1a1a" stroke-width="1.25" stroke-linecap="round"/>
<line x1="143.05" y1="93.88" x2="136.63" y2="83.17" stroke="#1a1a1a" stroke-width="1.25" stroke-linecap="round"/>
<line x1="136.63" y1="83.17" x2="142.41" y2="71.82" stroke="#1a1a1a" stroke-width="1.25" stroke-linecap="round"/>
<line x1="142.41" y1="71.82" x2="157.4" y2="71.82" stroke="#1a1a1a" stroke-width="1.25" stroke-linecap="round"/>
<line x1="157.4" y1="71.82" x2="163.18" y2="82.1" stroke="#1a1a1a" stroke-width="1.25" stroke-linecap="round"/>
<line x1="163.18" y1="82.1" x2="157.4" y2="93.88" stroke="#1a1a1a" stroke-width="1.25" stroke-linecap="round"/>
<line x1="157.4" y1="93.88" x2="143.05" y2="93.88" stroke="#1a1a1a" stroke-width="1.25" stroke-linecap="round"/>
<line x1="142.41" y1="71.82" x2="137.06" y2="60.69" stroke="#1a1a1a" stroke-width="1.25" stroke-linecap="round"/>
<line x1="137.06" y1="60.69" x2="145.62" y2="52.12" stroke="#1a1a1a" stroke-width="1.25" stroke-linecap="round"/>
<line x1="145.62" y1="52.12" x2="155.26" y2="59.61" stroke="#1a1a1a" stroke-width="1.25" stroke-linecap="round"/>
<line x1="155.26" y1="59.61" x2="157.4" y2="71.82" stroke="#1a1a1a" stroke-width="1.25" stroke-linecap="round"/>
<line x1="157.4" y1="71.82" x2="142.41" y2="71.82" stroke="#1a1a1a" stroke-width="1.25" stroke-linecap="round"/>
<line x1="143.52" y1="68.82" x2="140.09" y2="61.69" stroke="#1a1a1a" stroke-width="1.25" stroke-linecap="round"/>
<line x1="153.38" y1="62.21" x2="154.75" y2="70.02" stroke="#1a1a1a" stroke-width="1.25" stroke-linecap="round"/>
<line x1="136.48" y1="81.98" x2="127.91" y2="83.05" stroke="#1a1a1a" stroke-width="1.25" stroke-linecap="round"/>
<line x1="136.78" y1="84.36" x2="128.21" y2="85.43" stroke="#1a1a1a" stroke-width="1.25" stroke-linecap="round"/>
<line x1="163.49" y1="83.26" x2="171.62" y2="81.12" stroke="#1a1a1a" stroke-width="1.25" stroke-linecap="round"/>
<line x1="162.87" y1="80.94" x2="171.01" y2="78.8" stroke="#1a1a1a" stroke-width="1.25" stroke-linecap="round"/>
<line x1="137.06" y1="60.69" x2="124.21" y2="58.54" stroke="#1a1a1a" stroke-width="1.25" stroke-linecap="round"/>
<line x1="124.21" y1="58.54" x2="119.93" y2="46.12" stroke="#1a1a1a" stroke-width="1.25" stroke-linecap="round"/>
<line x1="119.93" y1="46.12" x2="111.79" y2="44.2" stroke="#1a1a1a" stroke-width="1.25" stroke-linecap="round"/>
<line x1="119.93" y1="46.12" x2="128.06" y2="39.27" stroke="#1a1a1a" stroke-width="1.25" stroke-linecap="round"/>
<line x1="155.26" y1="59.61" x2="167.03" y2="54.26" stroke="#1a1a1a" stroke-width="1.25" stroke-linecap="round"/>
<line x1="167.03" y1="54.26" x2="169.18" y2="40.77" stroke="#1a1a1a" stroke-width="1.25" stroke-linecap="round"/>
<line x1="169.18" y1="40.77" x2="162.75" y2="36.92" stroke="#1a1a1a" stroke-width="1.25" stroke-linecap="round"/>
<line x1="169.18" y1="40.77" x2="177.31" y2="38.2" stroke="#1a1a1a" stroke-width="1.25" stroke-linecap="round"/>
<line x1="161.04" y1="104.58" x2="173.46" y2="104.58" stroke="#1a1a1a" stroke-width="1.25" stroke-linecap="round"/>
<line x1="173.46" y1="104.58" x2="177.74" y2="93.88" stroke="#1a1a1a" stroke-width="1.25" stroke-linecap="round"/>
<line x1="177.74" y1="93.88" x2="189.52" y2="92.81" stroke="#1a1a1a" stroke-width="1.25" stroke-linecap="round"/>
<line x1="189.52" y1="92.81" x2="193.8" y2="102.44" stroke="#1a1a1a" stroke-width="1.25" stroke-linecap="round"/>
<line x1="193.8" y1="102.44" x2="184.16" y2="109.94" stroke="#1a1a1a" stroke-width="1.25" stroke-linecap="round"/>
<line x1="184.16" y1="109.94" x2="173.46" y2="104.58" stroke="#1a1a1a" stroke-width="1.25" stroke-linecap="round"/>
<line x1="176.36" y1="103.51" x2="179.11" y2="96.66" stroke="#1a1a1a" stroke-width="1.25" stroke-linecap="round"/>
<line x1="188.19" y1="95.47" x2="190.93" y2="101.64" stroke="#1a1a1a" stroke-width="1.25" stroke-linecap="round"/>
<line x1="193.8" y1="102.44" x2="199.58" y2="103.08" stroke="#1a1a1a" stroke-width="1.25" stroke-linecap="round"/>
<line x1="37.27" y1="107.79" x2="31.27" y2="107.79" stroke="#1a1a1a" stroke-width="1.25" stroke-linecap="round"/>
<path d="M31.56,101.79 Q27.06,107.79 31.56,113.79" stroke="#1a1a1a" stroke-width="1.1" fill="none"/>
<path d="M198.87,97.51 Q203.37,103.51 198.87,109.51" stroke="#1a1a1a" stroke-width="1.1" fill="none"/>
<circle cx="24.64" cy="105.22" r="0.9" fill="#1a1a1a"/>
<circle cx="206.22" cy="99.66" r="0.9" fill="#1a1a1a"/>
<text x="203.87" y="112.44" font-size="7" text-anchor="middle" fill="#1a1a1a" stroke="#1a1a1a" stroke-width="0.15" >n</text>
<circle cx="44.55" cy="117" r="3.4" fill="#fff"/>
<text x="44.55" y="119.7" font-size="7.5" text-anchor="middle" fill="#1a1a1a" stroke="#1a1a1a" stroke-width="0.15" >S</text>
<circle cx="88.88" cy="97.09" r="3.4" fill="#fff"/>
<text x="88.88" y="99.79" font-size="7.5" text-anchor="middle" fill="#1a1a1a" stroke="#1a1a1a" stroke-width="0.15" >S</text>
<circle cx="56.76" cy="75.67" r="3.4" fill="#fff"/>
<text x="56.76" y="78.37" font-size="7.5" text-anchor="middle" fill="#1a1a1a" stroke="#1a1a1a" stroke-width="0.15" >S</text>
<circle cx="76.03" cy="138.84" r="3.4" fill="#fff"/>
<text x="76.03" y="141.54" font-size="7.5" text-anchor="middle" fill="#1a1a1a" stroke="#1a1a1a" stroke-width="0.15" >S</text>
<circle cx="119.93" cy="114.22" r="3.4" fill="#fff"/>
<text x="119.93" y="116.92" font-size="7.5" text-anchor="middle" fill="#1a1a1a" stroke="#1a1a1a" stroke-width="0.15" >S</text>
<circle cx="150.97" cy="112.08" r="3.4" fill="#fff"/>
<text x="150.97" y="114.78" font-size="7.5" text-anchor="middle" fill="#1a1a1a" stroke="#1a1a1a" stroke-width="0.15" >S</text>
<circle cx="145.62" cy="52.12" r="3.4" fill="#fff"/>
<text x="145.62" y="54.82" font-size="7.5" text-anchor="middle" fill="#1a1a1a" stroke="#1a1a1a" stroke-width="0.15" >S</text>
<circle cx="184.16" cy="109.94" r="3.4" fill="#fff"/>
<text x="184.16" y="112.64" font-size="7.5" text-anchor="middle" fill="#1a1a1a" stroke="#1a1a1a" stroke-width="0.15" >S</text>
<circle cx="128.06" cy="84.24" r="3.4" fill="#fff"/>
<text x="128.06" y="86.94" font-size="7.5" text-anchor="middle" fill="#1a1a1a" stroke="#1a1a1a" stroke-width="0.15" >O</text>
<circle cx="171.32" cy="79.96" r="3.4" fill="#fff"/>
<text x="171.32" y="82.66" font-size="7.5" text-anchor="middle" fill="#1a1a1a" stroke="#1a1a1a" stroke-width="0.15" >O</text>
<circle cx="79.24" cy="54.26" r="3.4" fill="#fff"/>
<text x="79.24" y="56.96" font-size="7.5" text-anchor="middle" fill="#1a1a1a" stroke="#1a1a1a" stroke-width="0.15" >F</text>
<circle cx="53.97" cy="161.76" r="3.4" fill="#fff"/>
<text x="53.97" y="164.46" font-size="7.5" text-anchor="middle" fill="#1a1a1a" stroke="#1a1a1a" stroke-width="0.15" >F</text>
<text x="48.19" y="35.78" font-size="7.2" text-anchor="middle" fill="#000" stroke="#000" stroke-width="0.2">C<tspan font-size="4.896000000000001" dy="1.6">4</tspan><tspan dy="-1.6">H</tspan><tspan font-size="4.896000000000001" dy="1.6">9</tspan></text>
<text x="74.53" y="44.77" font-size="7.2" text-anchor="middle" fill="#000" stroke="#000" stroke-width="0.2">C<tspan font-size="4.896000000000001" dy="1.6">2</tspan><tspan dy="-1.6">H</tspan><tspan font-size="4.896000000000001" dy="1.6">5</tspan></text>
<text x="58.9" y="177.1" font-size="7.2" text-anchor="middle" fill="#000" stroke="#000" stroke-width="0.2">C<tspan font-size="4.896000000000001" dy="1.6">2</tspan><tspan dy="-1.6">H</tspan><tspan font-size="4.896000000000001" dy="1.6">5</tspan></text>
<text x="88.88" y="186.1" font-size="7.2" text-anchor="middle" fill="#000" stroke="#000" stroke-width="0.2">C<tspan font-size="4.896000000000001" dy="1.6">4</tspan><tspan dy="-1.6">H</tspan><tspan font-size="4.896000000000001" dy="1.6">9</tspan></text>
<text x="103.22" y="46.91" font-size="7.2" text-anchor="middle" fill="#000" stroke="#000" stroke-width="0.2">C<tspan font-size="4.896000000000001" dy="1.6">4</tspan><tspan dy="-1.6">H</tspan><tspan font-size="4.896000000000001" dy="1.6">9</tspan></text>
<text x="135.99" y="40.49" font-size="7.2" text-anchor="middle" fill="#000" stroke="#000" stroke-width="0.2">C<tspan font-size="4.896000000000001" dy="1.6">2</tspan><tspan dy="-1.6">H</tspan><tspan font-size="4.896000000000001" dy="1.6">5</tspan></text>
<text x="154.19" y="37.06" font-size="7.2" text-anchor="middle" fill="#000" stroke="#000" stroke-width="0.2">C<tspan font-size="4.896000000000001" dy="1.6">2</tspan><tspan dy="-1.6">H</tspan><tspan font-size="4.896000000000001" dy="1.6">5</tspan></text>
<text x="186.31" y="40.06" font-size="7.2" text-anchor="middle" fill="#000" stroke="#000" stroke-width="0.2">C<tspan font-size="4.896000000000001" dy="1.6">4</tspan><tspan dy="-1.6">H</tspan><tspan font-size="4.896000000000001" dy="1.6">9</tspan></text>
<line x1="268.39" y1="95.37" x2="279.53" y2="101.37" stroke="#1a1a1a" stroke-width="1.25" stroke-linecap="round"/>
<line x1="279.53" y1="101.37" x2="279.53" y2="113.15" stroke="#1a1a1a" stroke-width="1.25" stroke-linecap="round"/>
<line x1="279.53" y1="113.15" x2="268.39" y2="119.57" stroke="#1a1a1a" stroke-width="1.25" stroke-linecap="round"/>
<line x1="268.39" y1="119.57" x2="257.69" y2="113.15" stroke="#1a1a1a" stroke-width="1.25" stroke-linecap="round"/>
<line x1="257.69" y1="113.15" x2="257.69" y2="101.37" stroke="#1a1a1a" stroke-width="1.25" stroke-linecap="round"/>
<line x1="257.69" y1="101.37" x2="268.39" y2="95.37" stroke="#1a1a1a" stroke-width="1.25" stroke-linecap="round"/>
<line x1="269.31" y1="98.48" x2="276.43" y2="102.32" stroke="#1a1a1a" stroke-width="1.25" stroke-linecap="round"/>
<line x1="276.37" y1="112.31" x2="269.25" y2="116.42" stroke="#1a1a1a" stroke-width="1.25" stroke-linecap="round"/>
<line x1="259.99" y1="111.03" x2="259.99" y2="103.49" stroke="#1a1a1a" stroke-width="1.25" stroke-linecap="round"/>
<line x1="257.69" y1="101.37" x2="245.91" y2="98.16" stroke="#1a1a1a" stroke-width="1.25" stroke-linecap="round"/>
<line x1="245.91" y1="98.16" x2="239.27" y2="107.79" stroke="#1a1a1a" stroke-width="1.25" stroke-linecap="round"/>
<line x1="239.27" y1="107.79" x2="246.55" y2="117" stroke="#1a1a1a" stroke-width="1.25" stroke-linecap="round"/>
<line x1="246.55" y1="117" x2="257.69" y2="113.15" stroke="#1a1a1a" stroke-width="1.25" stroke-linecap="round"/>
<line x1="257.69" y1="113.15" x2="257.69" y2="101.37" stroke="#1a1a1a" stroke-width="1.25" stroke-linecap="round"/>
<line x1="246.61" y1="101.2" x2="242.36" y2="107.36" stroke="#1a1a1a" stroke-width="1.25" stroke-linecap="round"/>
<line x1="279.53" y1="101.37" x2="290.88" y2="97.09" stroke="#1a1a1a" stroke-width="1.25" stroke-linecap="round"/>
<line x1="290.88" y1="97.09" x2="297.94" y2="107.79" stroke="#1a1a1a" stroke-width="1.25" stroke-linecap="round"/>
<line x1="297.94" y1="107.79" x2="290.88" y2="117.43" stroke="#1a1a1a" stroke-width="1.25" stroke-linecap="round"/>
<line x1="290.88" y1="117.43" x2="279.53" y2="113.15" stroke="#1a1a1a" stroke-width="1.25" stroke-linecap="round"/>
<line x1="279.53" y1="113.15" x2="279.53" y2="101.37" stroke="#1a1a1a" stroke-width="1.25" stroke-linecap="round"/>
<line x1="294.82" y1="108.17" x2="290.29" y2="114.34" stroke="#1a1a1a" stroke-width="1.25" stroke-linecap="round"/>
<line x1="268.39" y1="95.37" x2="268.39" y2="83.17" stroke="#1a1a1a" stroke-width="1.25" stroke-linecap="round"/>
<line x1="268.39" y1="83.17" x2="258.76" y2="75.67" stroke="#1a1a1a" stroke-width="1.25" stroke-linecap="round"/>
<line x1="258.76" y1="75.67" x2="261.97" y2="63.9" stroke="#1a1a1a" stroke-width="1.25" stroke-linecap="round"/>
<line x1="261.97" y1="63.9" x2="273.75" y2="63.9" stroke="#1a1a1a" stroke-width="1.25" stroke-linecap="round"/>
<line x1="273.75" y1="63.9" x2="278.03" y2="75.25" stroke="#1a1a1a" stroke-width="1.25" stroke-linecap="round"/>
<line x1="278.03" y1="75.25" x2="268.39" y2="83.17" stroke="#1a1a1a" stroke-width="1.25" stroke-linecap="round"/>
<line x1="264.09" y1="66.2" x2="271.63" y2="66.2" stroke="#1a1a1a" stroke-width="1.25" stroke-linecap="round"/>
<line x1="274.83" y1="74.9" x2="268.67" y2="79.97" stroke="#1a1a1a" stroke-width="1.25" stroke-linecap="round"/>
<line x1="268.39" y1="119.57" x2="268.39" y2="131.35" stroke="#1a1a1a" stroke-width="1.25" stroke-linecap="round"/>
<line x1="268.39" y1="131.35" x2="278.03" y2="138.84" stroke="#1a1a1a" stroke-width="1.25" stroke-linecap="round"/>
<line x1="278.03" y1="138.84" x2="274.82" y2="150.62" stroke="#1a1a1a" stroke-width="1.25" stroke-linecap="round"/>
<line x1="274.82" y1="150.62" x2="263.04" y2="150.62" stroke="#1a1a1a" stroke-width="1.25" stroke-linecap="round"/>
<line x1="263.04" y1="150.62" x2="259.4" y2="139.91" stroke="#1a1a1a" stroke-width="1.25" stroke-linecap="round"/>
<line x1="259.4" y1="139.91" x2="268.39" y2="131.35" stroke="#1a1a1a" stroke-width="1.25" stroke-linecap="round"/>
<line x1="272.7" y1="148.32" x2="265.16" y2="148.32" stroke="#1a1a1a" stroke-width="1.25" stroke-linecap="round"/>
<line x1="262.6" y1="140.04" x2="268.36" y2="134.56" stroke="#1a1a1a" stroke-width="1.25" stroke-linecap="round"/>
<line x1="273.75" y1="63.9" x2="280.81" y2="55.33" stroke="#1a1a1a" stroke-width="1.25" stroke-linecap="round"/>
<line x1="263.04" y1="150.62" x2="256.61" y2="160.26" stroke="#1a1a1a" stroke-width="1.25" stroke-linecap="round"/>
<line x1="261.97" y1="63.9" x2="255.54" y2="52.12" stroke="#1a1a1a" stroke-width="1.25" stroke-linecap="round"/>
<line x1="255.54" y1="52.12" x2="260.9" y2="41.41" stroke="#1a1a1a" stroke-width="1.25" stroke-linecap="round"/>
<line x1="260.9" y1="41.41" x2="257.9" y2="36.7" stroke="#1a1a1a" stroke-width="1.25" stroke-linecap="round"/>
<line x1="260.9" y1="41.41" x2="268.39" y2="41.41" stroke="#1a1a1a" stroke-width="1.25" stroke-linecap="round"/>
<line x1="274.82" y1="150.62" x2="281.24" y2="162.4" stroke="#1a1a1a" stroke-width="1.25" stroke-linecap="round"/>
<line x1="281.24" y1="162.4" x2="276.96" y2="173.1" stroke="#1a1a1a" stroke-width="1.25" stroke-linecap="round"/>
<line x1="276.96" y1="173.1" x2="270.53" y2="173.53" stroke="#1a1a1a" stroke-width="1.25" stroke-linecap="round"/>
<line x1="276.96" y1="173.1" x2="281.24" y2="178.89" stroke="#1a1a1a" stroke-width="1.25" stroke-linecap="round"/>
<line x1="297.94" y1="107.79" x2="311.22" y2="105.22" stroke="#1a1a1a" stroke-width="1.25" stroke-linecap="round"/>
<line x1="311.22" y1="105.22" x2="314.43" y2="95.37" stroke="#1a1a1a" stroke-width="1.25" stroke-linecap="round"/>
<line x1="314.43" y1="95.37" x2="326.21" y2="94.52" stroke="#1a1a1a" stroke-width="1.25" stroke-linecap="round"/>
<line x1="326.21" y1="94.52" x2="330.49" y2="104.58" stroke="#1a1a1a" stroke-width="1.25" stroke-linecap="round"/>
<line x1="330.49" y1="104.58" x2="321.93" y2="114.22" stroke="#1a1a1a" stroke-width="1.25" stroke-linecap="round"/>
<line x1="321.93" y1="114.22" x2="311.22" y2="105.22" stroke="#1a1a1a" stroke-width="1.25" stroke-linecap="round"/>
<line x1="313.98" y1="104.16" x2="316.04" y2="97.86" stroke="#1a1a1a" stroke-width="1.25" stroke-linecap="round"/>
<line x1="324.86" y1="97.23" x2="327.6" y2="103.67" stroke="#1a1a1a" stroke-width="1.25" stroke-linecap="round"/>
<line x1="330.49" y1="104.58" x2="342.27" y2="104.58" stroke="#1a1a1a" stroke-width="1.25" stroke-linecap="round"/>
<line x1="342.27" y1="104.58" x2="345.05" y2="93.88" stroke="#1a1a1a" stroke-width="1.25" stroke-linecap="round"/>
<line x1="345.05" y1="93.88" x2="359.4" y2="93.88" stroke="#1a1a1a" stroke-width="1.25" stroke-linecap="round"/>
<line x1="359.4" y1="93.88" x2="363.04" y2="104.58" stroke="#1a1a1a" stroke-width="1.25" stroke-linecap="round"/>
<line x1="363.04" y1="104.58" x2="352.97" y2="112.08" stroke="#1a1a1a" stroke-width="1.25" stroke-linecap="round"/>
<line x1="352.97" y1="112.08" x2="342.27" y2="104.58" stroke="#1a1a1a" stroke-width="1.25" stroke-linecap="round"/>
<line x1="344.99" y1="103.23" x2="346.78" y2="96.38" stroke="#1a1a1a" stroke-width="1.25" stroke-linecap="round"/>
<line x1="357.88" y1="96.54" x2="360.21" y2="103.4" stroke="#1a1a1a" stroke-width="1.25" stroke-linecap="round"/>
<line x1="345.05" y1="93.88" x2="338.63" y2="83.17" stroke="#1a1a1a" stroke-width="1.25" stroke-linecap="round"/>
<line x1="338.63" y1="83.17" x2="344.41" y2="71.82" stroke="#1a1a1a" stroke-width="1.25" stroke-linecap="round"/>
<line x1="344.41" y1="71.82" x2="359.4" y2="71.82" stroke="#1a1a1a" stroke-width="1.25" stroke-linecap="round"/>
<line x1="359.4" y1="71.82" x2="365.18" y2="82.1" stroke="#1a1a1a" stroke-width="1.25" stroke-linecap="round"/>
<line x1="365.18" y1="82.1" x2="359.4" y2="93.88" stroke="#1a1a1a" stroke-width="1.25" stroke-linecap="round"/>
<line x1="359.4" y1="93.88" x2="345.05" y2="93.88" stroke="#1a1a1a" stroke-width="1.25" stroke-linecap="round"/>
<line x1="344.41" y1="71.82" x2="339.06" y2="60.69" stroke="#1a1a1a" stroke-width="1.25" stroke-linecap="round"/>
<line x1="339.06" y1="60.69" x2="347.62" y2="52.12" stroke="#1a1a1a" stroke-width="1.25" stroke-linecap="round"/>
<line x1="347.62" y1="52.12" x2="357.26" y2="59.61" stroke="#1a1a1a" stroke-width="1.25" stroke-linecap="round"/>
<line x1="357.26" y1="59.61" x2="359.4" y2="71.82" stroke="#1a1a1a" stroke-width="1.25" stroke-linecap="round"/>
<line x1="359.4" y1="71.82" x2="344.41" y2="71.82" stroke="#1a1a1a" stroke-width="1.25" stroke-linecap="round"/>
<line x1="345.52" y1="68.82" x2="342.09" y2="61.69" stroke="#1a1a1a" stroke-width="1.25" stroke-linecap="round"/>
<line x1="355.38" y1="62.21" x2="356.75" y2="70.02" stroke="#1a1a1a" stroke-width="1.25" stroke-linecap="round"/>
<line x1="338.48" y1="81.98" x2="329.91" y2="83.05" stroke="#1a1a1a" stroke-width="1.25" stroke-linecap="round"/>
<line x1="338.78" y1="84.36" x2="330.21" y2="85.43" stroke="#1a1a1a" stroke-width="1.25" stroke-linecap="round"/>
<line x1="365.49" y1="83.26" x2="373.62" y2="81.12" stroke="#1a1a1a" stroke-width="1.25" stroke-linecap="round"/>
<line x1="364.87" y1="80.94" x2="373.01" y2="78.8" stroke="#1a1a1a" stroke-width="1.25" stroke-linecap="round"/>
<line x1="339.06" y1="60.69" x2="326.21" y2="58.54" stroke="#1a1a1a" stroke-width="1.25" stroke-linecap="round"/>
<line x1="326.21" y1="58.54" x2="321.93" y2="46.12" stroke="#1a1a1a" stroke-width="1.25" stroke-linecap="round"/>
<line x1="321.93" y1="46.12" x2="313.79" y2="44.2" stroke="#1a1a1a" stroke-width="1.25" stroke-linecap="round"/>
<line x1="321.93" y1="46.12" x2="330.06" y2="39.27" stroke="#1a1a1a" stroke-width="1.25" stroke-linecap="round"/>
<line x1="357.26" y1="59.61" x2="369.03" y2="54.26" stroke="#1a1a1a" stroke-width="1.25" stroke-linecap="round"/>
<line x1="369.03" y1="54.26" x2="371.18" y2="40.77" stroke="#1a1a1a" stroke-width="1.25" stroke-linecap="round"/>
<line x1="371.18" y1="40.77" x2="364.75" y2="36.92" stroke="#1a1a1a" stroke-width="1.25" stroke-linecap="round"/>
<line x1="371.18" y1="40.77" x2="379.31" y2="38.2" stroke="#1a1a1a" stroke-width="1.25" stroke-linecap="round"/>
<line x1="363.04" y1="104.58" x2="375.46" y2="104.58" stroke="#1a1a1a" stroke-width="1.25" stroke-linecap="round"/>
<line x1="375.46" y1="104.58" x2="379.74" y2="93.88" stroke="#1a1a1a" stroke-width="1.25" stroke-linecap="round"/>
<line x1="379.74" y1="93.88" x2="391.52" y2="92.81" stroke="#1a1a1a" stroke-width="1.25" stroke-linecap="round"/>
<line x1="391.52" y1="92.81" x2="395.8" y2="102.44" stroke="#1a1a1a" stroke-width="1.25" stroke-linecap="round"/>
<line x1="395.8" y1="102.44" x2="386.16" y2="109.94" stroke="#1a1a1a" stroke-width="1.25" stroke-linecap="round"/>
<line x1="386.16" y1="109.94" x2="375.46" y2="104.58" stroke="#1a1a1a" stroke-width="1.25" stroke-linecap="round"/>
<line x1="378.36" y1="103.51" x2="381.11" y2="96.66" stroke="#1a1a1a" stroke-width="1.25" stroke-linecap="round"/>
<line x1="390.19" y1="95.47" x2="392.93" y2="101.64" stroke="#1a1a1a" stroke-width="1.25" stroke-linecap="round"/>
<line x1="395.8" y1="102.44" x2="401.58" y2="103.08" stroke="#1a1a1a" stroke-width="1.25" stroke-linecap="round"/>
<line x1="239.27" y1="107.79" x2="233.27" y2="107.79" stroke="#1a1a1a" stroke-width="1.25" stroke-linecap="round"/>
<path d="M233.56,101.79 Q229.06,107.79 233.56,113.79" stroke="#1a1a1a" stroke-width="1.1" fill="none"/>
<path d="M400.87,97.51 Q405.37,103.51 400.87,109.51" stroke="#1a1a1a" stroke-width="1.1" fill="none"/>
<circle cx="226.64" cy="105.22" r="0.9" fill="#1a1a1a"/>
<circle cx="408.22" cy="99.66" r="0.9" fill="#1a1a1a"/>
<text x="405.87" y="112.44" font-size="7" text-anchor="middle" fill="#1a1a1a" stroke="#1a1a1a" stroke-width="0.15" >n</text>
<circle cx="246.55" cy="117" r="3.4" fill="#fff"/>
<text x="246.55" y="119.7" font-size="7.5" text-anchor="middle" fill="#1a1a1a" stroke="#1a1a1a" stroke-width="0.15" >S</text>
<circle cx="290.88" cy="97.09" r="3.4" fill="#fff"/>
<text x="290.88" y="99.79" font-size="7.5" text-anchor="middle" fill="#1a1a1a" stroke="#1a1a1a" stroke-width="0.15" >S</text>
<circle cx="258.76" cy="75.67" r="3.4" fill="#fff"/>
<text x="258.76" y="78.37" font-size="7.5" text-anchor="middle" fill="#1a1a1a" stroke="#1a1a1a" stroke-width="0.15" >S</text>
<circle cx="278.03" cy="138.84" r="3.4" fill="#fff"/>
<text x="278.03" y="141.54" font-size="7.5" text-anchor="middle" fill="#1a1a1a" stroke="#1a1a1a" stroke-width="0.15" >S</text>
<circle cx="321.93" cy="114.22" r="3.4" fill="#fff"/>
<text x="321.93" y="116.92" font-size="7.5" text-anchor="middle" fill="#1a1a1a" stroke="#1a1a1a" stroke-width="0.15" >S</text>
<circle cx="352.97" cy="112.08" r="3.4" fill="#fff"/>
<text x="352.97" y="114.78" font-size="7.5" text-anchor="middle" fill="#1a1a1a" stroke="#1a1a1a" stroke-width="0.15" >S</text>
<circle cx="347.62" cy="52.12" r="3.4" fill="#fff"/>
<text x="347.62" y="54.82" font-size="7.5" text-anchor="middle" fill="#1a1a1a" stroke="#1a1a1a" stroke-width="0.15" >S</text>
<circle cx="386.16" cy="109.94" r="3.4" fill="#fff"/>
<text x="386.16" y="112.64" font-size="7.5" text-anchor="middle" fill="#1a1a1a" stroke="#1a1a1a" stroke-width="0.15" >S</text>
<circle cx="330.06" cy="84.24" r="3.4" fill="#fff"/>
<text x="330.06" y="86.94" font-size="7.5" text-anchor="middle" fill="#1a1a1a" stroke="#1a1a1a" stroke-width="0.15" >O</text>
<circle cx="373.32" cy="79.96" r="3.4" fill="#fff"/>
<text x="373.32" y="82.66" font-size="7.5" text-anchor="middle" fill="#1a1a1a" stroke="#1a1a1a" stroke-width="0.15" >O</text>
<circle cx="281.24" cy="54.26" r="3.4" fill="#fff"/>
<text x="281.24" y="56.96" font-size="7.5" text-anchor="middle" fill="#1a1a1a" stroke="#1a1a1a" stroke-width="0.15" >Cl</text>
<circle cx="255.97" cy="161.76" r="3.4" fill="#fff"/>
<text x="255.97" y="164.46" font-size="7.5" text-anchor="middle" fill="#1a1a1a" stroke="#1a1a1a" stroke-width="0.15" >Cl</text>
<text x="250.19" y="35.78" font-size="7.2" text-anchor="middle" fill="#000" stroke="#000" stroke-width="0.2">C<tspan font-size="4.896000000000001" dy="1.6">4</tspan><tspan dy="-1.6">H</tspan><tspan font-size="4.896000000000001" dy="1.6">9</tspan></text>
<text x="276.53" y="44.77" font-size="7.2" text-anchor="middle" fill="#000" stroke="#000" stroke-width="0.2">C<tspan font-size="4.896000000000001" dy="1.6">2</tspan><tspan dy="-1.6">H</tspan><tspan font-size="4.896000000000001" dy="1.6">5</tspan></text>
<text x="260.9" y="177.1" font-size="7.2" text-anchor="middle" fill="#000" stroke="#000" stroke-width="0.2">C<tspan font-size="4.896000000000001" dy="1.6">2</tspan><tspan dy="-1.6">H</tspan><tspan font-size="4.896000000000001" dy="1.6">5</tspan></text>
<text x="290.88" y="186.1" font-size="7.2" text-anchor="middle" fill="#000" stroke="#000" stroke-width="0.2">C<tspan font-size="4.896000000000001" dy="1.6">4</tspan><tspan dy="-1.6">H</tspan><tspan font-size="4.896000000000001" dy="1.6">9</tspan></text>
<text x="305.22" y="46.91" font-size="7.2" text-anchor="middle" fill="#000" stroke="#000" stroke-width="0.2">C<tspan font-size="4.896000000000001" dy="1.6">4</tspan><tspan dy="-1.6">H</tspan><tspan font-size="4.896000000000001" dy="1.6">9</tspan></text>
<text x="337.99" y="40.49" font-size="7.2" text-anchor="middle" fill="#000" stroke="#000" stroke-width="0.2">C<tspan font-size="4.896000000000001" dy="1.6">2</tspan><tspan dy="-1.6">H</tspan><tspan font-size="4.896000000000001" dy="1.6">5</tspan></text>
<text x="356.19" y="37.06" font-size="7.2" text-anchor="middle" fill="#000" stroke="#000" stroke-width="0.2">C<tspan font-size="4.896000000000001" dy="1.6">2</tspan><tspan dy="-1.6">H</tspan><tspan font-size="4.896000000000001" dy="1.6">5</tspan></text>
<text x="388.31" y="40.06" font-size="7.2" text-anchor="middle" fill="#000" stroke="#000" stroke-width="0.2">C<tspan font-size="4.896000000000001" dy="1.6">4</tspan><tspan dy="-1.6">H</tspan><tspan font-size="4.896000000000001" dy="1.6">9</tspan></text>
<text x="135.3" y="155" font-size="16" text-anchor="middle" fill="#000" stroke="#000" stroke-width="0.2" >PM6</text>
<text x="338.5" y="155" font-size="16" text-anchor="middle" fill="#000" stroke="#000" stroke-width="0.2" >PM7</text>
<line x1="63.3" y1="204.67" x2="73.98" y2="210.71" stroke="#1a1a1a" stroke-width="1.25" stroke-linecap="round"/>
<line x1="73.98" y1="210.71" x2="73.98" y2="223.2" stroke="#1a1a1a" stroke-width="1.25" stroke-linecap="round"/>
<line x1="73.98" y1="223.2" x2="63.3" y2="229.24" stroke="#1a1a1a" stroke-width="1.25" stroke-linecap="round"/>
<line x1="63.3" y1="229.24" x2="52.63" y2="223.2" stroke="#1a1a1a" stroke-width="1.25" stroke-linecap="round"/>
<line x1="52.63" y1="223.2" x2="52.63" y2="210.71" stroke="#1a1a1a" stroke-width="1.25" stroke-linecap="round"/>
<line x1="52.63" y1="210.71" x2="63.3" y2="204.67" stroke="#1a1a1a" stroke-width="1.25" stroke-linecap="round"/>
<line x1="64.09" y1="207.76" x2="70.92" y2="211.62" stroke="#1a1a1a" stroke-width="1.25" stroke-linecap="round"/>
<line x1="70.92" y1="222.28" x2="64.09" y2="226.15" stroke="#1a1a1a" stroke-width="1.25" stroke-linecap="round"/>
<line x1="54.93" y1="220.95" x2="54.93" y2="212.96" stroke="#1a1a1a" stroke-width="1.25" stroke-linecap="round"/>
<line x1="73.98" y1="223.2" x2="84.45" y2="229.24" stroke="#1a1a1a" stroke-width="1.25" stroke-linecap="round"/>
<line x1="84.45" y1="229.24" x2="95.53" y2="224.2" stroke="#1a1a1a" stroke-width="1.25" stroke-linecap="round"/>
<line x1="95.53" y1="224.2" x2="106.61" y2="230.25" stroke="#1a1a1a" stroke-width="1.25" stroke-linecap="round"/>
<line x1="106.61" y1="230.25" x2="118.69" y2="224.2" stroke="#1a1a1a" stroke-width="1.25" stroke-linecap="round"/>
<line x1="118.69" y1="224.2" x2="128.76" y2="229.24" stroke="#1a1a1a" stroke-width="1.25" stroke-linecap="round"/>
<line x1="127.56" y1="229.16" x2="126.96" y2="238.22" stroke="#1a1a1a" stroke-width="1.25" stroke-linecap="round"/>
<line x1="129.96" y1="229.32" x2="129.35" y2="238.38" stroke="#1a1a1a" stroke-width="1.25" stroke-linecap="round"/>
<line x1="128.76" y1="229.24" x2="138.83" y2="223.2" stroke="#1a1a1a" stroke-width="1.25" stroke-linecap="round"/>
<line x1="138.83" y1="223.2" x2="148.9" y2="229.24" stroke="#1a1a1a" stroke-width="1.25" stroke-linecap="round"/>
<circle cx="127.96" cy="240.92" r="3.4" fill="#fff"/>
<text x="127.96" y="243.62" font-size="7.5" text-anchor="middle" fill="#1a1a1a" stroke="#1a1a1a" stroke-width="0.15" >O</text>
<circle cx="138.83" cy="223.2" r="3.4" fill="#fff"/>
<text x="138.83" y="225.9" font-size="7.5" text-anchor="middle" fill="#1a1a1a" stroke="#1a1a1a" stroke-width="0.15" >O</text>
<line x1="71.54" y1="255.08" x2="99.26" y2="255.08" stroke="#1a1a1a" stroke-width="1.25" stroke-linecap="round"/>
<line x1="99.26" y1="255.08" x2="109.34" y2="260.75" stroke="#1a1a1a" stroke-width="1.25" stroke-linecap="round"/>
<line x1="109.34" y1="260.75" x2="116.89" y2="272.09" stroke="#1a1a1a" stroke-width="1.25" stroke-linecap="round"/>
<line x1="116.89" y1="272.09" x2="121.93" y2="282.8" stroke="#1a1a1a" stroke-width="1.25" stroke-linecap="round"/>
<line x1="121.93" y1="282.8" x2="123.19" y2="297.92" stroke="#1a1a1a" stroke-width="1.25" stroke-linecap="round"/>
<line x1="123.19" y1="297.92" x2="123.82" y2="310.52" stroke="#1a1a1a" stroke-width="1.25" stroke-linecap="round"/>
<line x1="123.82" y1="310.52" x2="115.64" y2="324.38" stroke="#1a1a1a" stroke-width="1.25" stroke-linecap="round"/>
<line x1="115.64" y1="324.38" x2="109.34" y2="331.93" stroke="#1a1a1a" stroke-width="1.25" stroke-linecap="round"/>
<line x1="109.34" y1="331.93" x2="93.59" y2="341.38" stroke="#1a1a1a" stroke-width="1.25" stroke-linecap="round"/>
<line x1="93.59" y1="341.38" x2="69.65" y2="341.38" stroke="#1a1a1a" stroke-width="1.25" stroke-linecap="round"/>
<line x1="69.65" y1="341.38" x2="57.68" y2="331.93" stroke="#1a1a1a" stroke-width="1.25" stroke-linecap="round"/>
<line x1="57.68" y1="331.93" x2="46.34" y2="320.6" stroke="#1a1a1a" stroke-width="1.25" stroke-linecap="round"/>
<line x1="46.34" y1="320.6" x2="43.82" y2="311.78" stroke="#1a1a1a" stroke-width="1.25" stroke-linecap="round"/>
<line x1="43.82" y1="311.78" x2="40.67" y2="301.7" stroke="#1a1a1a" stroke-width="1.25" stroke-linecap="round"/>
<line x1="40.67" y1="301.7" x2="44.45" y2="286.58" stroke="#1a1a1a" stroke-width="1.25" stroke-linecap="round"/>
<line x1="44.45" y1="286.58" x2="46.34" y2="272.09" stroke="#1a1a1a" stroke-width="1.25" stroke-linecap="round"/>
<line x1="46.34" y1="272.09" x2="59.57" y2="261.38" stroke="#1a1a1a" stroke-width="1.25" stroke-linecap="round"/>
<line x1="59.57" y1="261.38" x2="71.54" y2="255.08" stroke="#1a1a1a" stroke-width="1.25" stroke-linecap="round"/>
<line x1="99.94" y1="258.1" x2="106.39" y2="261.73" stroke="#1a1a1a" stroke-width="1.25" stroke-linecap="round"/>
<line x1="119.87" y1="285.71" x2="120.68" y2="295.39" stroke="#1a1a1a" stroke-width="1.25" stroke-linecap="round"/>
<line x1="120.37" y1="311.84" x2="115.13" y2="320.71" stroke="#1a1a1a" stroke-width="1.25" stroke-linecap="round"/>
<line x1="105.32" y1="331.66" x2="95.24" y2="337.71" stroke="#1a1a1a" stroke-width="1.25" stroke-linecap="round"/>
<line x1="89.28" y1="339.08" x2="73.96" y2="339.08" stroke="#1a1a1a" stroke-width="1.25" stroke-linecap="round"/>
<line x1="57.26" y1="328.27" x2="50.01" y2="321.01" stroke="#1a1a1a" stroke-width="1.25" stroke-linecap="round"/>
<line x1="43.58" y1="299.53" x2="46" y2="289.86" stroke="#1a1a1a" stroke-width="1.25" stroke-linecap="round"/>
<line x1="62.79" y1="262.28" x2="70.45" y2="258.25" stroke="#1a1a1a" stroke-width="1.25" stroke-linecap="round"/>
<line x1="84.45" y1="229.24" x2="82.88" y2="254.45" stroke="#1a1a1a" stroke-width="1.25" stroke-linecap="round"/>
<line x1="84.45" y1="229.24" x2="90.44" y2="267.68" stroke="#1a1a1a" stroke-width="1.25" stroke-linecap="round"/>
<line x1="82.88" y1="254.45" x2="90.44" y2="267.68" stroke="#1a1a1a" stroke-width="1.25" stroke-linecap="round"/>
<line x1="59.57" y1="261.38" x2="65.24" y2="276.5" stroke="#1a1a1a" stroke-width="1.25" stroke-linecap="round"/>
<line x1="65.24" y1="276.5" x2="78.47" y2="275.87" stroke="#1a1a1a" stroke-width="1.25" stroke-linecap="round"/>
<line x1="78.47" y1="275.87" x2="89.81" y2="267.68" stroke="#1a1a1a" stroke-width="1.25" stroke-linecap="round"/>
<line x1="89.81" y1="267.68" x2="100.52" y2="273.35" stroke="#1a1a1a" stroke-width="1.25" stroke-linecap="round"/>
<line x1="100.52" y1="273.35" x2="116.89" y2="272.09" stroke="#1a1a1a" stroke-width="1.25" stroke-linecap="round"/>
<line x1="100.52" y1="273.35" x2="97.37" y2="285.32" stroke="#1a1a1a" stroke-width="1.25" stroke-linecap="round"/>
<line x1="78.47" y1="275.87" x2="85.4" y2="285.95" stroke="#1a1a1a" stroke-width="1.25" stroke-linecap="round"/>
<line x1="85.4" y1="285.95" x2="97.37" y2="285.32" stroke="#1a1a1a" stroke-width="1.25" stroke-linecap="round"/>
<line x1="65.24" y1="276.5" x2="60.83" y2="287.84" stroke="#1a1a1a" stroke-width="1.25" stroke-linecap="round"/>
<line x1="60.83" y1="287.84" x2="44.45" y2="286.58" stroke="#1a1a1a" stroke-width="1.25" stroke-linecap="round"/>
<line x1="60.83" y1="287.84" x2="67.76" y2="297.92" stroke="#1a1a1a" stroke-width="1.25" stroke-linecap="round"/>
<line x1="67.76" y1="297.92" x2="79.73" y2="297.29" stroke="#1a1a1a" stroke-width="1.25" stroke-linecap="round"/>
<line x1="79.73" y1="297.29" x2="85.4" y2="285.95" stroke="#1a1a1a" stroke-width="1.25" stroke-linecap="round"/>
<line x1="97.37" y1="285.32" x2="104.3" y2="296.03" stroke="#1a1a1a" stroke-width="1.25" stroke-linecap="round"/>
<line x1="104.3" y1="296.03" x2="123.19" y2="297.92" stroke="#1a1a1a" stroke-width="1.25" stroke-linecap="round"/>
<line x1="104.3" y1="296.03" x2="99.26" y2="306.74" stroke="#1a1a1a" stroke-width="1.25" stroke-linecap="round"/>
<line x1="99.26" y1="306.74" x2="86.66" y2="307.37" stroke="#1a1a1a" stroke-width="1.25" stroke-linecap="round"/>
<line x1="86.66" y1="307.37" x2="79.73" y2="297.29" stroke="#1a1a1a" stroke-width="1.25" stroke-linecap="round"/>
<line x1="67.76" y1="297.92" x2="62.09" y2="309.89" stroke="#1a1a1a" stroke-width="1.25" stroke-linecap="round"/>
<line x1="62.09" y1="309.89" x2="43.82" y2="311.78" stroke="#1a1a1a" stroke-width="1.25" stroke-linecap="round"/>
<line x1="62.09" y1="309.89" x2="69.02" y2="319.34" stroke="#1a1a1a" stroke-width="1.25" stroke-linecap="round"/>
<line x1="69.02" y1="319.34" x2="82.25" y2="318.71" stroke="#1a1a1a" stroke-width="1.25" stroke-linecap="round"/>
<line x1="82.25" y1="318.71" x2="86.66" y2="307.37" stroke="#1a1a1a" stroke-width="1.25" stroke-linecap="round"/>
<line x1="99.26" y1="306.74" x2="103.67" y2="318.08" stroke="#1a1a1a" stroke-width="1.25" stroke-linecap="round"/>
<line x1="103.67" y1="318.08" x2="115.64" y2="324.38" stroke="#1a1a1a" stroke-width="1.25" stroke-linecap="round"/>
<line x1="103.67" y1="318.08" x2="94.22" y2="325.64" stroke="#1a1a1a" stroke-width="1.25" stroke-linecap="round"/>
<line x1="94.22" y1="325.64" x2="82.25" y2="318.71" stroke="#1a1a1a" stroke-width="1.25" stroke-linecap="round"/>
<line x1="94.22" y1="325.64" x2="87.92" y2="341.38" stroke="#1a1a1a" stroke-width="1.25" stroke-linecap="round"/>
<line x1="69.02" y1="319.34" x2="57.68" y2="331.93" stroke="#1a1a1a" stroke-width="1.25" stroke-linecap="round"/>
<line x1="67.32" y1="278.4" x2="76.58" y2="277.96" stroke="#1a1a1a" stroke-width="1.25" stroke-linecap="round"/>
<line x1="103.13" y1="275.15" x2="114.59" y2="274.27" stroke="#1a1a1a" stroke-width="1.25" stroke-linecap="round"/>
<line x1="63.52" y1="288.22" x2="68.37" y2="295.27" stroke="#1a1a1a" stroke-width="1.25" stroke-linecap="round"/>
<line x1="78.79" y1="294.69" x2="82.76" y2="286.75" stroke="#1a1a1a" stroke-width="1.25" stroke-linecap="round"/>
<line x1="96.73" y1="288.01" x2="101.58" y2="295.51" stroke="#1a1a1a" stroke-width="1.25" stroke-linecap="round"/>
<line x1="97.27" y1="304.83" x2="88.45" y2="305.27" stroke="#1a1a1a" stroke-width="1.25" stroke-linecap="round"/>
<line x1="59.14" y1="308.18" x2="46.35" y2="309.5" stroke="#1a1a1a" stroke-width="1.25" stroke-linecap="round"/>
<line x1="70.91" y1="317.24" x2="80.17" y2="316.8" stroke="#1a1a1a" stroke-width="1.25" stroke-linecap="round"/>
<line x1="101" y1="317.65" x2="94.38" y2="322.94" stroke="#1a1a1a" stroke-width="1.25" stroke-linecap="round"/>
<text x="130.5" y="344" font-size="16" fill="#000" stroke="#000" stroke-width="0.2">PC<tspan font-size="11" dy="4">71</tspan><tspan dy="-4">BM</tspan></text>
<line x1="289.8" y1="236.36" x2="301.7" y2="236.36" stroke="#1a1a1a" stroke-width="1.25" stroke-linecap="round"/>
<line x1="301.7" y1="236.36" x2="307.65" y2="246.56" stroke="#1a1a1a" stroke-width="1.25" stroke-linecap="round"/>
<line x1="307.65" y1="246.56" x2="301.7" y2="256.77" stroke="#1a1a1a" stroke-width="1.25" stroke-linecap="round"/>
<line x1="301.7" y1="256.77" x2="289.8" y2="256.77" stroke="#1a1a1a" stroke-width="1.25" stroke-linecap="round"/>
<line x1="289.8" y1="256.77" x2="283.84" y2="246.56" stroke="#1a1a1a" stroke-width="1.25" stroke-linecap="round"/>
<line x1="283.84" y1="246.56" x2="289.8" y2="236.36" stroke="#1a1a1a" stroke-width="1.25" stroke-linecap="round"/>
<line x1="291.94" y1="238.66" x2="299.56" y2="238.66" stroke="#1a1a1a" stroke-width="1.25" stroke-linecap="round"/>
<line x1="304.59" y1="247.24" x2="300.79" y2="253.77" stroke="#1a1a1a" stroke-width="1.25" stroke-linecap="round"/>
<line x1="290.71" y1="253.77" x2="286.9" y2="247.24" stroke="#1a1a1a" stroke-width="1.25" stroke-linecap="round"/>
<line x1="289.8" y1="236.36" x2="285.54" y2="223.61" stroke="#1a1a1a" stroke-width="1.25" stroke-linecap="round"/>
<line x1="285.54" y1="223.61" x2="295.75" y2="215.95" stroke="#1a1a1a" stroke-width="1.25" stroke-linecap="round"/>
<line x1="295.75" y1="215.95" x2="305.95" y2="223.61" stroke="#1a1a1a" stroke-width="1.25" stroke-linecap="round"/>
<line x1="305.95" y1="223.61" x2="301.7" y2="236.36" stroke="#1a1a1a" stroke-width="1.25" stroke-linecap="round"/>
<line x1="291.21" y1="233.34" x2="288.49" y2="225.17" stroke="#1a1a1a" stroke-width="1.25" stroke-linecap="round"/>
<line x1="303.01" y1="225.17" x2="300.28" y2="233.34" stroke="#1a1a1a" stroke-width="1.25" stroke-linecap="round"/>
<line x1="283.84" y1="246.56" x2="271.94" y2="249.97" stroke="#1a1a1a" stroke-width="1.25" stroke-linecap="round"/>
<line x1="271.94" y1="249.97" x2="271.09" y2="261.02" stroke="#1a1a1a" stroke-width="1.25" stroke-linecap="round"/>
<line x1="271.09" y1="261.02" x2="281.29" y2="266.12" stroke="#1a1a1a" stroke-width="1.25" stroke-linecap="round"/>
<line x1="281.29" y1="266.12" x2="289.8" y2="256.77" stroke="#1a1a1a" stroke-width="1.25" stroke-linecap="round"/>
<line x1="289.8" y1="256.77" x2="283.84" y2="246.56" stroke="#1a1a1a" stroke-width="1.25" stroke-linecap="round"/>
<line x1="274.08" y1="252.13" x2="273.53" y2="259.21" stroke="#1a1a1a" stroke-width="1.25" stroke-linecap="round"/>
<line x1="271.94" y1="249.97" x2="260.03" y2="243.16" stroke="#1a1a1a" stroke-width="1.25" stroke-linecap="round"/>
<line x1="260.03" y1="243.16" x2="253.23" y2="252.52" stroke="#1a1a1a" stroke-width="1.25" stroke-linecap="round"/>
<line x1="253.23" y1="252.52" x2="258.33" y2="264.42" stroke="#1a1a1a" stroke-width="1.25" stroke-linecap="round"/>
<line x1="258.33" y1="264.42" x2="271.09" y2="261.02" stroke="#1a1a1a" stroke-width="1.25" stroke-linecap="round"/>
<line x1="271.09" y1="261.02" x2="271.94" y2="249.97" stroke="#1a1a1a" stroke-width="1.25" stroke-linecap="round"/>
<line x1="256.26" y1="253.75" x2="259.53" y2="261.37" stroke="#1a1a1a" stroke-width="1.25" stroke-linecap="round"/>
<line x1="253.23" y1="252.52" x2="240.48" y2="255.07" stroke="#1a1a1a" stroke-width="1.25" stroke-linecap="round"/>
<line x1="240.48" y1="255.07" x2="238.78" y2="268.67" stroke="#1a1a1a" stroke-width="1.25" stroke-linecap="round"/>
<line x1="238.78" y1="268.67" x2="249.83" y2="272.93" stroke="#1a1a1a" stroke-width="1.25" stroke-linecap="round"/>
<line x1="249.83" y1="272.93" x2="258.33" y2="264.42" stroke="#1a1a1a" stroke-width="1.25" stroke-linecap="round"/>
<line x1="258.33" y1="264.42" x2="253.23" y2="252.52" stroke="#1a1a1a" stroke-width="1.25" stroke-linecap="round"/>
<line x1="242.45" y1="257.8" x2="241.36" y2="266.51" stroke="#1a1a1a" stroke-width="1.25" stroke-linecap="round"/>
<line x1="240.48" y1="255.07" x2="233.67" y2="250.82" stroke="#1a1a1a" stroke-width="1.25" stroke-linecap="round"/>
<line x1="238.78" y1="268.67" x2="226.02" y2="268.67" stroke="#1a1a1a" stroke-width="1.25" stroke-linecap="round"/>
<line x1="226.02" y1="268.67" x2="220.07" y2="278.03" stroke="#1a1a1a" stroke-width="1.25" stroke-linecap="round"/>
<line x1="220.07" y1="278.03" x2="206.46" y2="279.39" stroke="#1a1a1a" stroke-width="1.25" stroke-linecap="round"/>
<line x1="206.46" y1="279.39" x2="204.76" y2="292.48" stroke="#1a1a1a" stroke-width="1.25" stroke-linecap="round"/>
<line x1="204.76" y1="292.48" x2="215.82" y2="297.59" stroke="#1a1a1a" stroke-width="1.25" stroke-linecap="round"/>
<line x1="215.82" y1="297.59" x2="224.32" y2="290.78" stroke="#1a1a1a" stroke-width="1.25" stroke-linecap="round"/>
<line x1="224.32" y1="290.78" x2="220.07" y2="278.03" stroke="#1a1a1a" stroke-width="1.25" stroke-linecap="round"/>
<line x1="224.11" y1="291.96" x2="232.61" y2="293.49" stroke="#1a1a1a" stroke-width="1.25" stroke-linecap="round"/>
<line x1="224.53" y1="289.6" x2="233.04" y2="291.13" stroke="#1a1a1a" stroke-width="1.25" stroke-linecap="round"/>
<line x1="207.45" y1="278.55" x2="199.8" y2="269.53" stroke="#1a1a1a" stroke-width="1.25" stroke-linecap="round"/>
<line x1="205.47" y1="280.23" x2="197.82" y2="271.22" stroke="#1a1a1a" stroke-width="1.25" stroke-linecap="round"/>
<line x1="198.81" y1="270.37" x2="191.16" y2="272.59" stroke="#1a1a1a" stroke-width="1.25" stroke-linecap="round"/>
<line x1="198.81" y1="270.37" x2="201.87" y2="261.87" stroke="#1a1a1a" stroke-width="1.25" stroke-linecap="round"/>
<line x1="204.76" y1="292.48" x2="215.82" y2="297.59" stroke="#1a1a1a" stroke-width="1.25" stroke-linecap="round"/>
<line x1="215.82" y1="297.59" x2="215.82" y2="309.49" stroke="#1a1a1a" stroke-width="1.25" stroke-linecap="round"/>
<line x1="215.82" y1="309.49" x2="205.61" y2="316.29" stroke="#1a1a1a" stroke-width="1.25" stroke-linecap="round"/>
<line x1="205.61" y1="316.29" x2="194.56" y2="310.34" stroke="#1a1a1a" stroke-width="1.25" stroke-linecap="round"/>
<line x1="194.56" y1="310.34" x2="194.56" y2="298.44" stroke="#1a1a1a" stroke-width="1.25" stroke-linecap="round"/>
<line x1="194.56" y1="298.44" x2="204.76" y2="292.48" stroke="#1a1a1a" stroke-width="1.25" stroke-linecap="round"/>
<line x1="205.79" y1="295.49" x2="212.86" y2="298.75" stroke="#1a1a1a" stroke-width="1.25" stroke-linecap="round"/>
<line x1="212.7" y1="308.8" x2="206.17" y2="313.15" stroke="#1a1a1a" stroke-width="1.25" stroke-linecap="round"/>
<line x1="196.86" y1="308.2" x2="196.86" y2="300.58" stroke="#1a1a1a" stroke-width="1.25" stroke-linecap="round"/>
<line x1="194.56" y1="310.34" x2="186.56" y2="315.1" stroke="#1a1a1a" stroke-width="1.25" stroke-linecap="round"/>
<line x1="205.61" y1="316.29" x2="205.61" y2="325.65" stroke="#1a1a1a" stroke-width="1.25" stroke-linecap="round"/>
<line x1="281.29" y1="266.12" x2="283.84" y2="278.03" stroke="#1a1a1a" stroke-width="1.25" stroke-linecap="round"/>
<line x1="283.84" y1="278.03" x2="275.34" y2="286.53" stroke="#1a1a1a" stroke-width="1.25" stroke-linecap="round"/>
<line x1="275.34" y1="286.53" x2="266.5" y2="283.47" stroke="#1a1a1a" stroke-width="1.25" stroke-linecap="round"/>
<line x1="275.34" y1="286.53" x2="277.04" y2="296.39" stroke="#1a1a1a" stroke-width="1.25" stroke-linecap="round"/>
<circle cx="260.03" cy="243.16" r="3.4" fill="#fff"/>
<text x="260.03" y="245.86" font-size="7.5" text-anchor="middle" fill="#1a1a1a" stroke="#1a1a1a" stroke-width="0.15" >S</text>
<circle cx="249.83" cy="272.93" r="3.4" fill="#fff"/>
<text x="249.83" y="275.63" font-size="7.5" text-anchor="middle" fill="#1a1a1a" stroke="#1a1a1a" stroke-width="0.15" >S</text>
<circle cx="281.29" cy="266.12" r="3.4" fill="#fff"/>
<text x="281.29" y="268.82" font-size="7.5" text-anchor="middle" fill="#1a1a1a" stroke="#1a1a1a" stroke-width="0.15" >N</text>
<circle cx="235.88" cy="292.48" r="3.4" fill="#fff"/>
<text x="235.88" y="295.18" font-size="7.5" text-anchor="middle" fill="#1a1a1a" stroke="#1a1a1a" stroke-width="0.15" >O</text>
<circle cx="184.35" cy="316.29" r="3.4" fill="#fff"/>
<text x="184.35" y="318.99" font-size="7.5" text-anchor="middle" fill="#1a1a1a" stroke="#1a1a1a" stroke-width="0.15" >F</text>
<circle cx="205.27" cy="329.05" r="3.4" fill="#fff"/>
<text x="205.27" y="331.75" font-size="7.5" text-anchor="middle" fill="#1a1a1a" stroke="#1a1a1a" stroke-width="0.15" >F</text>
<line x1="307.65" y1="246.56" x2="319.56" y2="249.97" stroke="#1a1a1a" stroke-width="1.25" stroke-linecap="round"/>
<line x1="319.56" y1="249.97" x2="320.41" y2="261.02" stroke="#1a1a1a" stroke-width="1.25" stroke-linecap="round"/>
<line x1="320.41" y1="261.02" x2="310.2" y2="266.12" stroke="#1a1a1a" stroke-width="1.25" stroke-linecap="round"/>
<line x1="310.2" y1="266.12" x2="301.7" y2="256.77" stroke="#1a1a1a" stroke-width="1.25" stroke-linecap="round"/>
<line x1="301.7" y1="256.77" x2="307.65" y2="246.56" stroke="#1a1a1a" stroke-width="1.25" stroke-linecap="round"/>
<line x1="317.42" y1="252.13" x2="317.96" y2="259.21" stroke="#1a1a1a" stroke-width="1.25" stroke-linecap="round"/>
<line x1="319.56" y1="249.97" x2="331.46" y2="243.16" stroke="#1a1a1a" stroke-width="1.25" stroke-linecap="round"/>
<line x1="331.46" y1="243.16" x2="338.27" y2="252.52" stroke="#1a1a1a" stroke-width="1.25" stroke-linecap="round"/>
<line x1="338.27" y1="252.52" x2="333.16" y2="264.42" stroke="#1a1a1a" stroke-width="1.25" stroke-linecap="round"/>
<line x1="333.16" y1="264.42" x2="320.41" y2="261.02" stroke="#1a1a1a" stroke-width="1.25" stroke-linecap="round"/>
<line x1="320.41" y1="261.02" x2="319.56" y2="249.97" stroke="#1a1a1a" stroke-width="1.25" stroke-linecap="round"/>
<line x1="335.23" y1="253.75" x2="331.97" y2="261.37" stroke="#1a1a1a" stroke-width="1.25" stroke-linecap="round"/>
<line x1="338.27" y1="252.52" x2="351.02" y2="255.07" stroke="#1a1a1a" stroke-width="1.25" stroke-linecap="round"/>
<line x1="351.02" y1="255.07" x2="352.72" y2="268.67" stroke="#1a1a1a" stroke-width="1.25" stroke-linecap="round"/>
<line x1="352.72" y1="268.67" x2="341.67" y2="272.93" stroke="#1a1a1a" stroke-width="1.25" stroke-linecap="round"/>
<line x1="341.67" y1="272.93" x2="333.16" y2="264.42" stroke="#1a1a1a" stroke-width="1.25" stroke-linecap="round"/>
<line x1="333.16" y1="264.42" x2="338.27" y2="252.52" stroke="#1a1a1a" stroke-width="1.25" stroke-linecap="round"/>
<line x1="349.04" y1="257.8" x2="350.13" y2="266.51" stroke="#1a1a1a" stroke-width="1.25" stroke-linecap="round"/>
<line x1="351.02" y1="255.07" x2="357.82" y2="250.82" stroke="#1a1a1a" stroke-width="1.25" stroke-linecap="round"/>
<line x1="352.72" y1="268.67" x2="365.48" y2="268.67" stroke="#1a1a1a" stroke-width="1.25" stroke-linecap="round"/>
<line x1="365.48" y1="268.67" x2="371.43" y2="278.03" stroke="#1a1a1a" stroke-width="1.25" stroke-linecap="round"/>
<line x1="371.43" y1="278.03" x2="385.03" y2="279.39" stroke="#1a1a1a" stroke-width="1.25" stroke-linecap="round"/>
<line x1="385.03" y1="279.39" x2="386.73" y2="292.48" stroke="#1a1a1a" stroke-width="1.25" stroke-linecap="round"/>
<line x1="386.73" y1="292.48" x2="375.68" y2="297.59" stroke="#1a1a1a" stroke-width="1.25" stroke-linecap="round"/>
<line x1="375.68" y1="297.59" x2="367.18" y2="290.78" stroke="#1a1a1a" stroke-width="1.25" stroke-linecap="round"/>
<line x1="367.18" y1="290.78" x2="371.43" y2="278.03" stroke="#1a1a1a" stroke-width="1.25" stroke-linecap="round"/>
<line x1="366.96" y1="289.6" x2="358.46" y2="291.13" stroke="#1a1a1a" stroke-width="1.25" stroke-linecap="round"/>
<line x1="367.39" y1="291.96" x2="358.89" y2="293.49" stroke="#1a1a1a" stroke-width="1.25" stroke-linecap="round"/>
<line x1="386.02" y1="280.23" x2="393.68" y2="271.22" stroke="#1a1a1a" stroke-width="1.25" stroke-linecap="round"/>
<line x1="384.04" y1="278.55" x2="391.7" y2="269.53" stroke="#1a1a1a" stroke-width="1.25" stroke-linecap="round"/>
<line x1="392.69" y1="270.37" x2="400.34" y2="272.59" stroke="#1a1a1a" stroke-width="1.25" stroke-linecap="round"/>
<line x1="392.69" y1="270.37" x2="389.63" y2="261.87" stroke="#1a1a1a" stroke-width="1.25" stroke-linecap="round"/>
<line x1="386.73" y1="292.48" x2="375.68" y2="297.59" stroke="#1a1a1a" stroke-width="1.25" stroke-linecap="round"/>
<line x1="375.68" y1="297.59" x2="375.68" y2="309.49" stroke="#1a1a1a" stroke-width="1.25" stroke-linecap="round"/>
<line x1="375.68" y1="309.49" x2="385.88" y2="316.29" stroke="#1a1a1a" stroke-width="1.25" stroke-linecap="round"/>
<line x1="385.88" y1="316.29" x2="396.94" y2="310.34" stroke="#1a1a1a" stroke-width="1.25" stroke-linecap="round"/>
<line x1="396.94" y1="310.34" x2="396.94" y2="298.44" stroke="#1a1a1a" stroke-width="1.25" stroke-linecap="round"/>
<line x1="396.94" y1="298.44" x2="386.73" y2="292.48" stroke="#1a1a1a" stroke-width="1.25" stroke-linecap="round"/>
<line x1="385.71" y1="295.49" x2="378.63" y2="298.75" stroke="#1a1a1a" stroke-width="1.25" stroke-linecap="round"/>
<line x1="378.79" y1="308.8" x2="385.32" y2="313.15" stroke="#1a1a1a" stroke-width="1.25" stroke-linecap="round"/>
<line x1="394.64" y1="308.2" x2="394.64" y2="300.58" stroke="#1a1a1a" stroke-width="1.25" stroke-linecap="round"/>
<line x1="396.94" y1="310.34" x2="404.93" y2="315.1" stroke="#1a1a1a" stroke-width="1.25" stroke-linecap="round"/>
<line x1="385.88" y1="316.29" x2="385.88" y2="325.65" stroke="#1a1a1a" stroke-width="1.25" stroke-linecap="round"/>
<line x1="310.2" y1="266.12" x2="307.65" y2="278.03" stroke="#1a1a1a" stroke-width="1.25" stroke-linecap="round"/>
<line x1="307.65" y1="278.03" x2="316.16" y2="286.53" stroke="#1a1a1a" stroke-width="1.25" stroke-linecap="round"/>
<line x1="316.16" y1="286.53" x2="325" y2="283.47" stroke="#1a1a1a" stroke-width="1.25" stroke-linecap="round"/>
<line x1="316.16" y1="286.53" x2="314.46" y2="296.39" stroke="#1a1a1a" stroke-width="1.25" stroke-linecap="round"/>
<circle cx="331.46" cy="243.16" r="3.4" fill="#fff"/>
<text x="331.46" y="245.86" font-size="7.5" text-anchor="middle" fill="#1a1a1a" stroke="#1a1a1a" stroke-width="0.15" >S</text>
<circle cx="341.67" cy="272.93" r="3.4" fill="#fff"/>
<text x="341.67" y="275.63" font-size="7.5" text-anchor="middle" fill="#1a1a1a" stroke="#1a1a1a" stroke-width="0.15" >S</text>
<circle cx="310.2" cy="266.12" r="3.4" fill="#fff"/>
<text x="310.2" y="268.82" font-size="7.5" text-anchor="middle" fill="#1a1a1a" stroke="#1a1a1a" stroke-width="0.15" >N</text>
<circle cx="355.61" cy="292.48" r="3.4" fill="#fff"/>
<text x="355.61" y="295.18" font-size="7.5" text-anchor="middle" fill="#1a1a1a" stroke="#1a1a1a" stroke-width="0.15" >O</text>
<circle cx="407.14" cy="316.29" r="3.4" fill="#fff"/>
<text x="407.14" y="318.99" font-size="7.5" text-anchor="middle" fill="#1a1a1a" stroke="#1a1a1a" stroke-width="0.15" >F</text>
<circle cx="386.22" cy="329.05" r="3.4" fill="#fff"/>
<text x="386.22" y="331.75" font-size="7.5" text-anchor="middle" fill="#1a1a1a" stroke="#1a1a1a" stroke-width="0.15" >F</text>
<circle cx="285.54" cy="223.61" r="3.4" fill="#fff"/>
<text x="285.54" y="226.31" font-size="7.5" text-anchor="middle" fill="#1a1a1a" stroke="#1a1a1a" stroke-width="0.15" >N</text>
<circle cx="305.95" cy="223.61" r="3.4" fill="#fff"/>
<text x="305.95" y="226.31" font-size="7.5" text-anchor="middle" fill="#1a1a1a" stroke="#1a1a1a" stroke-width="0.15" >N</text>
<circle cx="295.75" cy="215.95" r="3.4" fill="#fff"/>
<text x="295.75" y="218.65" font-size="7.5" text-anchor="middle" fill="#1a1a1a" stroke="#1a1a1a" stroke-width="0.15" >S</text>
<circle cx="184.35" cy="273.27" r="3.6" fill="#fff"/>
<text x="184.35" y="275.87" font-size="7.2" text-anchor="middle" fill="#1a1a1a" stroke="#1a1a1a" stroke-width="0.15" >NC</text>
<circle cx="206.12" cy="258.98" r="3.6" fill="#fff"/>
<text x="206.12" y="261.58" font-size="7.2" text-anchor="middle" fill="#1a1a1a" stroke="#1a1a1a" stroke-width="0.15" >CN</text>
<circle cx="407.14" cy="273.27" r="3.6" fill="#fff"/>
<text x="407.14" y="275.87" font-size="7.2" text-anchor="middle" fill="#1a1a1a" stroke="#1a1a1a" stroke-width="0.15" >CN</text>
<circle cx="385.37" cy="258.98" r="3.6" fill="#fff"/>
<text x="385.37" y="261.58" font-size="7.2" text-anchor="middle" fill="#1a1a1a" stroke="#1a1a1a" stroke-width="0.15" >NC</text>
<text x="221.77" y="250.26" font-size="7.2" text-anchor="middle" fill="#000" stroke="#000" stroke-width="0.2">C<tspan font-size="4.896000000000001" dy="1.6">11</tspan><tspan dy="-1.6">H</tspan><tspan font-size="4.896000000000001" dy="1.6">23</tspan></text>
<text x="369.73" y="250.26" font-size="7.2" text-anchor="middle" fill="#000" stroke="#000" stroke-width="0.2">C<tspan font-size="4.896000000000001" dy="1.6">11</tspan><tspan dy="-1.6">H</tspan><tspan font-size="4.896000000000001" dy="1.6">23</tspan></text>
<text x="256.63" y="285.97" font-size="7.2" text-anchor="middle" fill="#000" stroke="#000" stroke-width="0.2">C<tspan font-size="4.896000000000001" dy="1.6">2</tspan><tspan dy="-1.6">H</tspan><tspan font-size="4.896000000000001" dy="1.6">5</tspan></text>
<text x="282.99" y="302.13" font-size="7.2" text-anchor="middle" fill="#000" stroke="#000" stroke-width="0.2">C<tspan font-size="4.896000000000001" dy="1.6">4</tspan><tspan dy="-1.6">H</tspan><tspan font-size="4.896000000000001" dy="1.6">9</tspan></text>
<text x="334.86" y="285.97" font-size="7.2" text-anchor="middle" fill="#000" stroke="#000" stroke-width="0.2">C<tspan font-size="4.896000000000001" dy="1.6">2</tspan><tspan dy="-1.6">H</tspan><tspan font-size="4.896000000000001" dy="1.6">5</tspan></text>
<text x="308.5" y="302.13" font-size="7.2" text-anchor="middle" fill="#000" stroke="#000" stroke-width="0.2">C<tspan font-size="4.896000000000001" dy="1.6">4</tspan><tspan dy="-1.6">H</tspan><tspan font-size="4.896000000000001" dy="1.6">9</tspan></text>
<text x="331" y="344" font-size="16" text-anchor="middle" fill="#000" stroke="#000" stroke-width="0.2" >Y6</text>
</svg>
</body></html>
